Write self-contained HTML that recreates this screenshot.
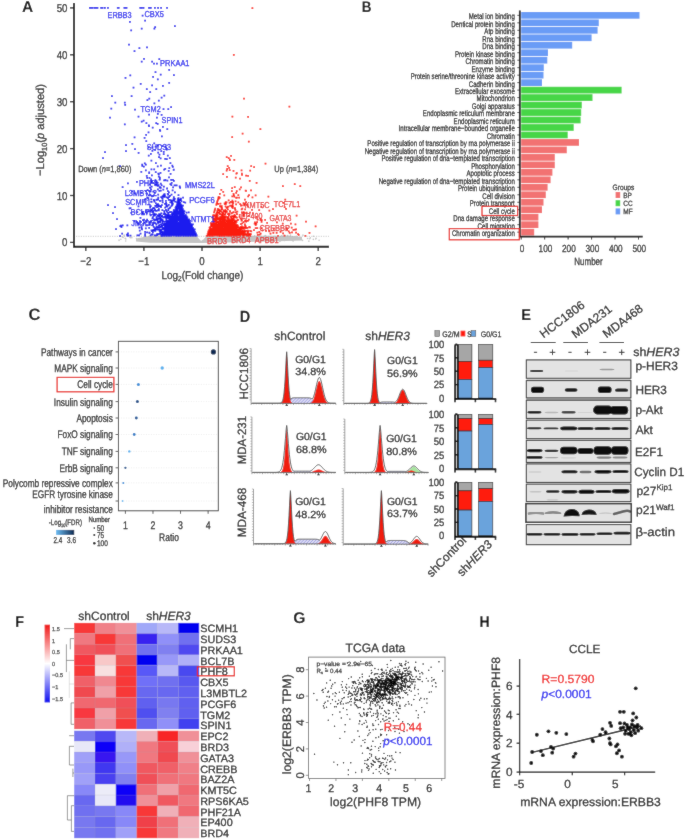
<!DOCTYPE html>
<html><head><meta charset="utf-8"><style>
html,body{margin:0;padding:0;background:#fff;width:685px;height:840px;overflow:hidden}
svg{display:block;will-change:transform}
text{text-rendering:geometricPrecision}
text{font-family:"Liberation Sans",sans-serif}
</style></head><body>
<svg width="685" height="840" viewBox="0 0 685 840">
<defs><filter id="soft" x="0" y="0" width="685" height="840" filterUnits="userSpaceOnUse"><feConvolveMatrix order="3" kernelMatrix="0.02 0.05 0.02 0.05 0.72 0.05 0.02 0.05 0.02" edgeMode="duplicate" preserveAlpha="true"/></filter></defs>
<g filter="url(#soft)">
<rect width="685" height="840" fill="#fff"/>
<path d="M136 238.5L150 235.8L196 235.4L201.5 241.5L207 235.4L290 235.8L302 237L302 240.5L230 242.6L201.5 243L150 242.8L136 241.5Z" fill="#c4c4c4"/>
<path d="M244.27 241.08h0M274.69 236.38h0M178.63 240.91h0M119.06 240.55h0M279.01 238.08h0M179.21 236.75h0M169.48 237.92h0M219.92 238.67h0M319.09 240.35h0M243.68 241.72h0M161.49 235.92h0M241.73 235.11h0M125.21 238.4h0M212.17 241.22h0M245.1 238.4h0M218.37 236.53h0M120.38 236.15h0M257.79 236.2h0M192.65 234.83h0M285.67 235.88h0M172.06 240.96h0M220.98 240.73h0M247.22 239.99h0M136.48 238.59h0M220.57 240.9h0M190.98 238.99h0M129.97 237.51h0M183.25 235.85h0M282.9 237.46h0M315.71 238.93h0M240.22 239.27h0M254.64 235.86h0M206.94 236.48h0M313.5 236.31h0M253.7 236.9h0M294.56 239.44h0M144.59 240.72h0M308.88 241.13h0M233.08 235.82h0M156.88 241.3h0M229.57 236.06h0M296.58 239.29h0M233.08 237.43h0M125.69 240.93h0M212.48 238.63h0M183.08 240.06h0M123.09 237.41h0M124.13 235.66h0M313.36 239.4h0M294.31 237.21h0M237.24 239.59h0M189.79 238.43h0M272.58 241.16h0M148.51 241.33h0M119.05 240.07h0M281.73 235.76h0M202.62 240.51h0M120.88 239.2h0M278.19 238.39h0M264.62 236.38h0M158.1 237.34h0M154.24 237.22h0M309.52 238.81h0M186.69 236.7h0M310.31 237.91h0M316.04 238.41h0M223.28 241.08h0M268.04 238.86h0M204.18 240.95h0M201.15 241.26h0M131.88 237.81h0M222.94 241.46h0M168.7 240.44h0M254.65 239.82h0M245.18 241.6h0M185.2 237.59h0M158.99 235.15h0M161.01 241.21h0M287.71 235.59h0M239.96 238.15h0M238.13 239.41h0M179.95 241.53h0M212.1 239.2h0M246.32 236.09h0M130.5 237.68h0M272.33 240.51h0M265.46 235.59h0M302.5 240.41h0M295.29 238.46h0M302.96 235.13h0M124.12 234.94h0M169.06 236.54h0M155.88 238.77h0M125.88 238.93h0M151.53 239.55h0M122.26 236.97h0M307.54 238.57h0M281.94 239.41h0M241.37 236.14h0M234.03 235.08h0M279.94 241.52h0M290.51 235.15h0M186.41 237.03h0M140.77 239.19h0M279.09 237h0M292.29 240.38h0M144.09 240.17h0M296.29 236.18h0M233.88 239.27h0M241.09 235.47h0M251.56 239.22h0M284.42 240.42h0M184.09 239.85h0M293.19 241.05h0M150.63 234.99h0M249.46 236.3h0M231.87 241.41h0" stroke="#c4c4c4" stroke-width="1.6" stroke-linecap="round" fill="none"/>
<path d="M180.42 208.97h0M174.31 225.67h0M180.46 232.38h0M168.09 225.91h0M174.34 233.48h0M178.49 227.12h0M190.21 228.19h0M174.19 232.45h0M191.28 234.81h0M182.82 214.48h0M178.61 198.47h0M182.89 226.2h0M177.21 228.33h0M172.52 229.12h0M166.82 232.06h0M191.86 229.14h0M182.27 230.43h0M183.55 231.37h0M186.05 230.79h0M191.83 232.18h0M170.52 232.28h0M164.89 230.65h0M173.4 223h0M182.63 225.88h0M179.91 230.31h0M178.38 234.09h0M176.67 210.09h0M174.66 234.04h0M176.4 213.5h0M178.45 233.65h0M167 229.39h0M190.67 229.35h0M176.11 234.8h0M190.97 224.05h0M186.53 221.95h0M185.75 231.33h0M189.18 228.98h0M176.44 225.59h0M182.97 222.03h0M181.77 212.86h0M176.67 226.21h0M175.06 228.52h0M180.72 222.12h0M193.22 234.79h0M173.38 211.7h0M183.47 230.22h0M179.77 209.78h0M169.6 223.57h0M170.8 229.68h0M167.31 233.88h0M171.89 214.37h0M181.11 217.84h0M167.09 234.34h0M178.52 198.9h0M171.44 231.87h0M179.43 214.13h0M177.35 212.49h0M188.83 232.64h0M192.85 231.85h0M174.71 231.58h0M180.76 233.37h0M169.7 231.12h0M179.88 216.04h0M183.37 220.88h0M178.32 235.87h0M176.33 224.13h0M180.06 203.02h0M168.08 231.65h0M183.97 223.55h0M169.65 231.93h0M181.16 233.75h0M181.25 221.35h0M195.83 233.44h0M182.59 224.08h0M174.6 233.87h0M177.25 233.09h0M180.7 207.34h0M179.16 227.33h0M175.34 214.95h0M180.84 204.46h0M177.16 226.16h0M171.61 232.04h0M178.92 203.59h0M187.95 231.73h0M189.42 228.59h0M179.17 231.41h0M185.74 228.84h0M187.86 234.44h0M189.92 227.35h0M190.65 228.09h0M180.85 221.93h0M174.96 226.15h0M181.83 211.87h0M176.74 231.69h0M175.57 229.57h0M173.78 233.48h0M186.1 222.6h0M176.38 235.98h0M183.11 227.55h0M171.83 221.99h0M175.86 232.07h0M182.69 232.84h0M192.74 233.85h0M171.82 217.59h0M189.75 235.24h0M165.32 235.5h0M181.37 216.59h0M194.91 231.52h0M176.52 210.38h0M186.62 227.92h0M166.13 228.71h0M176.41 233.35h0M184.29 227.14h0M172.4 218.84h0M186.56 235h0M185.83 235.4h0M180.48 227.46h0M190.34 234.6h0M193.4 229.96h0M190.13 229.4h0M163.64 235.45h0M178.49 200h0M186.22 230.43h0M179.72 231.7h0M183.39 233.11h0M187.19 225.21h0M174.6 213.88h0M182.15 230.33h0M190.55 234.83h0M183.42 234.84h0M186.9 232.64h0M183.37 235.72h0M178.81 206.84h0M179.07 230.26h0M191.95 233.25h0M193.43 235.41h0M176.09 211.14h0M189.38 231.42h0M176.32 227h0M180.95 209.38h0M174.33 229.28h0M177.23 224.06h0M179.56 223.17h0M191.17 235.75h0M181.39 220.74h0M180.05 212.94h0M182.72 214.14h0M179.1 214.88h0M183.02 225.97h0M171.68 234.15h0M177.53 231.09h0M187.71 220.03h0M174.88 220h0M182.06 234.45h0M181.66 221.87h0M183.19 230.47h0M178.79 231.07h0M190.63 229.81h0M175.89 216.49h0M185.03 227.65h0M189.37 223.91h0M163.5 234.87h0M181.64 227.99h0M175.17 230.95h0M186.98 234.82h0M172.88 217.25h0M180.13 234.48h0M181.24 224.59h0M177.96 233.25h0M184.46 235.66h0M176.72 230.8h0M177.44 210.83h0M181.49 228.69h0M189.87 223.37h0M184.98 222.74h0M184.21 224.03h0M181.93 234.99h0M191.85 225.91h0M173.29 226.53h0M190.52 228.85h0M181.29 210.96h0M188.36 225.01h0M176.95 210.39h0M171.12 235.46h0M178.42 201.36h0M192.67 233.79h0M166.18 231.53h0M188.61 233.53h0M168.43 231.2h0M182.79 216.46h0M170.08 218.24h0M173.08 234.45h0M181.84 221.21h0M176.23 235.75h0M184.49 221.09h0M185.24 220.48h0M186.25 230.08h0M178 203.42h0M187.56 221.39h0M177.4 217.31h0M189 230.99h0M190.41 229.31h0M181.84 232.49h0M190.24 228.32h0M171.24 226.63h0M178.43 200.58h0M193.48 230.99h0M178.66 201.17h0M183.5 232.72h0M177.94 200.46h0M170.38 217.12h0M164.56 228.16h0M175.12 234.13h0M179.46 224.54h0M178.48 198.01h0M174.32 212.15h0M163.93 233.98h0M195.81 235.62h0M191.69 233.89h0M182.47 235.48h0M172.26 220.69h0M170.72 219.03h0M177.54 230.17h0M192.36 233.63h0M179.28 201.1h0M174.51 226.18h0M185.11 217.47h0M188.87 227.84h0M188.09 231.66h0M162.64 234.15h0M188.81 226.15h0M188.99 235.59h0M178.88 234.23h0M191.33 234.67h0M189.45 227.26h0M179.56 233.91h0M191.12 228.7h0M182.41 234.65h0M179.04 200.78h0M191.42 230.7h0M171.8 234.16h0M175.35 233.36h0M187.83 229.48h0M176.11 231.63h0M169.19 232.28h0M182.73 214.21h0M165.04 230.54h0M186.24 234.85h0M175.6 222.98h0M186.22 229.99h0M190.03 222.8h0M174.09 230.47h0M183.13 211.35h0M184.17 232.85h0M180.12 227.49h0M193.4 231.15h0M194.97 235.78h0M182.22 214.52h0M180.25 231.53h0M181.92 212.84h0M165.73 228.09h0M188.21 232.71h0M177.28 209.25h0M180.96 226.62h0M177.71 201.07h0M182.24 213.75h0M180.53 231.29h0M181.09 233.19h0M171.65 226.52h0M192.93 232.98h0M170.33 224.27h0M185.5 228.21h0M180.8 232.9h0M179.38 212.93h0M183.47 220.83h0M164.57 231.76h0M190.62 230.84h0M188.17 235.62h0M178.05 233.88h0M193.2 228.95h0M177.81 225.23h0M174.1 219.09h0M169.31 229.77h0M171.64 229.34h0M175.41 223.47h0M179.06 230.28h0M187.65 229.82h0M181.05 228.93h0M185.38 235.6h0M177.65 233.6h0M184.01 229.48h0M166.02 229.7h0M182.63 233.82h0M191.81 230.91h0M190.03 224.88h0M181.72 233.86h0M176.46 211.71h0M174.18 228.81h0M168.66 222.18h0M172.02 224.74h0M188.06 228.62h0M193.17 228h0M173.82 223.52h0M171.58 234.72h0M179.58 233.73h0M186.75 223.59h0M192.65 229.77h0M191.87 234.26h0M177.3 220.02h0M178.08 202.41h0M179.84 202.77h0M170.26 222.71h0M170.94 234.61h0M174.75 231.77h0M181.83 229.66h0M196.22 234.73h0M176.01 207.08h0M168.48 224.31h0M169.27 228.88h0M183.32 211.11h0M191.99 229.02h0M189.8 230.33h0M180.29 226.12h0M177.04 233.3h0M180.7 221.23h0M187.41 227.8h0M177.86 235.23h0M184.92 223.36h0M171.23 234.71h0M177.26 229.47h0M180.08 211.45h0M177.51 201.58h0M176.58 214.6h0M189.43 222.53h0M176.09 210.03h0M194.11 235.45h0M176.76 231.59h0M187.88 234.48h0M187.3 235h0M166.99 233.41h0M189.26 232.53h0M180.89 226.02h0M188.07 228.06h0M174.49 227.1h0M169.95 221.55h0M184.62 235.91h0M184.48 211.33h0M180.99 219.94h0M189.52 223.74h0M168.88 231.6h0M189.69 232.69h0M185.66 231.51h0M165.98 235.88h0M177.24 209.04h0M188.73 233.64h0M190.04 235.83h0M185.59 218.25h0M187.97 225.99h0M187.05 221.67h0M191.1 231.89h0M188.83 235.89h0M187.25 222.32h0M181.8 222.39h0M181.61 221.42h0M188.15 227.72h0M187.7 229.71h0M178.54 213.06h0M165.34 235.35h0M181.89 215.85h0M189.96 228.88h0M189.14 225.24h0M194.3 235.54h0M182.61 209.55h0M174.34 232.46h0M195.81 233.75h0M178.85 200.21h0M174.33 233.24h0M179.37 224.81h0M176.44 232.84h0M195.69 234.68h0M184.77 229.37h0M191.99 235.9h0M186.93 229.02h0M180.56 207.07h0M180.76 209.99h0M189.33 234.97h0M176.68 234.61h0M185.39 228.57h0M165.59 235.45h0M195.11 235.09h0M164.53 235.97h0M172.83 213.04h0M180.86 208.86h0M176.9 218.05h0M193.01 234.25h0M182.78 235.69h0M188.28 229.44h0M171.71 228.21h0M176.45 228.53h0M186.15 226.02h0M187.36 217.41h0M186.7 231.5h0M164.66 235.94h0M177.4 219.47h0M182.69 235.58h0M177.08 219.95h0M189.32 230.04h0M184.38 224.82h0M184.87 225.71h0M191.84 235h0M169.17 233.25h0M176.22 218.36h0M167.42 229.76h0M184.14 229.38h0M192.97 230.49h0M179.48 227.03h0M180.04 231.81h0M170.9 222.73h0M172.71 229.21h0M178.28 222.62h0M180.19 233.91h0M177.92 223.54h0M168.95 234.05h0M183.07 232.44h0M170.76 231.29h0M176.76 205.07h0M180.83 231.12h0M188.96 231.38h0M173.47 229.65h0M166.96 228.91h0M176.75 217.49h0M178.58 219.57h0M179.41 211.37h0M175.49 235.09h0M196.03 235.88h0M184.9 218.28h0M189.79 230.69h0M193.99 230.87h0M174.68 229.1h0M182.74 219.27h0M185.65 228.16h0M184.95 233.84h0M187.02 230.39h0M169.32 234.82h0M188.93 233.78h0M171.25 228.44h0M176.34 227.54h0M171.04 219.49h0M192.79 231.35h0M185.41 229.83h0M181.48 234.24h0M179.49 218.16h0M172.78 235.21h0M190.54 234.55h0M179.76 228h0M179.53 233.03h0M181.57 235.74h0M170.42 233.59h0M179.9 204.79h0M175.17 230.98h0M175.91 235.34h0M181.63 209.52h0M183.09 215.77h0M168.48 234.67h0M174.74 235.28h0M187.85 223.53h0M189.87 227.92h0M169.8 229.03h0M179.27 234.48h0M189.31 233.82h0M182.15 208.9h0M186.57 228.27h0M185.49 229.05h0M192.22 231.27h0M174.95 213.71h0M191.51 234.47h0M188.19 225.8h0M185.1 233.52h0M185.7 230.42h0M176.48 235.13h0M176.51 208.06h0M193.97 235.85h0M175.14 226.75h0M174.3 225.84h0M185.73 225.27h0M165.79 232.94h0M173.24 223.51h0M183.56 212.21h0M177.77 202.1h0M189.03 224.8h0M184.37 225.74h0M183.39 233.84h0M183.67 234.15h0M171.65 227.06h0M178.83 220.3h0M175.85 226.45h0M178.89 232.2h0M172.69 220.67h0M178.05 200.35h0M189.83 223.45h0M170.43 235.01h0M172.17 219.2h0M193.63 233.28h0M170.28 226.04h0M183.08 234.89h0M193.12 233.77h0M172.13 221.52h0M174.61 213.23h0M173.69 232.31h0M183.66 230.28h0M176.99 207.41h0M188.49 225.88h0M175.87 216.52h0M188.67 222.45h0M170.09 234.28h0M183.92 217.22h0M177.22 235.89h0M188.11 226.36h0M168.2 228.37h0M177.64 225.04h0M179.75 203.3h0M192.6 228.13h0M183.09 234.39h0M180.11 219.93h0M170.35 221.18h0M179.88 234.17h0M186.01 218.86h0M183.01 232.18h0M177.03 206.7h0M180.98 210.89h0M170.49 220.74h0M183.96 234.39h0M180.38 230.32h0M191.41 229.53h0M171.97 227.34h0M168.76 227.36h0M186.77 229.76h0M179 228.66h0M178.81 213.15h0M180.5 233.82h0M178.38 201.38h0M165.51 232h0M182.03 218.43h0M184.85 225.66h0M181.92 209.62h0M186.69 235.07h0M176.69 233.35h0M174.43 220.07h0M179.69 235.14h0M190.52 232.86h0M171.44 232.28h0M176.94 226.52h0M177.19 206.1h0M180.78 220.92h0M171.21 235.31h0M172.83 233.88h0M187.11 218.95h0M182.9 222.48h0M174.93 229.6h0M195.38 234.72h0M187.69 228.48h0M172.35 216.49h0M170.89 234.55h0M182.38 217.45h0M188.66 230.57h0M167.64 233.67h0M181.51 214.96h0M171.86 234.7h0M188.95 234.02h0M184.7 234.66h0M175.28 228.5h0M174.94 230.38h0M176.28 226.07h0M185.01 224.96h0M176.24 215.17h0M182.73 221.31h0M165.39 230.36h0M168.1 231.29h0M186.89 232.35h0M173.53 232h0M183.3 222.98h0M190.54 231.28h0M194.05 230.12h0M190.77 229.57h0M172.95 221.14h0M179.06 201.51h0M167.49 224.21h0M179.17 234.46h0M180.38 230.42h0M184.89 230.47h0M181.17 216.52h0M174.35 214.21h0M169.1 220.81h0M173.65 234.33h0M192.92 229.45h0M169.39 222.87h0M174.23 216.54h0M185.99 233.94h0M183.65 224.17h0M179.93 229.46h0M180.57 220.33h0M188.64 234.31h0M179.84 230.41h0M182.14 222.92h0M171.92 220.79h0M178.29 199.87h0M192.27 234.53h0M167.47 231.62h0M194.69 235.83h0M176.88 228.07h0M180.86 222.09h0M184.29 217.59h0M178.68 200.52h0M181.33 229.98h0M182.16 210.62h0M179.76 228.78h0M180.76 234.62h0M175.42 221.19h0M178.53 223.51h0M167.49 231.86h0M169.11 227.41h0M170.22 226.8h0M189.89 231.21h0M171.46 220.27h0M169.33 219.44h0M168.74 232.6h0M177.1 218.52h0M183.71 226.57h0M186.76 235.75h0M178.41 199.92h0M175.34 229.06h0M175.56 218.87h0M177.4 232.55h0M175.43 218.61h0M168.23 222.14h0M179.19 222.82h0M172.64 228.64h0M184.96 215.86h0M175.71 228.69h0M188.58 228.65h0M181.82 224.39h0M180.32 221.4h0M186.07 234.27h0M193.84 234.11h0M191.45 230.22h0M185.1 227.88h0M189.23 231.27h0M175.97 223.2h0M182.23 227.47h0M177.92 235.53h0M175.97 218.41h0M184.83 233.38h0M162.39 231.82h0M181.43 223.67h0M177.51 231.48h0M177.96 225.72h0M186.56 230.57h0M187.64 224.41h0M179.87 234.61h0M182.76 233.89h0M170.49 230.01h0M177.15 202.27h0M177.68 226.25h0M182.99 235h0M182.2 231.78h0M180.51 220.72h0M193.75 233.63h0M194.33 233.33h0M173.49 218.6h0M167.09 225.68h0M189.45 232.38h0M163.94 228.95h0M187 224.48h0M194.71 233.74h0M183.2 211.97h0M190.17 225.52h0M175.84 211.13h0M167.94 235.77h0M191.31 234.84h0M175.25 219.38h0M178.29 226.2h0M186.09 234.12h0M164.92 227.32h0M174.77 227.44h0M170.65 217.33h0M181.71 229.91h0M170.81 229.91h0M173.74 221.01h0M176.85 215.51h0M180.81 227.04h0M188.43 233.61h0M185.82 235.07h0M176.01 211.2h0M181.16 221.24h0M183.46 215.88h0M187.21 233.9h0M181.34 231.46h0M169.42 235.85h0M195.62 233.25h0M188.72 235.19h0M180.05 203.57h0M164.88 235.82h0M189.72 224.05h0M184.93 223.32h0M187.43 232.49h0M181.39 217.44h0M170.65 235.62h0M186.16 224.66h0M169.97 232.79h0M181.43 229.91h0M181.67 233.44h0M175.54 232.58h0M186.07 219.42h0M180.73 230.21h0M178.26 198.54h0M173.72 232.81h0M170.9 234.58h0M187.17 232.95h0M171.41 218.5h0M167.71 232.05h0M166.54 234.86h0M191.12 233.32h0M164.46 234.59h0M183.8 224.78h0M181.4 234.2h0M179.74 223.13h0M180.7 218.71h0M189.81 235.72h0M175.83 231.43h0M181.26 228.1h0M179.3 234.14h0M192.93 232.18h0M170.61 231.04h0M188.99 228.18h0M174.94 228.03h0M178.83 233.78h0M182.44 228.04h0M180.67 229.8h0M188.38 220.7h0M177.7 230.71h0M187.51 226.33h0M183.69 229.87h0M187.26 230.23h0M184.4 221.23h0M189.28 229.44h0M182.83 233.43h0M179.03 230.5h0M177.11 229.95h0M176.02 235.61h0M169.26 229.4h0M179.89 215.91h0M164.63 229.05h0M177.65 213.63h0M183.32 213.27h0M177.41 222.13h0M186.24 235.65h0M181.77 220.13h0M194.34 235.09h0M178.17 230.58h0M171.21 224.55h0M173.79 223.07h0M176.32 206.69h0M193.03 228.58h0M183.47 225.2h0M187.81 235.79h0M178.56 224.33h0M172.57 218.72h0M192.07 229.23h0M186.48 217.61h0M182.63 229.35h0M177.85 204.54h0M189.4 227.67h0M171.95 228.86h0M168.92 235.24h0M179.45 222.97h0M171.68 230.19h0M165.64 226.23h0M182.95 222.66h0M189.2 231.55h0M183.6 210.92h0M162.65 233.27h0M191.32 231.85h0M180.99 221.54h0M168.92 234.53h0M179.82 229.02h0M184.79 221.1h0M187.69 233.64h0M177.33 204.02h0M175.58 230.23h0M177.57 234.12h0M181.24 222.04h0M181.85 210.17h0M172.17 234.92h0M180.54 216.21h0M182.86 231.92h0M183.65 210.52h0M189.46 233.47h0M170.76 229.22h0M171.36 235.68h0M178.44 235.44h0M165.61 230.61h0M186.51 217.01h0M180.73 227.55h0M179.99 218.72h0M184.01 227.87h0M180.5 233.87h0M185.83 215.05h0M184.97 233.31h0M179.65 230.51h0M191.02 231.26h0M177.06 217.37h0M176.81 230.63h0M188.29 234.71h0M185.77 230.99h0M184.82 234.2h0M188.15 230.3h0M168.13 233.82h0M174.16 227.52h0M180.21 220.48h0M190.81 227.7h0M174.18 231.29h0M178.81 234.96h0M175.49 207.52h0M188.29 230.98h0M177.73 202.19h0M180.96 210.02h0M179.4 217.25h0M189.08 223.39h0M180.05 219.7h0M183.06 226.96h0M176.9 224.62h0M175.29 221.97h0M164.76 233.55h0M169.51 229.79h0M189.99 224.63h0M177.45 209.16h0M190 231.94h0M183.76 220.82h0M184.19 231.99h0M192.77 233.65h0M173.86 229.05h0M185.58 229.23h0M183.04 227.72h0M187.17 229.59h0M184.3 234.9h0M187.94 228.3h0M174.94 216.87h0M178.32 232.15h0M189.48 233.77h0M180.17 230.14h0M166.9 227.99h0M184.44 228.42h0M174.93 231.82h0M184.26 220h0M186.05 233.1h0M182.1 223.51h0M179.01 234.4h0M188.59 227.47h0M177.16 214.28h0M168.06 223.13h0M179.83 231.51h0M182.85 232.28h0M181.69 209.69h0M173.63 233.81h0M173.05 231.57h0M189.79 229.14h0M179.26 208.62h0M181.04 215.61h0M169.79 228.18h0M173.8 216.23h0M175.65 227.02h0M191.52 228.16h0M186.41 223.52h0M183.62 219.93h0M165.56 226.63h0M184.5 232.49h0M188.74 235.3h0M176.26 224.8h0M188.59 224.95h0M165.95 233.99h0M177.09 221.79h0M181.06 205.57h0M178.92 233.17h0M179.74 223.27h0M179.83 226.62h0M185.15 227.4h0M179.54 230.83h0M178.79 223.12h0M182.27 219.86h0M193.15 228.09h0M168.8 220.67h0M181.39 216.64h0M187.31 223.2h0M183.76 225.13h0M167.89 220.91h0M179.89 220.65h0M178.37 231.2h0M187 224.18h0M190.56 233.35h0M181.67 212.04h0M169.39 231.73h0M178.71 235.96h0M193.65 233.11h0M187.8 225.39h0M176.39 214.38h0M175.17 223.57h0M184.24 223.7h0M195.35 235.47h0M177.36 233.88h0M171.95 234.75h0M175.11 234.59h0M183.44 224.16h0M178.79 205.49h0M178.17 208.7h0M186.41 233.25h0M166.96 230.38h0M178.69 205.69h0M172.02 221.34h0M178.59 200.66h0M169.99 231.18h0M177.52 218.93h0M173.17 226.17h0M167.37 223.26h0M178.53 205.91h0M176.01 234.7h0M176.99 233.76h0M183.55 216.13h0M178.84 212.84h0M178.36 199.02h0M179.42 223.47h0M181.32 230.59h0M183.3 230.66h0M176.67 226.52h0M170.68 235.82h0M176.31 219.47h0M171.97 223.35h0M177.03 227.85h0M170.37 233.49h0M181.93 222.46h0M175.5 225.74h0M176.87 228.45h0M185.51 224h0M180.03 214.65h0M175.59 231.25h0M191.49 231.33h0M172.73 214.34h0M187.44 232.52h0M181.1 224.16h0M180.31 233.11h0M178.59 234.98h0M180.35 235.93h0M188.03 220.44h0M183.68 235.97h0M170.65 222.73h0M182.4 226.2h0M181.22 233.25h0M187.81 230.4h0M189.74 225.95h0M176.91 208.51h0M168.9 231.9h0M178.78 211.39h0M181.13 216.64h0M162.38 232.66h0M179.92 227.79h0M193.29 234.07h0M176.77 222.48h0M176.57 206.81h0M181.81 227h0M180.34 225.94h0M172.44 224.82h0M176.49 229.32h0M174.59 227.64h0M181.66 220.88h0M182.98 234.47h0M173.1 231.77h0M173.45 220.97h0M168.98 225.13h0M186.01 225.66h0M168.83 226.99h0M176.07 233.87h0M173.83 234.32h0M189.03 235.81h0M172.09 229.35h0M188.94 233.52h0M168.41 227.47h0M173.95 227.42h0M181.11 234.32h0M181.63 226.48h0M170.99 218.93h0M190.72 233.58h0M195.29 234.52h0M169.97 232.08h0M187.72 227.87h0M194.73 233.01h0M174.84 230.38h0M175.76 211.29h0M189.11 235.47h0M182.6 231.19h0M185.53 234.33h0M182.59 232.55h0M167.91 234.39h0M169.89 234.16h0M177.95 233.92h0M194.64 233.89h0M178.62 216.8h0M183.63 214.93h0M185.86 228.03h0M190.05 230.19h0M163.3 235.38h0M191.64 235.29h0M168.88 225.44h0M167.49 223.09h0M175.73 215.35h0M174.76 231.73h0M168.54 234.53h0M193.94 235.14h0M180.93 231.76h0M195.79 234.51h0M186.57 216.26h0M179.63 227.95h0M184.97 234.49h0M178.87 232.56h0M171.57 233.13h0M194.31 233.46h0M182.29 208.43h0M185.58 228.83h0M172.79 229.44h0M185.52 216.14h0M184.62 226.14h0M194.93 232.84h0M173.25 229.41h0M181.71 217.07h0M171.07 216.82h0M195.48 234.79h0M181.98 231.16h0M180.61 233.56h0M186.43 228.63h0M194.6 234.04h0M179.62 225.2h0M174.12 223.61h0M184.02 215.84h0M187.21 231.99h0M175.62 226.94h0M173.95 220.32h0M181.57 209.18h0M181.35 205.03h0M185.84 226.34h0M188.06 221.92h0M196.65 235.84h0M167.66 232.71h0M178.76 204.07h0M181.91 225.18h0M181.17 234.56h0M186.08 231.91h0M183.82 228.15h0M168.55 234.32h0M170.29 235.7h0M173.84 217.82h0M184.37 233.58h0M176.3 231.28h0M175.19 221.43h0M175.14 225.05h0M186.63 229.76h0M182.23 207.74h0M190.96 225.66h0M174.74 214.92h0M175.43 233.71h0M176.98 225.64h0M176.09 225.36h0M178.04 230.22h0M177.82 212.75h0M184.37 229.42h0M185.83 225.54h0M178.48 233.02h0M178.06 218.69h0M188.01 229.3h0M173.01 224.21h0M190.52 233.51h0M184.74 231.32h0M182.43 223.57h0M189.87 226.32h0M165.69 226.29h0M177.56 220.08h0M183.84 211.32h0M182.52 227.03h0M182.05 208.47h0M181.11 233.6h0M164.91 230.38h0M181.91 226.36h0M187.32 220.98h0M168.39 230.93h0M173.27 233.01h0M187.18 229.08h0M171.52 226.19h0M177.48 224.63h0M195.89 233.63h0M192.3 227.66h0M186.79 217.53h0M174.02 225.42h0M194.56 232.25h0M186.19 226.6h0M179.8 222.05h0M182.99 218.03h0M181.94 229.59h0M170.88 231.87h0M172.46 215.41h0M190.42 223.75h0M178.12 202.2h0M182.83 209.12h0M175.38 219.26h0M180.17 207.4h0M181.46 222.69h0M175.5 218.71h0M177.51 209.01h0M172.88 216.2h0M187.65 230.93h0M188.12 230.35h0M193.85 232.95h0M164.91 232.76h0M185.29 222.36h0M177.75 201.97h0M193.64 233.7h0M178.93 223.18h0M183.74 233.02h0M177.3 229.46h0M183.23 229.29h0M186.65 228.95h0M171.64 228.62h0M183.57 224.14h0M183.8 232.48h0M179.78 206.57h0M189.15 227.11h0M172.7 219.26h0M184.64 223.6h0M185.5 233.84h0M184.46 219.72h0M179.03 223.86h0M184.69 225.67h0M173.86 230.52h0M181.34 227.15h0M172.53 228.56h0M196.54 235.14h0M174.02 229.46h0M173.92 231.92h0M185.01 234.95h0M192.05 226.14h0M187.75 231.5h0M175.26 225.97h0M175.52 218.45h0M189.53 232.54h0M175.63 211.95h0M173.29 232.28h0M182.93 230.63h0M191.22 225.02h0M192.48 233.23h0M169.79 234.82h0M185.08 234.32h0M179.16 228.2h0M175.98 232.5h0M184.82 219.79h0M182.34 214.74h0M189.05 235.97h0M177.82 219.9h0M192.61 232.81h0M174.15 220.48h0M182.28 224.64h0M164.49 231.2h0M189.18 230.68h0M187.93 233.61h0M181.86 229.22h0M170.24 227.6h0M188.73 219.36h0M168.73 223.55h0M189.9 226.27h0M191.01 225.15h0M182.82 209.62h0M173.5 232.32h0M182.31 211.94h0M188.87 231.08h0M178.28 198.97h0M183.66 216.04h0M185.65 224.54h0M178.22 225.44h0M194.93 233.53h0M170.13 225.51h0M181.33 225.06h0M174.94 214.53h0M177.6 228.03h0M183.74 220.23h0M184.17 213.71h0M174.4 225.86h0M171.37 219.85h0M192.95 233.43h0M181.83 228.44h0M193.74 230.78h0M164.88 233.14h0M185.19 217.18h0M171.13 217.44h0M187.88 228h0M176.44 234.44h0M188.4 235.71h0M169.46 227.26h0M183.24 225.25h0M176.73 223.12h0M169.25 229.86h0M177.98 212.86h0M181.6 211.13h0M186.86 228.16h0M176.6 234.89h0M178.76 225.6h0M177.02 223.45h0M188.43 227.43h0M169.57 232.75h0M175.72 208.98h0M181.87 226.56h0M171.94 217.82h0M184.75 230.76h0M171.51 225.96h0M172.86 218.45h0M190.3 226.52h0M178.37 199.34h0M176.7 224.23h0M183.43 233.18h0M188.73 226.26h0M184.43 227.22h0M173.75 227.75h0M181.97 220.88h0M189.71 235.74h0M183.71 218.4h0M187.53 222.13h0M180.58 233.17h0M181.14 214.68h0M180.35 213.66h0M179.79 221.63h0M185.96 225.45h0M182.91 227.3h0M179.83 229.34h0M176.91 222.64h0M183.38 233.63h0M184.62 233.16h0M188.33 232.73h0M177.53 225.81h0M179.02 229.8h0M173.51 232.8h0M177.51 229.69h0M166.96 225.47h0M190.11 233.13h0M184.82 222.89h0M189.2 227.82h0M164.8 234.31h0M143.21 223.86h0M152.43 218.45h0M162.15 198.19h0M174.67 230.22h0M176.97 232.67h0M172.15 230.35h0M160.28 222.15h0M168.73 216.42h0M164.75 213.93h0M160.43 217.98h0M170.59 173.86h0M168.81 226.94h0M166.8 214.77h0M174.55 217.7h0M162.36 229.04h0M162.55 200.28h0M149.33 191.2h0M158.1 227.73h0M148.32 198h0M151.58 201.9h0M151.06 189.3h0M159.92 187.09h0M171.9 220.63h0M162.11 231.82h0M168.29 226.22h0M189.21 219.5h0M158.8 215.99h0M161.11 205.95h0M192.92 224.34h0M183 205.64h0M184.45 224.05h0M170.88 234.85h0M150.99 221.05h0M171.78 232.02h0M156.54 217.45h0M166.91 231.46h0M173.89 221.36h0M164.51 195.46h0M151.95 196.33h0M152.03 234.4h0M159.08 216.71h0M169.59 221.91h0M160.46 227.06h0M156.38 199.83h0M188.73 212.37h0M159.87 177.66h0M178.02 231.24h0M140.95 221.91h0M156.43 229.27h0M152.88 225.02h0M163.05 232.29h0M176.72 230.4h0M161.28 151.23h0M169.8 235.2h0M175.02 234.67h0M164.56 217.34h0M168.65 229.14h0M181.48 201.31h0M176.19 233.14h0M174.91 192.33h0M186.59 212.57h0M147.16 177.99h0M189.97 220.79h0M155.03 230.53h0M179.64 216.06h0M166.38 233.15h0M190.87 233.14h0M177.86 205.79h0M157.78 219.15h0M169.76 199.88h0M170.29 202.26h0M158.34 209.78h0M170.41 228.83h0M162.34 234.46h0M165.54 233.99h0M162.57 198.33h0M167.91 225.77h0M150.13 184.49h0M183.78 202.23h0M150.17 207.71h0M164.64 194.04h0M159.15 214.08h0M181.81 227.26h0M162.49 223.74h0M156.29 182.52h0M187.42 231.46h0M155.45 180.11h0M160.78 183.7h0M155.9 203.36h0M168.17 194.58h0M166.48 204.22h0M154.48 213.5h0M167.46 206.13h0M155.7 184.5h0M168.75 204.86h0M155.14 223.01h0M176.74 227.21h0M177.77 223.56h0M151.18 179.49h0M166.05 221.65h0M175.26 233.94h0M150.15 206.21h0M168.92 230.04h0M184.13 233.1h0M174.35 198.54h0M175.23 229.5h0M143.85 166.52h0M165.11 231.64h0M166.53 218.93h0M154.5 208.48h0M148.73 155.69h0M172.43 202.74h0M147.16 193.55h0M165.64 146.41h0M154.87 215.44h0M165.9 200.97h0M179.81 199.61h0M166.91 197.27h0M153.81 199.84h0M169.39 221.92h0M157.66 182.75h0M169.9 228.83h0M165.02 225.43h0M165.78 217.71h0M158.86 209.01h0M162.59 220.3h0M170.36 229.71h0M164.79 226.04h0M178.5 226.25h0M176.29 227.5h0M163.31 225.45h0M145.84 164.63h0M182.14 231.32h0M161.32 213.25h0M155.02 228.06h0M159.44 225.17h0M163.2 217.38h0M177.79 199.08h0M171.53 194.66h0M163.97 194.67h0M150.69 206.04h0M165.05 234.22h0M162.46 234.86h0M184.46 234.15h0M165.65 225.48h0M185.28 202.51h0M173.02 226.78h0M161.14 234.62h0M166.33 205.99h0M157.84 222.66h0M172.44 225.72h0M145.79 228.27h0M180.95 230.55h0M170.6 232.36h0M176.36 230.08h0M146.75 175.81h0M192.57 232.57h0M144.77 163.28h0M154.58 229.07h0M161.08 207h0M171.69 231.56h0M152.58 231.18h0M166.3 229.13h0M171.28 220.63h0M156.42 224.34h0M168.7 170.97h0M165.47 226.79h0M152.58 211.62h0M158.67 215.68h0M154.5 201.56h0M154.25 143.46h0M172.77 217.93h0M166.32 220.29h0M170.56 226.86h0M165.6 216.69h0M167.87 191.18h0M175.3 201.55h0M151.47 230.42h0M163.32 189.65h0M155.89 163.14h0M181.55 217.44h0M171.68 182.83h0M154.1 229.92h0M158.52 206.41h0M144.26 199.97h0M172.63 233.8h0M170.53 229.52h0M148.82 125.48h0M142.29 165.94h0M172.87 233.66h0M155.2 209.99h0M168.98 192.47h0M156.73 217.08h0M190.05 233.08h0M183.78 235.93h0M182.5 228.66h0M145.82 212.24h0M176.19 213.96h0M178.46 218.84h0M151.89 175.32h0M159.82 179.25h0M163.51 234.44h0M172.41 200.58h0M192.17 235.04h0M153.67 214.67h0M154.33 230.11h0M173.64 231.46h0M156.5 226.61h0M172.31 205.1h0M164.53 232.78h0M171.01 219.05h0M175.12 213.69h0M168.94 222.81h0M173.87 199.94h0M156.56 226.94h0M155.7 229.74h0M169.12 224.76h0M153.01 208.41h0M167.3 228.4h0M171.34 214.89h0M162.62 196.05h0M170.93 221.36h0M170.66 227.83h0M138.46 206.46h0M166.11 234.55h0M160.42 214.42h0M175.96 185.39h0M179.76 218.64h0M162.82 235.27h0M178.25 233.03h0M158.51 185.06h0M167.39 180.71h0M151.34 210.18h0M174.66 225.99h0M171.72 202.14h0M152.85 232.37h0M171.36 220.37h0M178.24 202.34h0M164.42 212.16h0M170.43 163.11h0M158.02 229.51h0M157.46 234.02h0M154.87 235.37h0M166.84 159.01h0M144.18 222.7h0M171.11 200.39h0M164.74 216.92h0M169.27 220.38h0M162.9 227.93h0M149.09 114.69h0M166.73 235.45h0M138.59 152.88h0M163.62 214.07h0M166.34 214.64h0M179.78 206.76h0M166.72 217.49h0M158.98 157.04h0M164.74 221.68h0M146.29 141.2h0M151.92 231.07h0M172.6 231.36h0M159.26 233.79h0M168.08 212.63h0M164.95 195.69h0M159.93 200.96h0M168.23 230.07h0M174.68 232.5h0M178.3 232.63h0M167.37 221.54h0M151.91 181.73h0M158.42 206.47h0M158 204.02h0M173.66 169.9h0M153.77 222.53h0M148.35 211.25h0M175.92 206.55h0M158.16 199.6h0M151.68 186.67h0M169.3 231.43h0M177.31 227.52h0M157.86 215.3h0M162.98 229.32h0M153.27 211.16h0M170.89 227.84h0M153.04 196.24h0M167.84 226.21h0M177.9 223.88h0M164.62 228.59h0M151.44 169.42h0M179.12 228.21h0M165.42 223.9h0M156.64 207.04h0M165.27 214.02h0M175.01 228.13h0M169.95 218.82h0M168.73 199.85h0M160.73 187.79h0M155.35 230.89h0M165.97 217.92h0M149.52 233.02h0M171.53 223.31h0M153.61 207.97h0M184.35 233.81h0M167.72 215.59h0M168.33 221.88h0M161.94 216.4h0M165.2 207.69h0M153.28 183.16h0M150.85 153.77h0M167.95 231.14h0M167.32 226.47h0M137.96 223.19h0M182.62 235.61h0M160.26 230.07h0M174.09 211.04h0M181.1 235.56h0M160.61 158.33h0M160.96 218.76h0M173.52 230.1h0M161.67 220.68h0M154.8 220.43h0M134.69 193.43h0M172.89 218.28h0M164.94 203.9h0M166.28 148.24h0M158.79 176.68h0M168.48 217.03h0M169.22 229.7h0M155.73 172.05h0M172.92 230.09h0M172.99 227.76h0M170.61 212h0M149.19 172.41h0M165.43 234.43h0M187.99 235.45h0M166.78 211.62h0M156.9 205.06h0M147.27 197.54h0M181.37 232.01h0M174.17 200.52h0M168.52 208.98h0M161.07 216.65h0M174.24 228.79h0M174.78 198.88h0M169.81 234.46h0M166.36 219.83h0M165.72 217.54h0M157.91 227.49h0M168.32 215.42h0M144.58 137.85h0M160.74 229.93h0M153.57 215.77h0M156.12 181.87h0M164.31 224.51h0M158.9 205.37h0M168.49 231.53h0M163.49 195.49h0M171.16 179.92h0M160.72 190.61h0M171.67 228.34h0M180.73 228.86h0M154.52 230.62h0M149.18 173.03h0M156.76 235.1h0M160.39 200.9h0M168.3 210.08h0M151.39 160.5h0M165.5 223.59h0M167.54 222.76h0M136.92 181.86h0M174.54 185.26h0M164.14 169.7h0M160.02 214.87h0M174.11 221.93h0M169.58 208.23h0M168.8 214.72h0M168.47 220.69h0M163.9 186.7h0M158.51 215.57h0M156.94 185.38h0M161.66 185.46h0M183.61 210.97h0M168.95 197.02h0M150.39 194.77h0M166.56 225.07h0M166.45 214.96h0M167.75 193.87h0M132.34 143.84h0M161.3 235.53h0M178.47 195.16h0M170.75 234.82h0M182 218.55h0M170.66 235.06h0M162.68 202.48h0M156.75 210.76h0M157.5 207.05h0M164.59 234.92h0M177.64 218.38h0M176.96 222.48h0M180.72 228.14h0M164.89 217.27h0M161.23 226.97h0M170.12 223.19h0M169.44 218.4h0M172.79 229.26h0M157.65 123.89h0M165.25 168.77h0M194.7 229.42h0M167.58 221.21h0M159.87 129.91h0M160.22 130.9h0M170.44 229.3h0M172.84 203.86h0M151.49 180.88h0M153.99 219.36h0M172.77 214h0M169.98 195.93h0M151.31 182.6h0M174.55 234.64h0M163.89 217.16h0M163.7 154.08h0M159.58 227.54h0M160 218.66h0M171.45 217.14h0M181.85 232.38h0M157.83 189.47h0M186.86 231.25h0M157.95 145.66h0M169.02 234.5h0M177.28 216.12h0M157.45 220.57h0M162.75 221.01h0M167.98 217.93h0M173.83 228.31h0M171.37 185.19h0M145.88 210.99h0M172.61 190.49h0M158.3 197.53h0M159.84 229.58h0M155.74 219.97h0M167.03 222.9h0M168.47 233.41h0M155.8 235.6h0M161.81 225.93h0M164.26 235.2h0M149.99 222.23h0M146.14 134.95h0M178.31 231.78h0M161.86 136.35h0M162.13 215.75h0M171.86 203.63h0M162.36 210.23h0M156 214.39h0M166.42 224.49h0M157.6 215.61h0M176.86 231.28h0M158.57 222.89h0M169.65 229.45h0M179.21 228.01h0M165.82 224.23h0M159.65 231.18h0M170.4 184.06h0M156.22 123.08h0M179.86 233.38h0M167.07 234.72h0M169.69 215.64h0M166.49 233.79h0M173.33 231.51h0M155.56 146.64h0M154.21 169.29h0M152.28 209.02h0M160.01 231.9h0M158.21 194.72h0M169.83 212h0M161.85 205.02h0M176.89 235.75h0M169.93 230.68h0M163.88 234.78h0M180.95 210.92h0M163.01 233.76h0M160.94 165.55h0M160.32 226.69h0M158.23 199.28h0M169.63 226.33h0M168.79 234.28h0M186.28 221.11h0M149.93 187.5h0M160.75 232.14h0M167.83 226.78h0M162.05 146.16h0M173.87 180.81h0M156.37 219.05h0M172.81 166.88h0M153.14 212.41h0M167.84 217.31h0M167.87 234.17h0M179.73 214h0M141.32 171.91h0M175.32 220.46h0M149.01 126.04h0M168.87 232.12h0M171.23 235.27h0M158.54 218.57h0M164.28 211.11h0M154.59 192.7h0M163.58 196.69h0M179.19 214.88h0M159.29 229.68h0M178.74 234.45h0M180.52 222.64h0M164.4 223.51h0M181.92 207.72h0M158.17 152.67h0M176.08 185.37h0M159.71 187.6h0M162.5 219.58h0M177.5 233.59h0M160.5 172.87h0M162.08 226.92h0M159.49 154.66h0M164.67 214.43h0M159.53 222.16h0M156.63 199.69h0M163.74 151.99h0M185 221.35h0M171.56 205.81h0M152.94 224.11h0M157.98 185.95h0M165.93 234.66h0M183.36 233.52h0M162.14 234.53h0M142.19 164.59h0M177.98 233.97h0M156.92 226.61h0M150.58 235.33h0M168.88 231.61h0M153.33 191.5h0M181.17 217.82h0M161.87 226.5h0M164.68 196.82h0M166.16 225.18h0M161.17 230.76h0M152.61 234.56h0M167.04 206.58h0M157.93 221.97h0M172.34 165.54h0M167.13 188.43h0M161.86 229.53h0M151.36 199.36h0M166.84 226.99h0M148.38 147.64h0M152.79 217.26h0M172.21 214.81h0M158.94 225.51h0M170.32 207.4h0M158.92 210.49h0M171.09 225.64h0M168.72 218.12h0M178.88 227.72h0M177.33 232.72h0M155.06 210.27h0M175.55 219.08h0M183.07 197.61h0M155.29 205.92h0M165.15 158.93h0M158.81 174.38h0M172.45 231.91h0M179.65 186.42h0M142.15 229.4h0M151.18 189.33h0M167.14 217.05h0M155.51 223.48h0M161.19 197.13h0M175.27 212.37h0M166.87 222.49h0M158.38 234.22h0M169.34 168.23h0M173.56 235.21h0M160.36 233.91h0M173.82 232.61h0M143.32 211.95h0M134.56 137.3h0M168.16 217.59h0M159.42 190.94h0M173.01 179.93h0M158.32 173.7h0M149.37 222.83h0M192.1 224.91h0M168.6 230.33h0M166.12 202.97h0M150.24 211.13h0M180.16 187.88h0M184.65 230.03h0M176.63 185.26h0M167.03 188.61h0M178.87 231.43h0M175.95 220.63h0M153.33 229.93h0M182.74 230.95h0M155.86 235.39h0M174.69 226.97h0M140.47 217.9h0M176.79 226.53h0M145.44 198.93h0M178.39 228.41h0M174.05 235.35h0M171.72 226.75h0M152.42 147.17h0M168.3 213.39h0M175.89 215.74h0M159.71 230.6h0M150.58 191.31h0M177.36 216.29h0M142.61 213.87h0M179.8 222.94h0M145.11 231.88h0M159.52 179.69h0M180.29 217.69h0M181.2 231.51h0M150.68 215.44h0M148.53 132.3h0M167.02 235.55h0M145.76 191.19h0M173.75 235.56h0M157.13 227.55h0M186.84 219.6h0M161.35 235.85h0M188.31 227.12h0M172.09 213.76h0M179.73 232.13h0M173.51 199.14h0M172.17 222.88h0M160.64 219.55h0M163.46 235.82h0M161.9 234.35h0M157.21 233.97h0M152.42 150.78h0M169.42 229.47h0M166.32 233.48h0M166.76 149.61h0M166.25 234.77h0M178.43 228.89h0M171.72 218.83h0M181.89 206.72h0M174.27 227.78h0M177.76 204.07h0M169.02 177.4h0M165.91 209.83h0M173.08 187.37h0M149.45 177.88h0M171.53 235.26h0M170.61 227.04h0M167.79 155.68h0M148.58 195.32h0M168.22 226.51h0M174.56 222.85h0M177.8 231.3h0M156.25 184.96h0M151.24 201.79h0M173.45 233.06h0M153.72 226.94h0M170.27 233.78h0M168.86 233h0M171.06 229.16h0M179.63 210.16h0M173.79 197.22h0M171.07 211.76h0M174.72 218.48h0M167.63 230.56h0M173.57 234.75h0M172.44 232.41h0M163.88 233.34h0M166.97 206.17h0M188.11 230.12h0M168.12 228.18h0M170.35 225.45h0M157.56 219.55h0M158.81 221.55h0M157.19 235.17h0M160.06 221.39h0M180.9 198.52h0M173.78 169.65h0M168.79 225.93h0M144.15 214.06h0M180.68 221.27h0M163.57 234.86h0M154.1 200.43h0M184.37 233.43h0M164.93 196.82h0M179.88 187.07h0M164.13 180.46h0M161 224.4h0M160.37 219.36h0M167.64 215.41h0M159.45 206.25h0M174.12 222.34h0M157.73 166.27h0M186.71 223.16h0M162.38 223.01h0M165.42 179.94h0M187.38 225.16h0M173.79 209.77h0M180.93 200.1h0M184.01 226.31h0M165.34 216.28h0M163.13 221.45h0M141.82 212.15h0M167.99 222.51h0M167.22 226.03h0M164.94 180.43h0M169.78 158.23h0M167.58 234.59h0M166.45 232.77h0M174.36 229.6h0M155.13 149.94h0M164.54 231.79h0M161.96 236h0M168.9 229.99h0M167.96 198.18h0M156.15 210.92h0M139.14 235.49h0M146.4 193.41h0M128.29 235.25h0M120.35 226.07h0M145.12 234.08h0M122.61 187.1h0M149.52 224.79h0M140.56 233.53h0M147.07 232.34h0M146.68 213.38h0M137.38 235.49h0M121.45 227.2h0M141.73 228.61h0M137 221.96h0M134.29 220.92h0M147.12 219.52h0M132 191.38h0M127.37 225.26h0M122.17 233.61h0M131.26 212.9h0M127.5 235.63h0M127.93 183.42h0M149.19 227.82h0M129.54 208.26h0M130.5 235.69h0M146.63 221.82h0M147.59 190.03h0M145.83 170.48h0M130.5 208.01h0M139.74 230.61h0M144.16 219.53h0M141.55 227.14h0M142.85 220.03h0M145.16 235.9h0M122.69 225.41h0M127.96 233.32h0M146.98 225.24h0M137.29 212h0M149.31 232.51h0M120.82 225.5h0M139.33 227.62h0M141.2 192.59h0M127.88 235.83h0M138.78 224.07h0M126.84 234.63h0M102.45 7.9h0M92.42 7.9h0M125.83 7.9h0M104.72 7.9h0M126.53 7.9h0M104.88 7.9h0M150.82 7.9h0M97.46 7.9h0M149.19 7.9h0M140.28 7.9h0M101.12 7.9h0M118.39 7.9h0M118.68 7.9h0M124.38 7.9h0M141.63 7.9h0M89.87 7.9h0M101.7 7.9h0M143.5 7.9h0M95.99 7.9h0M154.92 7.9h0M117.76 7.9h0M91.55 7.9h0M148.97 7.9h0M107.93 7.9h0M167.02 7.9h0M161.07 7.9h0M158.15 7.9h0M158.03 7.9h0M94.48 7.9h0M90.8 7.9h0M129.9 21.8h0M131.2 30.4h0M141.7 28.5h0M154.4 28.5h0M155.2 27.1h0M174.9 26.2h0M145.1 20.5h0M142.6 15.6h0M129 44.6h0M134.5 51.2h0M139.4 48h0M147 47.4h0M141.7 61.7h0M144 58.8h0M152.1 61.7h0M154 63.6h0M156.9 63.6h0M159.3 59.2h0M169.2 69.8h0M125.5 77.8h0M130.3 75.3h0M153.1 76.9h0M155.5 72.1h0M157.8 79.3h0M160.7 74.6h0M173.9 75h0M140.7 83.9h0M133.5 87.7h0M146.8 89.2h0M150.2 92h0M152.1 85.4h0M156.3 89.2h0M162.9 85.8h0M169.2 82.9h0M111.9 96h0M115.3 102.5h0M124.8 102.5h0M125.2 104.8h0M131.6 96h0M111.3 108.7h0M110 117.7h0M124.8 124.3h0M135 109.7h0M138.5 116.7h0M141.7 121.5h0M143.6 120.5h0M146.4 123h0M147.4 100.2h0M149.3 98.7h0M154.4 103.4h0M156.9 117.7h0M158.8 100.6h0M161.6 97.7h0M164.3 95.5h0M163.5 109.1h0M168.3 109.1h0M171.1 107.2h0M157.8 113.9h0M161.6 114.8h0M162.9 126.8h0M167.3 129h0M152.7 127.5h0M105 152h0M103 158h0M126 151h0M126 145h0M135 149h0M120 166h0M108 205h0M115 207h0M113 213h0M117 219h0M116 229h0M120 236h0" stroke="#1c1cee" stroke-width="1.75" stroke-linecap="square" fill="none"/>
<path d="M221.64 224.2h0M218.95 232.98h0M236.32 235.4h0M228.29 235.33h0M222.8 217.53h0M228.25 228.28h0M218.94 232.8h0M217.79 232.8h0M207.82 235.62h0M224.78 229.92h0M217.77 226.94h0M221.07 222.98h0M241.64 231.91h0M231.66 216.64h0M219.91 227h0M219.17 235.28h0M220.78 229.29h0M229.5 214.03h0M213.57 228.72h0M234.24 235.45h0M250.09 235.89h0M220.11 225.55h0M232.72 230.92h0M239.46 235.51h0M223.67 217.2h0M222.91 220.62h0M225.78 226.56h0M229.07 231.57h0M234.44 231.62h0M237.77 233.41h0M220.85 230.28h0M230.61 234.16h0M220.93 233.29h0M231.61 230h0M231.74 223.14h0M214.07 233.33h0M219.25 209.55h0M220.8 235.67h0M234.49 235.54h0M223.54 228.64h0M231.12 232.27h0M224.38 229.38h0M229.48 232.8h0M226.6 226.58h0M211.99 234.76h0M247.03 234.75h0M231.04 230.88h0M227.96 224.91h0M218.45 218.14h0M216.66 232.26h0M214.68 219.85h0M232.19 230.79h0M213.59 227.12h0M230.87 234.35h0M222.82 224.26h0M228.08 235.87h0M219.26 221.03h0M215.03 234.75h0M228.05 228.71h0M211.71 230.37h0M225.99 228.91h0M221.7 234.53h0M227.74 229.23h0M216.24 230.19h0M217.36 230.95h0M242.42 228.64h0M245.68 234.76h0M220.1 233.68h0M218.81 226.01h0M244.16 230.42h0M218.32 222.05h0M209.35 233.65h0M226.17 224.48h0M239.82 233.27h0M222 222.86h0M248.76 235.52h0M220 229.37h0M222.47 215.26h0M212.86 235.19h0M221.72 235.29h0M219.49 235.41h0M214.98 223.91h0M231.15 226.09h0M237.42 232.28h0M236.17 231.93h0M225.02 217.05h0M213.6 232.89h0M234.33 220.68h0M222.38 231.14h0M211.28 234.74h0M213.16 231.3h0M221.41 222.05h0M217.58 219.15h0M227.31 222.17h0M223.99 223.7h0M209.09 234.4h0M222.78 220.53h0M223.24 234.53h0M233.15 229.44h0M223.16 231.59h0M225.52 228.61h0M227.97 233.07h0M234.36 231.59h0M217.64 235.59h0M236.1 235.04h0M236.39 232.86h0M223.51 226.07h0M213.85 231.92h0M213.9 232.49h0M229.12 235.12h0M224.5 216.77h0M212.31 223.41h0M212.48 232.47h0M228.19 219.53h0M244.02 235.58h0M232.57 227.18h0M219.14 235.66h0M240.52 232.76h0M231.02 231.73h0M229.18 234.29h0M236.9 224.96h0M226.23 231.55h0M225.68 233.11h0M216.27 223.04h0M214.6 221.22h0M221.93 227.72h0M215.31 220.38h0M228.48 234.75h0M227.03 233.16h0M242.45 231.81h0M219.98 223.61h0M219.05 228.68h0M208.84 235.37h0M218.3 234.29h0M222.17 208.99h0M213.42 232.73h0M223.29 233.67h0M233.23 226.18h0M240.87 234.2h0M224.26 232.59h0M234.73 231.36h0M242.25 234.38h0M224.32 229.57h0M230.51 234.57h0M210.08 228.55h0M238.96 235.08h0M244.39 232.1h0M219.9 234.01h0M243.96 235.22h0M232.22 232.78h0M217.64 228.26h0M220.02 220.65h0M218.61 210.3h0M226.81 230.51h0M225.45 229.47h0M217.02 230.71h0M222.06 233.51h0M231.92 231.9h0M247.98 232.38h0M227.82 235.43h0M216.53 214.69h0M217.8 227.76h0M218.83 223.33h0M232.74 233.62h0M233.02 232.38h0M213.6 231.87h0M243.69 235.92h0M225.56 224.66h0M213.02 232.62h0M214.58 223.23h0M225.28 228.74h0M221.72 235.67h0M217.31 227.86h0M226.33 231.97h0M222.76 222.44h0M232.06 235.61h0M222.16 221.74h0M225.76 227.86h0M218.64 228.25h0M217.92 228.94h0M213.69 222.99h0M210.4 233.76h0M229.98 227.04h0M227.56 231.37h0M233 223.78h0M237.66 230.45h0M232.68 230.62h0M208.16 233.81h0M216.01 231.62h0M219.11 232.9h0M213.66 235.19h0M214.63 226.18h0M231.61 230.43h0M216.92 234.12h0M214.31 218.29h0M239.44 233.36h0M224.53 214.79h0M239.64 235.75h0M220.24 220.11h0M235.08 230.03h0M235.4 235.42h0M228.81 235.57h0M224.37 235.6h0M222.55 233.18h0M212.76 225.74h0M236.59 235.03h0M221.68 231.17h0M231.06 230.9h0M231.61 224.67h0M212.44 234.64h0M229.53 221.05h0M239.7 234.59h0M231.71 233.04h0M228.09 234.54h0M209.74 234.19h0M209.67 230.59h0M210.26 227.19h0M228.07 221.82h0M217.41 218.5h0M230.89 231.15h0M218.38 234.42h0M215.47 218.62h0M233.62 228.96h0M213.72 223.2h0M223.9 235.97h0M213.96 228.16h0M237.02 232.72h0M234.11 234.06h0M242.25 234.07h0M216.6 231.39h0M248.22 235.86h0M230.23 231.49h0M220.14 228.53h0M247.31 233.12h0M231.2 218.77h0M236.14 228.71h0M212.66 235.79h0M223.43 235.37h0M226.98 232.07h0M235.87 233.1h0M233.08 234.69h0M217.72 233.18h0M237.06 233.38h0M218.26 235.7h0M231.05 231.12h0M225.71 225.07h0M219.88 228.74h0M209.77 228.86h0M217.37 222.33h0M240.19 235.79h0M234.78 234.03h0M210.54 228.83h0M221.35 207.29h0M225.83 235.18h0M244.15 234.61h0M226.99 229.71h0M221.3 217.6h0M223.41 235.08h0M239.72 228.66h0M236.67 225.92h0M239.73 228.37h0M219.78 235.28h0M225.79 224.79h0M242.05 233.11h0M222.76 229.28h0M232 232.16h0M212.15 233.4h0M220.78 231.43h0M217.24 225.94h0M233.98 235.99h0M219.43 218.39h0M235.59 233.89h0M220.68 235.55h0M215 220h0M220.95 230.19h0M227.04 225.77h0M213.38 222.87h0M223.79 232.3h0M222.4 212.42h0M225.4 230.8h0M214.61 233.29h0M219.33 219.63h0M229.82 226.15h0M214.73 234.31h0M232.24 221.86h0M221.59 231.15h0M214.72 230.45h0M230.97 235.8h0M212.16 232h0M219.4 232.56h0M228.2 233.75h0M218.61 218.73h0M213.47 221.4h0M218.95 219.11h0M227.82 234.82h0M220.17 234.35h0M222.75 231.64h0M249.34 234.53h0M213.59 219.9h0M240.85 226.9h0M227.56 231.18h0M235.47 233.33h0M212.88 234.4h0M238.8 231.98h0M224.97 232.13h0M210.64 234.39h0M227.93 234.38h0M232.71 229.56h0M230.8 229.93h0M244.14 235.6h0M230.22 232.46h0M227.97 227.7h0M211.91 225.34h0M213.99 224.64h0M212.62 228.26h0M212.3 235.22h0M232.6 235.26h0M218.43 218.67h0M225.83 224.25h0M220.81 226.66h0M211.49 230.37h0M229.75 235.33h0M209.89 229.44h0M234.22 227.29h0M212.85 223.99h0M216.57 232.11h0M220.13 233.57h0M212.53 230.92h0M225.13 233.53h0M235.87 226.54h0M219.04 229.06h0M206.68 235.9h0M216.26 214.16h0M210 234.11h0M225.75 226.3h0M229.16 220.76h0M216.1 234.94h0M225.16 235.21h0M235.63 229.8h0M221.97 207.81h0M233.29 233.54h0M225.03 220.35h0M227.89 235.03h0M224.75 229.96h0M239.78 233.93h0M219.23 234.37h0M210.83 230.1h0M222.35 212.7h0M223.05 225.74h0M236.75 231.7h0M246.62 234.43h0M217.51 217.1h0M238.82 229.78h0M239.37 233.08h0M231.4 225.91h0M227.62 231.59h0M216.94 227.07h0M225.08 234.55h0M228.11 235.7h0M216.46 217.32h0M236.6 233.43h0M230.03 233.72h0M235.29 235.69h0M217.56 216.12h0M214.7 235.08h0M237.84 233.64h0M233.45 228.51h0M217.32 226.86h0M208.47 233.83h0M218.08 230.31h0M217.61 226.79h0M220.74 233.71h0M221.78 234.98h0M215.44 232.75h0M231.28 217.96h0M223.59 229.21h0M218.49 221.77h0M217.94 235.03h0M233.75 235.28h0M230.48 232.6h0M241.97 231.88h0M217.89 233.94h0M238.37 234.72h0M216.55 221.62h0M223.23 213.36h0M242.78 233.93h0M228.64 218.87h0M239.73 229.55h0M222.14 226.95h0M216.45 232.42h0M215.97 232.81h0M235.74 232.7h0M228.9 232.57h0M208.99 230.55h0M217.98 228.5h0M228.67 226.26h0M218.18 225.97h0M228.19 221.79h0M216.77 234.94h0M214.22 230.09h0M216.25 232.78h0M223.82 219.02h0M222.43 229.36h0M238.92 234.58h0M209.94 235.63h0M233.5 228.87h0M220.18 233.75h0M230.28 235.97h0M219.55 213.84h0M211.57 235.98h0M240.25 227.25h0M217.54 231.98h0M220.01 229.85h0M219.15 213.25h0M232.58 230.36h0M220.9 228.12h0M213.85 233.4h0M210.15 230.69h0M213.59 224.1h0M217.56 227.78h0M216.37 234.68h0M222.23 216.14h0M219.53 233.25h0M233.27 226.9h0M211.81 226.26h0M235.34 232.99h0M218.32 228.53h0M234.94 221.61h0M245.5 234.33h0M219.55 227.27h0M225.26 229.63h0M234.72 232.46h0M244.01 234.69h0M218.43 228.56h0M223.15 226.69h0M229.6 228.95h0M214.73 234.89h0M229.69 229.29h0M230.62 224.68h0M236.69 234.03h0M215.6 217.13h0M239.52 235.4h0M226.46 230.82h0M221.28 225.5h0M211.61 235.45h0M240.59 233.42h0M221 235.1h0M240.26 232.94h0M209.83 235.88h0M225.47 232.59h0M230.4 230.86h0M216.03 223.8h0M213.42 235.3h0M226.46 221.61h0M233.18 234.62h0M220.2 206.08h0M218.59 232.02h0M233.47 218.06h0M214.35 234.58h0M232.71 234.54h0M242.93 234.21h0M226.96 233.4h0M228.46 228.23h0M236.44 222.24h0M214.74 232.17h0M228.19 232.04h0M209.67 232.41h0M232.75 233.96h0M216.76 232.53h0M218.95 224.49h0M221.61 229h0M235.1 225.94h0M236.65 227.77h0M243.81 235.15h0M213.23 232.76h0M248.84 233.64h0M237.35 233.63h0M221.23 232.06h0M228.63 229.69h0M214.54 228.77h0M210.06 228.73h0M234.05 233.59h0M232.75 225.34h0M216.56 233.5h0M222.26 228.15h0M216.04 229.44h0M210.08 228.67h0M233.87 229.96h0M234.72 222.38h0M217.39 235.32h0M214.3 232.28h0M236.68 234.54h0M212.07 232.17h0M215.48 225.42h0M210.81 234.33h0M228.17 229.16h0M212.99 234.89h0M237.27 231.01h0M232.45 226.07h0M247.34 235.94h0M233.38 235.12h0M226.45 227.87h0M236.99 233.21h0M221.45 225.75h0M216.74 224.96h0M234.81 235.76h0M228.6 218.37h0M230.52 233.79h0M244.87 232.51h0M230.98 229.45h0M219.3 218.18h0M222.01 228.84h0M240.66 231.84h0M222 230.32h0M231.16 234.1h0M210.12 234.89h0M213.06 231.2h0M224.66 234.43h0M222.16 234.89h0M240.15 232.2h0M217.5 226.85h0M221.93 234.09h0M211.69 225.16h0M236.74 233.96h0M224.39 232.4h0M224.06 232.96h0M228.85 218.82h0M231.15 227.63h0M213.15 228.81h0M234.41 229.66h0M218.52 229.79h0M220.38 235.15h0M221.21 219.79h0M221.74 206.17h0M221.68 231.44h0M215.96 232.74h0M236.89 230.51h0M236.15 234.32h0M217.71 227.47h0M215.5 229.57h0M223.65 235.95h0M212.09 224.88h0M226.42 233.99h0M245.62 234.41h0M224.51 229.64h0M240.92 229.42h0M229.03 229.2h0M216.51 223.64h0M219.94 230.21h0M210.21 232.92h0M213.06 229.31h0M216.79 233.85h0M214.13 225.7h0M227.58 229.54h0M237.39 230.8h0M209.2 230.02h0M237.23 234.01h0M225.3 233.7h0M221.71 232.98h0M236.52 229.37h0M215.09 216.15h0M222.29 215.37h0M228.88 215.36h0M229.15 223.99h0M226.78 224.17h0M242.65 231.32h0M238.3 234.36h0M216.24 221.4h0M243.02 233.32h0M234.53 230.89h0M210.85 234.49h0M222.66 233.76h0M216.56 224.67h0M218.9 230.99h0M220.05 234.92h0M234.58 232.71h0M217.1 232.96h0M210.22 232.95h0M207.61 234.14h0M226.18 224.56h0M228.27 232.88h0M215.54 230.9h0M218.61 226.81h0M229.65 230.94h0M214.83 225.78h0M226.71 233.65h0M214.15 235.22h0M223.19 216.84h0M228.2 235.47h0M209.29 234.77h0M230.08 229.86h0M217.22 230.36h0M228.8 232.87h0M210.07 234.41h0M232.89 229.12h0M213.99 233.06h0M237.38 235.47h0M229.79 230.74h0M217.84 208.92h0M217.47 212.31h0M221.12 227.57h0M216.68 229.35h0M218.42 228.62h0M236.04 225.82h0M215 231.97h0M231.84 233.34h0M210.88 231.86h0M218.1 235.37h0M240.64 227.58h0M217.42 231.91h0M213.41 219.45h0M218.48 233.78h0M226.4 221.19h0M220.6 231.9h0M212.86 232.06h0M222.5 230.88h0M212.49 225.33h0M225.53 232.78h0M227.96 214.01h0M221.12 230.06h0M235.4 233.5h0M224.45 230.03h0M222.98 225.51h0M236.17 233.2h0M237.62 231.4h0M240.03 230.96h0M229.57 220.03h0M238.71 234.57h0M236.21 226.86h0M230.38 224.07h0M219.38 219.63h0M216.81 225.98h0M209.03 235.11h0M216.09 233.85h0M226.27 230.51h0M211.25 234.07h0M229.85 235.59h0M238.98 233.57h0M219.71 228.11h0M236.71 234.21h0M220.4 218.59h0M218 235.37h0M230.43 231.05h0M224.21 235.76h0M209.95 228.02h0M224.36 225.05h0M226.08 233.31h0M216.37 222.55h0M209.79 231.69h0M217.41 229.5h0M227.24 234.68h0M223.19 222.61h0M226.4 235.25h0M213.1 231.03h0M216.15 225.32h0M216.37 230.31h0M220.85 222.18h0M222.65 212.9h0M235.72 235.54h0M214.1 230.28h0M211.44 224.64h0M238.93 230.57h0M215.73 232.45h0M231.16 221.52h0M209.12 233.78h0M219.27 210.1h0M243.43 228.41h0M217.49 226.7h0M217.38 232.03h0M230.23 229.08h0M221.41 235.98h0M233.91 235.59h0M217.41 210.58h0M215.46 215.36h0M214.7 232.07h0M224.18 227.85h0M219.71 232.62h0M237.32 233.06h0M222 234.09h0M216.62 212.63h0M224.85 233.26h0M240.37 234.81h0M225.97 233.05h0M212.44 233.61h0M227.63 234.72h0M210.9 232.68h0M229.29 233.72h0M244.53 232.91h0M219.78 223.93h0M239.39 227.59h0M223.49 230.34h0M234.91 228.26h0M215.03 234.87h0M216.98 215.3h0M213.67 235.08h0M238.32 229.1h0M224.34 221.47h0M223.11 221.99h0M224.68 231.78h0M217.33 232.55h0M223.67 234.46h0M240.5 229.79h0M221.91 223.07h0M235.48 220.62h0M226.36 235.67h0M226.66 226.18h0M219.4 234.7h0M207.99 234.95h0M226.04 231.12h0M213.63 228.35h0M231.15 230.04h0M231.15 231.63h0M234.07 232.74h0M231 229.14h0M223.54 226.11h0M218.97 225.99h0M222.58 219.1h0M220.95 230.78h0M223.63 233.27h0M228.83 225.73h0M218.67 234.29h0M224.98 218.66h0M243.21 234.64h0M229.26 229.87h0M223.26 235.99h0M216.22 227.01h0M235.3 224.56h0M224.35 222.63h0M209.87 235.83h0M222.31 227.45h0M237.84 227.05h0M220.22 216.65h0M212.42 231.67h0M225.24 233.83h0M213.5 235.76h0M207.53 235.76h0M225.07 231.37h0M241.8 227.66h0M223.27 235.93h0M235.63 233.39h0M216.29 227.22h0M223.92 231.23h0M250.27 235.57h0M223.11 229.42h0M224.52 227.58h0M227.25 218.08h0M223.07 213.81h0M227.64 221.39h0M236.43 228.23h0M221.08 222.23h0M245.05 234.19h0M241.41 233.46h0M215.34 227.93h0M210.64 235.62h0M231.73 226.6h0M231.22 222.98h0M220.45 221.86h0M235.44 233.53h0M240.93 234.27h0M219.87 233.85h0M223.59 210.48h0M209.48 234.03h0M208.55 235.74h0M241.86 226.27h0M211.06 231.77h0M219.06 231.43h0M227.23 233.22h0M228.73 232.7h0M221.98 234.37h0M219.3 231.11h0M221.65 224.07h0M220.02 231.36h0M227.53 228.38h0M216.71 221.83h0M240.05 232.03h0M223.23 225.12h0M224.19 233.23h0M239.82 230.23h0M221.38 228.85h0M216.77 219.93h0M222.68 235.88h0M209.85 230.79h0M241.9 232.4h0M220.85 224.89h0M217.82 233.19h0M232.53 224.14h0M219.88 232.56h0M242.3 233.23h0M233.38 232.83h0M221.79 214.67h0M222.66 222.99h0M222.37 218.24h0M230.61 226.51h0M242.11 233.26h0M224.02 235.68h0M233.57 222.75h0M225.93 220.6h0M228.58 224.24h0M208.17 232.24h0M220.02 225.8h0M221.81 227.17h0M219.26 232.65h0M238.35 235.04h0M227.77 220.86h0M217.2 228.95h0M229.78 233.24h0M218.47 221.65h0M225.04 228.88h0M234.68 230.37h0M232.68 234.72h0M231.96 233.8h0M231.22 219.86h0M237.01 235.79h0M213.02 235.18h0M224.06 228.64h0M208.94 231.31h0M230.04 233.49h0M221.33 225.94h0M221.75 230.32h0M216.24 216.13h0M214.65 218.53h0M233.83 235.71h0M221.51 216.36h0M218.45 229.28h0M209.26 233.85h0M210.2 227.35h0M210.74 234.83h0M211.22 233.23h0M215.23 224.42h0M221.68 230.37h0M229.11 226.48h0M232.88 234.46h0M219.81 235.13h0M225.3 233.48h0M220.32 214.19h0M234.52 231.97h0M224.15 231.51h0M220.46 231.83h0M212.57 224.14h0M233.91 232.14h0M231.6 220.49h0M243.29 234.27h0M225.55 233.46h0M216.77 230.92h0M218.4 232.58h0M219.42 230.73h0M225.42 233.08h0M239.01 230h0M226.65 228.96h0M214.56 230.62h0M215.31 232.9h0M220.62 230.15h0M214.36 233.91h0M222.32 219.8h0M228.73 228.54h0M225.14 226.76h0M230.08 224.87h0M220.67 227.64h0M228.22 231.44h0M216.06 234.36h0M239.05 234.38h0M214.86 233.73h0M238.36 233.85h0M236.1 229.83h0M223.57 224.88h0M223.73 235.62h0M239.7 234.45h0M224.86 222.86h0M214.19 233.2h0M229.78 233.63h0M225.97 231.85h0M226.9 228.91h0M213.63 232.63h0M213.82 228.81h0M217.17 233.58h0M216.99 228.33h0M233.77 225.1h0M233.72 226.31h0M219.29 230.96h0M212.7 235.05h0M216.05 230.32h0M235.85 231.85h0M218.76 232.65h0M213.34 232.11h0M216.37 231.87h0M215.09 228.22h0M219.86 206.35h0M226.45 229.97h0M240.88 229.48h0M237.68 229.65h0M218.67 230.55h0M225.06 234.96h0M236.51 230.33h0M234.11 227.23h0M234.2 231.2h0M212.68 228.33h0M228.4 235.58h0M217.02 218.57h0M219.67 229.07h0M213.32 227.26h0M242.66 231.57h0M236.07 229.08h0M220.86 234.67h0M228.21 216.85h0M217.1 234.33h0M219.95 230.42h0M228.2 231.34h0M235.14 234.41h0M242.85 235.81h0M227.4 217.09h0M223.15 234.93h0M217.16 231.34h0M249.75 233.84h0M225.35 229.85h0M225.57 228.26h0M212.27 230.22h0M240.26 231.76h0M228.1 225.96h0M209.25 235.33h0M233.09 223.51h0M226.86 221.46h0M225.64 211.58h0M214 231.16h0M236.15 225.19h0M229.39 230.28h0M217.15 214.42h0M214.86 228.55h0M238.99 234.51h0M233.35 229.57h0M222.34 218.29h0M218.69 233.58h0M216.68 226.55h0M220.62 235.52h0M236.72 234h0M210.92 225.74h0M229.92 227.88h0M230.42 233.38h0M219.25 231h0M214.13 234.99h0M234.27 230.82h0M225.78 232.66h0M233.25 228.61h0M213.32 224.45h0M226.57 233.39h0M218.59 230.9h0M213.01 229.05h0M240.03 231.07h0M233.22 232.3h0M228.5 232.07h0M223.97 226.45h0M208.3 234.42h0M230.2 205.61h0M232.02 219.71h0M216.7 203.66h0M239.51 232.98h0M236.92 197.57h0M208.64 230.53h0M250.04 212.56h0M212.03 235.9h0M218.4 203.91h0M237.34 211.6h0M212.98 216.06h0M230.23 232.1h0M221.14 218.3h0M229.43 235.39h0M223.92 211.39h0M232.69 218.75h0M212.51 229.62h0M224.29 195.49h0M246.22 228.11h0M239.16 233.52h0M227.74 206.85h0M224.77 226.19h0M219.55 234.22h0M229.88 228.79h0M237.93 233.76h0M241.51 220.51h0M245.44 203.58h0M268.85 230.54h0M230.33 220.85h0M234.93 225.97h0M219.65 197.94h0M236.75 191.05h0M216.03 232.09h0M246.64 213.49h0M244.83 234.37h0M229.58 202.79h0M238.34 195.2h0M230.47 224.21h0M226.55 202.35h0M224.95 235.48h0M232.56 229.77h0M225.09 230.68h0M234.76 230.09h0M249.03 195.08h0M234.33 159.87h0M223.85 220.64h0M232.36 221.31h0M226.9 207.79h0M235.41 209.97h0M261.57 221.8h0M228.75 234.63h0M231.64 213.33h0M227.36 222.8h0M216.62 229.05h0M237.17 233.02h0M239.68 214.98h0M222.31 235.4h0M240.55 218.58h0M224.58 231.68h0M235.18 209.3h0M214.6 210.66h0M221.82 226.15h0M225.88 235.48h0M241.86 173.73h0M231.61 232.94h0M228.69 231.85h0M229.64 232.44h0M231.85 235.36h0M217.09 202.38h0M224.33 225.17h0M226.65 234.6h0M249.06 215.96h0M231.8 206.99h0M231.7 229.86h0M239.12 230.34h0M216.53 204.23h0M242.19 230.68h0M259.23 210.16h0M217.58 232.72h0M233.2 203.48h0M215.86 235.45h0M239.07 231.11h0M241.55 170.36h0M230.96 225.43h0M234.57 214.86h0M239.14 197.73h0M225.86 224.21h0M254.12 167.1h0M225.37 213.28h0M232.46 205.17h0M259.33 231.75h0M231.52 231.92h0M244.21 227.43h0M251.27 231.28h0M245.1 220.92h0M246.07 227.25h0M213.18 215.39h0M210.75 231.51h0M239.71 189.27h0M236.87 224.89h0M224.04 218.61h0M234.96 208.04h0M211.82 233.49h0M232.32 202.6h0M225.54 212.97h0M216.6 225.87h0M210.88 231.6h0M223.24 191.78h0M237.55 220.19h0M216.07 229.49h0M241.16 227.94h0M211.96 228.73h0M233.91 195.46h0M232.38 200.71h0M218.26 198.47h0M215.97 233.25h0M238.04 219.78h0M242.59 227.12h0M249.72 180.76h0M240.79 224.12h0M213.67 215h0M251.03 190.37h0M226.32 230.08h0M236.76 235.3h0M217.51 200.96h0M227.48 232.41h0M227.92 209.46h0M209.54 227.54h0M241.75 226.53h0M223.23 216.03h0M257.34 232.62h0M232.54 219.12h0M235.75 177.56h0M242.35 223.45h0M234.92 222.2h0M246.06 202.13h0M215.01 232.37h0M241.55 234.42h0M224.01 218.26h0M234.27 223.92h0M233.56 212.06h0M240.22 204.23h0M220.73 230.42h0M225.84 227.47h0M235.9 230.38h0M228.9 224.42h0M245.45 226.13h0M231.16 234.67h0M227.34 220h0M233.32 212.38h0M235.45 225.88h0M226.61 233.13h0M228.65 200.44h0M244.92 199.74h0M239.58 216.97h0M247.84 220.85h0M240.93 205.59h0M230.01 228.1h0M218.65 197.17h0M234.08 220.4h0M233.54 193.84h0M236.39 173.54h0M224 225.44h0M225.49 209.91h0M234.72 187.24h0M225.24 214.44h0M248.73 235.8h0M224.67 231.3h0M246.04 234.53h0M219.15 212.69h0M238.37 232.92h0M229.14 221.65h0M255.67 228.15h0M224.62 203.46h0M245.66 190.5h0M231.57 216.49h0M222.58 235.66h0M226.35 226.94h0M226.65 170.5h0M233.58 217.89h0M225.98 203.92h0M229.89 159.71h0M249.32 226.93h0M219.86 193.93h0M224.15 225.85h0M230.1 233.77h0M260.58 218.58h0M218.01 231.87h0M215.21 227.3h0M245.99 230.88h0M226.94 176.94h0M218.87 198.54h0M235.56 201.36h0M220.9 211.72h0M224.79 204.06h0M225.52 233.62h0M218.55 197.51h0M225.95 220.12h0M215.9 230.37h0M232.2 235.37h0M230.68 201.83h0M233.14 202.13h0M233.73 220.91h0M242.18 228.34h0M237.64 225.32h0M229.78 231.51h0M207.6 234.01h0M236.75 234.05h0M218.93 225h0M237.23 231.15h0M207.92 234.11h0M222.47 228.73h0M260.53 220.1h0M250.43 230.84h0M217.88 199.75h0M218.59 197.36h0M232.31 196.38h0M245.47 225.94h0M246.67 212.61h0M256.57 182.79h0M255.7 225.06h0M216.36 204.79h0M233.38 231.06h0M228.15 235.75h0M216.46 224.36h0M243.82 233.37h0M232.46 228.95h0M245.89 220.47h0M234.43 217.27h0M231.14 228.05h0M208.41 235.15h0M257.29 228.16h0M243.94 216.28h0M228.95 230.82h0M236.87 217.63h0M219.66 227.53h0M245.29 228.29h0M246.08 190.91h0M227.17 168.76h0M268.4 196.55h0M229.12 222.29h0M217.64 215.68h0M212.54 232.6h0M235.25 215.75h0M222.79 231.46h0M229.79 160.03h0M226.55 233.9h0M220.68 217.52h0M225.66 223.79h0M241.82 220.31h0M241.84 212.29h0M231.08 235.64h0M228.29 233.43h0M231.89 233.88h0M233.78 220.39h0M236.59 221.04h0M234.26 224.59h0M226.02 216.64h0M245.15 209.36h0M220.01 221.48h0M233.37 231.92h0M240.01 178.65h0M230.64 232.85h0M255.62 195.25h0M221.85 219.71h0M247.94 206.61h0M248.8 219.63h0M257.66 219.66h0M230.64 216.65h0M248.5 215.77h0M236.22 192.76h0M243.59 222.2h0M230.01 211.12h0M239 229.21h0M217.99 224.3h0M226.54 235.24h0M219.85 210.79h0M214.82 209.95h0M241.03 232.91h0M246.81 235.81h0M244.55 212.88h0M232.48 216.2h0M210.84 223.19h0M229.77 232.26h0M218.74 196.88h0M220.47 203.65h0M219.67 236h0M231.81 213.17h0M233.75 219.95h0M247.75 230.56h0M229.43 234.35h0M231.87 191.03h0M228.41 206.67h0M212.5 217.67h0M216.34 234.4h0M254.95 222.31h0M243.43 214.8h0M236.94 235.86h0M231.98 225.98h0M249.9 227.45h0M236.08 217.3h0M259.67 234.68h0M234.4 196.66h0M241.79 205.25h0M230.28 224.85h0M252.87 213.2h0M235 229.46h0M244.91 224.44h0M233.69 217.68h0M223.52 229.04h0M231.63 228.53h0M230.63 230.76h0M226.42 211.14h0M230.11 222.57h0M246.13 221.62h0M228.86 213.69h0M256.35 223.8h0M221.32 189.8h0M224.42 235.91h0M210.73 223.56h0M214.16 228.72h0M252 209.9h0M221.39 209.62h0M219.78 230.88h0M218.79 232.94h0M219.71 197.61h0M230.62 235.03h0M254 230.23h0M232.16 235.61h0M248.38 230.75h0M236 224.02h0M213.51 221.39h0M252.46 197.48h0M238.05 226.46h0M248.07 175.87h0M228.2 222.11h0M231.46 234.21h0M244.07 214.88h0M243.7 212.03h0M243.55 203.1h0M241.53 234.4h0M256.5 216.75h0M254.62 223.54h0M228.08 228.97h0M248.19 196.29h0M238.33 202.29h0M226.48 207.58h0M231.36 205.97h0M257.08 222.02h0M260.66 233.74h0M237.41 232.54h0M232.14 188.16h0M215.22 208.59h0M216.94 218.27h0M214.06 212.45h0M242.33 208.64h0M235.54 234.24h0M233.52 230.27h0M226.08 228.66h0M241.56 219.28h0M236.26 197.78h0M224.9 234.08h0M226.82 211.79h0M245.43 231.22h0M235.71 212.3h0M241.96 234.42h0M235.58 216.97h0M231.06 155.79h0M236.84 173.21h0M237 214.19h0M215.58 235.39h0M225.13 231.05h0M214.01 230.3h0M233.49 170.86h0M209.92 235.34h0M213.77 229.65h0M241.6 209.46h0M230.68 234.02h0M234.03 215.75h0M220.22 224.14h0M231.51 232.89h0M244.19 205.33h0M241.06 187.47h0M247.54 227.92h0M211.65 232.53h0M247.59 204.88h0M229.16 167.93h0M231.08 220.79h0M210.78 234.73h0M244.93 224.96h0M230.2 223.08h0M249.01 235h0M216.07 228.41h0M240.72 227.16h0M225.42 222.63h0M227.33 225.47h0M236.11 204.43h0M218.32 233.93h0M227.23 228.92h0M242.44 234.74h0M229.07 222.41h0M234.4 233.94h0M233.19 227.43h0M232.97 206.27h0M229.59 229.78h0M236.08 228.3h0M244.12 204.52h0M225.7 202.04h0M236.45 220.92h0M225.56 206.36h0M220.12 232.39h0M224.25 231.41h0M217.24 201.88h0M239.4 227.58h0M230.17 211.51h0M232.69 208h0M250.85 234.22h0M227.85 229.27h0M228.71 228.98h0M262.43 230.43h0M296.08 232.66h0M257.76 234.75h0M269.38 231.28h0M285.27 199.62h0M269.42 210.5h0M291.71 227.6h0M296.59 215.73h0M280.52 231.96h0M287.12 229.96h0M261.43 206.85h0M261.78 220.21h0M284.48 235.6h0M283.31 202.83h0M272.97 209.21h0M298.08 234.23h0M295.45 224.31h0M288.72 231.47h0M292.05 232.41h0M255.52 224.29h0M267.15 222.77h0M270.51 233.61h0M278.01 235.9h0M282.76 223.59h0M298.71 234.94h0M294.73 184.06h0M286.69 228.05h0M290.87 223.74h0M266.06 230.77h0M293.45 229.79h0M276.64 232.77h0M284.66 207.01h0M273.38 232.88h0M283.13 233.25h0M273.79 228.91h0M296.13 229.41h0M261.75 228h0M289.72 232.86h0M265.13 219.78h0M276.91 222.36h0M252.4 8.2h0M233.8 54.8h0M244 98.7h0M289.4 106.5h0M232.4 116.5h0M248.1 116.9h0M260.4 129.2h0M242.6 133.7h0M232.2 137.1h0M248.8 141.5h0M226.7 157.2h0M228.7 158h0M265.5 163.5h0M227.7 166h0M251.2 166h0M229.7 170h0M223.2 174.2h0M242 174.8h0M246.1 175.6h0M250.2 170.7h0M282.9 186h0M300.3 186h0M315.6 226.3h0M306 221.6h0M309.5 232.8h0M305.4 235.9h0M295.1 229.7h0M286 208.9h0" stroke="#fb1d10" stroke-width="1.75" stroke-linecap="square" fill="none"/>
<line x1="76" y1="236.3" x2="329" y2="236.3" stroke="#aaa" stroke-width="0.6" stroke-dasharray="1.2 1.2"/>
<path d="M74 3V246.7H329" stroke="#111" stroke-width="1.9" fill="none"/>
<line x1="70" y1="242.4" x2="74" y2="242.4" stroke="#222" stroke-width="1.3"/>
<text x="67.5" y="246.4" font-size="11.3" text-anchor="end" fill="#222" textLength="5.4" lengthAdjust="spacingAndGlyphs" stroke="#222" stroke-width="0.25">0</text>
<line x1="70" y1="195.5" x2="74" y2="195.5" stroke="#222" stroke-width="1.3"/>
<text x="67.5" y="199.5" font-size="11.3" text-anchor="end" fill="#222" textLength="10.81" lengthAdjust="spacingAndGlyphs" stroke="#222" stroke-width="0.25">10</text>
<line x1="70" y1="148.6" x2="74" y2="148.6" stroke="#222" stroke-width="1.3"/>
<text x="67.5" y="152.6" font-size="11.3" text-anchor="end" fill="#222" textLength="10.81" lengthAdjust="spacingAndGlyphs" stroke="#222" stroke-width="0.25">20</text>
<line x1="70" y1="101.7" x2="74" y2="101.7" stroke="#222" stroke-width="1.3"/>
<text x="67.5" y="105.7" font-size="11.3" text-anchor="end" fill="#222" textLength="10.81" lengthAdjust="spacingAndGlyphs" stroke="#222" stroke-width="0.25">30</text>
<line x1="70" y1="54.8" x2="74" y2="54.8" stroke="#222" stroke-width="1.3"/>
<text x="67.5" y="58.8" font-size="11.3" text-anchor="end" fill="#222" textLength="10.81" lengthAdjust="spacingAndGlyphs" stroke="#222" stroke-width="0.25">40</text>
<line x1="70" y1="7.9" x2="74" y2="7.9" stroke="#222" stroke-width="1.3"/>
<text x="67.5" y="11.9" font-size="11.3" text-anchor="end" fill="#222" textLength="10.81" lengthAdjust="spacingAndGlyphs" stroke="#222" stroke-width="0.25">50</text>
<line x1="85.8" y1="246.7" x2="85.8" y2="251" stroke="#222" stroke-width="1.3"/>
<text x="85.8" y="265" font-size="11.3" text-anchor="middle" fill="#222" textLength="11.08" lengthAdjust="spacingAndGlyphs" stroke="#222" stroke-width="0.25">−2</text>
<line x1="143.9" y1="246.7" x2="143.9" y2="251" stroke="#222" stroke-width="1.3"/>
<text x="143.9" y="265" font-size="11.3" text-anchor="middle" fill="#222" textLength="11.08" lengthAdjust="spacingAndGlyphs" stroke="#222" stroke-width="0.25">−1</text>
<line x1="202" y1="246.7" x2="202" y2="251" stroke="#222" stroke-width="1.3"/>
<text x="202" y="265" font-size="11.3" text-anchor="middle" fill="#222" textLength="5.4" lengthAdjust="spacingAndGlyphs" stroke="#222" stroke-width="0.25">0</text>
<line x1="260.1" y1="246.7" x2="260.1" y2="251" stroke="#222" stroke-width="1.3"/>
<text x="260.1" y="265" font-size="11.3" text-anchor="middle" fill="#222" textLength="5.4" lengthAdjust="spacingAndGlyphs" stroke="#222" stroke-width="0.25">1</text>
<line x1="318.2" y1="246.7" x2="318.2" y2="251" stroke="#222" stroke-width="1.3"/>
<text x="318.2" y="265" font-size="11.3" text-anchor="middle" fill="#222" textLength="5.4" lengthAdjust="spacingAndGlyphs" stroke="#222" stroke-width="0.25">2</text>
<text stroke="#222" stroke-width="0.25" font-size="11.5" fill="#222" transform="translate(44 130) rotate(-90)" text-anchor="middle" textLength="92" lengthAdjust="spacingAndGlyphs">−Log<tspan font-size="7.5" dy="2.5">10</tspan><tspan dy="-2.5">(</tspan><tspan font-style="italic">p</tspan> adjusted)</text>
<text stroke="#222" stroke-width="0.25" x="202.4" y="278.5" font-size="11.2" fill="#222" text-anchor="middle" textLength="82" lengthAdjust="spacingAndGlyphs">Log<tspan font-size="7.3" dy="2.8">2</tspan><tspan dy="-2.8">(Fold change)</tspan></text>
<text x="22" y="12.3" font-size="15.5" font-weight="bold">A</text>
<text x="107.5" y="18.3" font-size="8.6" fill="#2a2aee" textLength="24.1" lengthAdjust="spacingAndGlyphs" stroke="#2a2aee" stroke-width="0.3">ERBB3</text>
<text x="144.5" y="17.3" font-size="8.6" fill="#2a2aee" textLength="19.4" lengthAdjust="spacingAndGlyphs" stroke="#2a2aee" stroke-width="0.3">CBX5</text>
<text x="160.1" y="65.7" font-size="8.6" fill="#2a2aee" textLength="29.4" lengthAdjust="spacingAndGlyphs" stroke="#2a2aee" stroke-width="0.3">PRKAA1</text>
<text x="140.4" y="111.7" font-size="8.6" fill="#2a2aee" textLength="20.3" lengthAdjust="spacingAndGlyphs" stroke="#2a2aee" stroke-width="0.3">TGM2</text>
<text x="161.6" y="122.7" font-size="8.6" fill="#2a2aee" textLength="20.9" lengthAdjust="spacingAndGlyphs" stroke="#2a2aee" stroke-width="0.3">SPIN1</text>
<text x="146.8" y="150.2" font-size="8.6" fill="#2a2aee" textLength="24.3" lengthAdjust="spacingAndGlyphs" stroke="#2a2aee" stroke-width="0.3">SUDS3</text>
<text x="138.9" y="186.3" font-size="8.6" fill="#2a2aee" textLength="19" lengthAdjust="spacingAndGlyphs" stroke="#2a2aee" stroke-width="0.3">PHF8</text>
<text x="124.7" y="195.9" font-size="8.6" fill="#2a2aee" textLength="32.3" lengthAdjust="spacingAndGlyphs" stroke="#2a2aee" stroke-width="0.3">L3MBTL2</text>
<text x="125.2" y="204.5" font-size="8.6" fill="#2a2aee" textLength="25.7" lengthAdjust="spacingAndGlyphs" stroke="#2a2aee" stroke-width="0.3">SCMH1</text>
<text x="130.4" y="215.3" font-size="8.6" fill="#2a2aee" textLength="23.7" lengthAdjust="spacingAndGlyphs" stroke="#2a2aee" stroke-width="0.3">BCL7B</text>
<text x="131.3" y="225.7" font-size="8.6" fill="#2a2aee" textLength="22.8" lengthAdjust="spacingAndGlyphs" stroke="#2a2aee" stroke-width="0.3">JMJD6</text>
<text x="185" y="187.8" font-size="8.6" fill="#2a2aee" textLength="29.8" lengthAdjust="spacingAndGlyphs" stroke="#2a2aee" stroke-width="0.3">MMS22L</text>
<text x="189.2" y="203.3" font-size="8.6" fill="#2a2aee" textLength="25.6" lengthAdjust="spacingAndGlyphs" stroke="#2a2aee" stroke-width="0.3">PCGF6</text>
<text x="191.1" y="221.9" font-size="8.6" fill="#2a2aee" textLength="23.7" lengthAdjust="spacingAndGlyphs" stroke="#2a2aee" stroke-width="0.3">NTMT1</text>
<text x="244.7" y="207.9" font-size="8.6" fill="#e83a3a" textLength="24.9" lengthAdjust="spacingAndGlyphs" stroke="#e83a3a" stroke-width="0.3">KMT5C</text>
<text x="273.7" y="206.9" font-size="8.6" fill="#e83a3a" textLength="26.6" lengthAdjust="spacingAndGlyphs" stroke="#e83a3a" stroke-width="0.3">TCF7L1</text>
<text x="241" y="219.1" font-size="8.6" fill="#e83a3a" textLength="21.4" lengthAdjust="spacingAndGlyphs" stroke="#e83a3a" stroke-width="0.3">EP400</text>
<text x="269.6" y="221.2" font-size="8.6" fill="#e83a3a" textLength="21.9" lengthAdjust="spacingAndGlyphs" stroke="#e83a3a" stroke-width="0.3">GATA3</text>
<text x="259.4" y="230.8" font-size="8.6" fill="#e83a3a" textLength="30.6" lengthAdjust="spacingAndGlyphs" stroke="#e83a3a" stroke-width="0.3">CREBBP</text>
<text x="206.9" y="243.7" font-size="8.6" fill="#e83a3a" textLength="20.2" lengthAdjust="spacingAndGlyphs" stroke="#e83a3a" stroke-width="0.3">BRD3</text>
<text x="231.2" y="242.7" font-size="8.6" fill="#e83a3a" textLength="19.4" lengthAdjust="spacingAndGlyphs" stroke="#e83a3a" stroke-width="0.3">BRD4</text>
<text x="254.7" y="243.3" font-size="8.6" fill="#e83a3a" textLength="24.1" lengthAdjust="spacingAndGlyphs" stroke="#e83a3a" stroke-width="0.3">APBB1</text>
<text stroke="#222" stroke-width="0.25" x="78.2" y="172" font-size="9" fill="#222" textLength="53.3" lengthAdjust="spacingAndGlyphs">Down (<tspan font-style="italic">n</tspan>=1,860)</text>
<text stroke="#222" stroke-width="0.25" x="274.3" y="172" font-size="9" fill="#222" textLength="43.9" lengthAdjust="spacingAndGlyphs">Up (<tspan font-style="italic">n</tspan>=1,384)</text>
<rect x="521.2" y="12" width="118.3" height="6.7" fill="#6b9cf6"/>
<line x1="517.3" y1="15.35" x2="519.8" y2="15.35" stroke="#333" stroke-width="0.8"/>
<text x="514.8" y="19.25" font-size="8.2" text-anchor="end" fill="#1a1a1a" textLength="46" lengthAdjust="spacingAndGlyphs" stroke="#1a1a1a" stroke-width="0.25">Metal ion binding</text>
<rect x="521.2" y="19.48" width="77.6" height="6.7" fill="#6b9cf6"/>
<line x1="517.3" y1="22.83" x2="519.8" y2="22.83" stroke="#333" stroke-width="0.8"/>
<text x="514.8" y="26.73" font-size="8.2" text-anchor="end" fill="#1a1a1a" textLength="63.58" lengthAdjust="spacingAndGlyphs" stroke="#1a1a1a" stroke-width="0.25">Dentical protein binding</text>
<rect x="521.2" y="26.95" width="76.4" height="6.7" fill="#6b9cf6"/>
<line x1="517.3" y1="30.3" x2="519.8" y2="30.3" stroke="#333" stroke-width="0.8"/>
<text x="514.8" y="34.2" font-size="8.2" text-anchor="end" fill="#1a1a1a" textLength="30.44" lengthAdjust="spacingAndGlyphs" stroke="#1a1a1a" stroke-width="0.25">Atp binding</text>
<rect x="521.2" y="34.43" width="70.4" height="6.7" fill="#6b9cf6"/>
<line x1="517.3" y1="37.78" x2="519.8" y2="37.78" stroke="#333" stroke-width="0.8"/>
<text x="514.8" y="41.68" font-size="8.2" text-anchor="end" fill="#1a1a1a" textLength="32.47" lengthAdjust="spacingAndGlyphs" stroke="#1a1a1a" stroke-width="0.25">Rna binding</text>
<rect x="521.2" y="41.9" width="51" height="6.7" fill="#6b9cf6"/>
<line x1="517.3" y1="45.25" x2="519.8" y2="45.25" stroke="#333" stroke-width="0.8"/>
<text x="514.8" y="49.15" font-size="8.2" text-anchor="end" fill="#1a1a1a" textLength="32.47" lengthAdjust="spacingAndGlyphs" stroke="#1a1a1a" stroke-width="0.25">Dna binding</text>
<rect x="521.2" y="49.38" width="26.8" height="6.7" fill="#6b9cf6"/>
<line x1="517.3" y1="52.73" x2="519.8" y2="52.73" stroke="#333" stroke-width="0.8"/>
<text x="514.8" y="56.63" font-size="8.2" text-anchor="end" fill="#1a1a1a" textLength="59.87" lengthAdjust="spacingAndGlyphs" stroke="#1a1a1a" stroke-width="0.25">Protein kinase binding</text>
<rect x="521.2" y="56.86" width="26.1" height="6.7" fill="#6b9cf6"/>
<line x1="517.3" y1="60.21" x2="519.8" y2="60.21" stroke="#333" stroke-width="0.8"/>
<text x="514.8" y="64.11" font-size="8.2" text-anchor="end" fill="#1a1a1a" textLength="49.38" lengthAdjust="spacingAndGlyphs" stroke="#1a1a1a" stroke-width="0.25">Chromatin binding</text>
<rect x="521.2" y="64.33" width="22.6" height="6.7" fill="#6b9cf6"/>
<line x1="517.3" y1="67.68" x2="519.8" y2="67.68" stroke="#333" stroke-width="0.8"/>
<text x="514.8" y="71.58" font-size="8.2" text-anchor="end" fill="#1a1a1a" textLength="43.29" lengthAdjust="spacingAndGlyphs" stroke="#1a1a1a" stroke-width="0.25">Enzyme binding</text>
<rect x="521.2" y="71.81" width="22.3" height="6.7" fill="#6b9cf6"/>
<line x1="517.3" y1="75.16" x2="519.8" y2="75.16" stroke="#333" stroke-width="0.8"/>
<text x="514.8" y="79.06" font-size="8.2" text-anchor="end" fill="#1a1a1a" textLength="104.16" lengthAdjust="spacingAndGlyphs" stroke="#1a1a1a" stroke-width="0.25">Protein serine/threonine kinase activity</text>
<rect x="521.2" y="79.28" width="20.8" height="6.7" fill="#6b9cf6"/>
<line x1="517.3" y1="82.63" x2="519.8" y2="82.63" stroke="#333" stroke-width="0.8"/>
<text x="514.8" y="86.53" font-size="8.2" text-anchor="end" fill="#1a1a1a" textLength="46" lengthAdjust="spacingAndGlyphs" stroke="#1a1a1a" stroke-width="0.25">Cadherin binding</text>
<rect x="521.2" y="86.76" width="100.4" height="6.7" fill="#47d647"/>
<line x1="517.3" y1="90.11" x2="519.8" y2="90.11" stroke="#333" stroke-width="0.8"/>
<text x="514.8" y="94.01" font-size="8.2" text-anchor="end" fill="#1a1a1a" textLength="59.85" lengthAdjust="spacingAndGlyphs" stroke="#1a1a1a" stroke-width="0.25">Extracellular exosome</text>
<rect x="521.2" y="94.24" width="71.3" height="6.7" fill="#47d647"/>
<line x1="517.3" y1="97.59" x2="519.8" y2="97.59" stroke="#333" stroke-width="0.8"/>
<text x="514.8" y="101.49" font-size="8.2" text-anchor="end" fill="#1a1a1a" textLength="38.21" lengthAdjust="spacingAndGlyphs" stroke="#1a1a1a" stroke-width="0.25">Mitochondrion</text>
<rect x="521.2" y="101.71" width="60.6" height="6.7" fill="#47d647"/>
<line x1="517.3" y1="105.06" x2="519.8" y2="105.06" stroke="#333" stroke-width="0.8"/>
<text x="514.8" y="108.96" font-size="8.2" text-anchor="end" fill="#1a1a1a" textLength="42.95" lengthAdjust="spacingAndGlyphs" stroke="#1a1a1a" stroke-width="0.25">Golgi apparatus</text>
<rect x="521.2" y="109.19" width="60" height="6.7" fill="#47d647"/>
<line x1="517.3" y1="112.54" x2="519.8" y2="112.54" stroke="#333" stroke-width="0.8"/>
<text x="514.8" y="116.44" font-size="8.2" text-anchor="end" fill="#1a1a1a" textLength="91.97" lengthAdjust="spacingAndGlyphs" stroke="#1a1a1a" stroke-width="0.25">Endoplasmic reticulum membrane</text>
<rect x="521.2" y="116.66" width="59.4" height="6.7" fill="#47d647"/>
<line x1="517.3" y1="120.01" x2="519.8" y2="120.01" stroke="#333" stroke-width="0.8"/>
<text x="514.8" y="123.91" font-size="8.2" text-anchor="end" fill="#1a1a1a" textLength="61.2" lengthAdjust="spacingAndGlyphs" stroke="#1a1a1a" stroke-width="0.25">Endoplasmic reticulum</text>
<rect x="521.2" y="124.14" width="52.5" height="6.7" fill="#47d647"/>
<line x1="517.3" y1="127.49" x2="519.8" y2="127.49" stroke="#333" stroke-width="0.8"/>
<text x="514.8" y="131.39" font-size="8.2" text-anchor="end" fill="#1a1a1a" textLength="116.18" lengthAdjust="spacingAndGlyphs" stroke="#1a1a1a" stroke-width="0.25">Intracellular membrane−bounded organelle</text>
<rect x="521.2" y="131.62" width="46.5" height="6.7" fill="#47d647"/>
<line x1="517.3" y1="134.97" x2="519.8" y2="134.97" stroke="#333" stroke-width="0.8"/>
<text x="514.8" y="138.87" font-size="8.2" text-anchor="end" fill="#1a1a1a" textLength="28.06" lengthAdjust="spacingAndGlyphs" stroke="#1a1a1a" stroke-width="0.25">Chromatin</text>
<rect x="521.2" y="139.09" width="57.8" height="6.7" fill="#f27272"/>
<line x1="517.3" y1="142.44" x2="519.8" y2="142.44" stroke="#333" stroke-width="0.8"/>
<text x="514.8" y="146.34" font-size="8.2" text-anchor="end" fill="#1a1a1a" textLength="147.44" lengthAdjust="spacingAndGlyphs" stroke="#1a1a1a" stroke-width="0.25">Positive regulation of transcription by rna polymerase ii</text>
<rect x="521.2" y="146.57" width="45.6" height="6.7" fill="#f27272"/>
<line x1="517.3" y1="149.92" x2="519.8" y2="149.92" stroke="#333" stroke-width="0.8"/>
<text x="514.8" y="153.82" font-size="8.2" text-anchor="end" fill="#1a1a1a" textLength="150.15" lengthAdjust="spacingAndGlyphs" stroke="#1a1a1a" stroke-width="0.25">Negative regulation of transcription by rna polymerase ii</text>
<rect x="521.2" y="154.04" width="33.6" height="6.7" fill="#f27272"/>
<line x1="517.3" y1="157.39" x2="519.8" y2="157.39" stroke="#333" stroke-width="0.8"/>
<text x="514.8" y="161.29" font-size="8.2" text-anchor="end" fill="#1a1a1a" textLength="133.42" lengthAdjust="spacingAndGlyphs" stroke="#1a1a1a" stroke-width="0.25">Positive regulation of dna−templated transcription</text>
<rect x="521.2" y="161.52" width="33.6" height="6.7" fill="#f27272"/>
<line x1="517.3" y1="164.87" x2="519.8" y2="164.87" stroke="#333" stroke-width="0.8"/>
<text x="514.8" y="168.77" font-size="8.2" text-anchor="end" fill="#1a1a1a" textLength="43.63" lengthAdjust="spacingAndGlyphs" stroke="#1a1a1a" stroke-width="0.25">Phosphorylation</text>
<rect x="521.2" y="169" width="31.2" height="6.7" fill="#f27272"/>
<line x1="517.3" y1="172.35" x2="519.8" y2="172.35" stroke="#333" stroke-width="0.8"/>
<text x="514.8" y="176.25" font-size="8.2" text-anchor="end" fill="#1a1a1a" textLength="48.36" lengthAdjust="spacingAndGlyphs" stroke="#1a1a1a" stroke-width="0.25">Apoptotic process</text>
<rect x="521.2" y="176.47" width="29.4" height="6.7" fill="#f27272"/>
<line x1="517.3" y1="179.82" x2="519.8" y2="179.82" stroke="#333" stroke-width="0.8"/>
<text x="514.8" y="183.72" font-size="8.2" text-anchor="end" fill="#1a1a1a" textLength="136.13" lengthAdjust="spacingAndGlyphs" stroke="#1a1a1a" stroke-width="0.25">Negative regulation of dna−templated transcription</text>
<rect x="521.2" y="183.95" width="26.4" height="6.7" fill="#f27272"/>
<line x1="517.3" y1="187.3" x2="519.8" y2="187.3" stroke="#333" stroke-width="0.8"/>
<text x="514.8" y="191.2" font-size="8.2" text-anchor="end" fill="#1a1a1a" textLength="56.82" lengthAdjust="spacingAndGlyphs" stroke="#1a1a1a" stroke-width="0.25">Protein ubiquitination</text>
<rect x="521.2" y="191.42" width="24.6" height="6.7" fill="#f27272"/>
<line x1="517.3" y1="194.77" x2="519.8" y2="194.77" stroke="#333" stroke-width="0.8"/>
<text x="514.8" y="198.67" font-size="8.2" text-anchor="end" fill="#1a1a1a" textLength="32.46" lengthAdjust="spacingAndGlyphs" stroke="#1a1a1a" stroke-width="0.25">Cell division</text>
<rect x="521.2" y="198.9" width="22.3" height="6.7" fill="#f27272"/>
<line x1="517.3" y1="202.25" x2="519.8" y2="202.25" stroke="#333" stroke-width="0.8"/>
<text x="514.8" y="206.15" font-size="8.2" text-anchor="end" fill="#1a1a1a" textLength="44.98" lengthAdjust="spacingAndGlyphs" stroke="#1a1a1a" stroke-width="0.25">Protein transport</text>
<rect x="521.2" y="206.38" width="20.8" height="6.7" fill="#f27272"/>
<line x1="517.3" y1="209.73" x2="519.8" y2="209.73" stroke="#333" stroke-width="0.8"/>
<text x="514.8" y="213.63" font-size="8.2" text-anchor="end" fill="#1a1a1a" textLength="26.03" lengthAdjust="spacingAndGlyphs" stroke="#1a1a1a" stroke-width="0.25">Cell cycle</text>
<rect x="521.2" y="213.85" width="17.2" height="6.7" fill="#f27272"/>
<line x1="517.3" y1="217.2" x2="519.8" y2="217.2" stroke="#333" stroke-width="0.8"/>
<text x="514.8" y="221.1" font-size="8.2" text-anchor="end" fill="#1a1a1a" textLength="61.56" lengthAdjust="spacingAndGlyphs" stroke="#1a1a1a" stroke-width="0.25">Dna damage response</text>
<rect x="521.2" y="221.33" width="17.2" height="6.7" fill="#f27272"/>
<line x1="517.3" y1="224.68" x2="519.8" y2="224.68" stroke="#333" stroke-width="0.8"/>
<text x="514.8" y="228.58" font-size="8.2" text-anchor="end" fill="#1a1a1a" textLength="37.19" lengthAdjust="spacingAndGlyphs" stroke="#1a1a1a" stroke-width="0.25">Cell migration</text>
<rect x="521.2" y="228.8" width="13" height="6.7" fill="#f27272"/>
<line x1="517.3" y1="232.15" x2="519.8" y2="232.15" stroke="#333" stroke-width="0.8"/>
<text x="514.8" y="236.05" font-size="8.2" text-anchor="end" fill="#1a1a1a" textLength="62.9" lengthAdjust="spacingAndGlyphs" stroke="#1a1a1a" stroke-width="0.25">Chromatin organization</text>
<line x1="519.8" y1="10.5" x2="519.8" y2="237" stroke="#111" stroke-width="1.8"/>
<line x1="519.2" y1="236.6" x2="642.7" y2="236.6" stroke="#111" stroke-width="1.8"/>
<line x1="521.2" y1="236.6" x2="521.2" y2="239.5" stroke="#222" stroke-width="1"/>
<text x="522" y="252" font-size="10.3" text-anchor="middle" fill="#222" textLength="4.58" lengthAdjust="spacingAndGlyphs" stroke="#222" stroke-width="0.25">0</text>
<line x1="544.66" y1="236.6" x2="544.66" y2="239.5" stroke="#222" stroke-width="1"/>
<text x="545.46" y="252" font-size="10.3" text-anchor="middle" fill="#222" textLength="13.75" lengthAdjust="spacingAndGlyphs" stroke="#222" stroke-width="0.25">100</text>
<line x1="568.12" y1="236.6" x2="568.12" y2="239.5" stroke="#222" stroke-width="1"/>
<text x="568.92" y="252" font-size="10.3" text-anchor="middle" fill="#222" textLength="13.75" lengthAdjust="spacingAndGlyphs" stroke="#222" stroke-width="0.25">200</text>
<line x1="591.58" y1="236.6" x2="591.58" y2="239.5" stroke="#222" stroke-width="1"/>
<text x="592.38" y="252" font-size="10.3" text-anchor="middle" fill="#222" textLength="13.75" lengthAdjust="spacingAndGlyphs" stroke="#222" stroke-width="0.25">300</text>
<line x1="615.04" y1="236.6" x2="615.04" y2="239.5" stroke="#222" stroke-width="1"/>
<text x="615.84" y="252" font-size="10.3" text-anchor="middle" fill="#222" textLength="13.75" lengthAdjust="spacingAndGlyphs" stroke="#222" stroke-width="0.25">400</text>
<line x1="638.5" y1="236.6" x2="638.5" y2="239.5" stroke="#222" stroke-width="1"/>
<text x="639.3" y="252" font-size="10.3" text-anchor="middle" fill="#222" textLength="13.75" lengthAdjust="spacingAndGlyphs" stroke="#222" stroke-width="0.25">500</text>
<text x="588.5" y="264.5" font-size="10.5" text-anchor="middle" fill="#222" textLength="28.4" lengthAdjust="spacingAndGlyphs" stroke="#222" stroke-width="0.25">Number</text>
<text x="612.6" y="190" font-size="7.8" fill="#222" textLength="21.74" lengthAdjust="spacingAndGlyphs" stroke="#222" stroke-width="0.25">Groups</text>
<rect x="615.6" y="192" width="4.6" height="6" fill="#f27272"/>
<text x="623.3" y="197.5" font-size="7.6" fill="#222" textLength="8.62" lengthAdjust="spacingAndGlyphs" stroke="#222" stroke-width="0.25">BP</text>
<rect x="615.6" y="200.2" width="4.6" height="6" fill="#47d647"/>
<text x="623.3" y="205.7" font-size="7.6" fill="#222" textLength="9.33" lengthAdjust="spacingAndGlyphs" stroke="#222" stroke-width="0.25">CC</text>
<rect x="615.6" y="208.4" width="4.6" height="6" fill="#6b9cf6"/>
<text x="623.3" y="213.9" font-size="7.6" fill="#222" textLength="9.33" lengthAdjust="spacingAndGlyphs" stroke="#222" stroke-width="0.25">MF</text>
<rect x="482" y="206.3" width="35.6" height="9.2" fill="none" stroke="#e8201a" stroke-width="1.2"/>
<rect x="449.3" y="228.6" width="70" height="11.2" fill="none" stroke="#e8201a" stroke-width="1.2"/>
<text x="361.7" y="11.8" font-size="15.3" font-weight="bold" textLength="9.7" lengthAdjust="spacingAndGlyphs">B</text>
<text x="28.5" y="319.6" font-size="16.5" font-weight="bold">C</text>
<rect x="118.4" y="341.3" width="99.9" height="169.5" fill="none" stroke="#333" stroke-width="0.9"/>
<line x1="118.4" y1="351.9" x2="218.3" y2="351.9" stroke="#dcdcdc" stroke-width="0.5" stroke-dasharray="1 1.5"/>
<line x1="115.6" y1="351.9" x2="118.4" y2="351.9" stroke="#333" stroke-width="0.8"/>
<circle cx="213.4" cy="351.9" r="2.6" fill="#0d2b52"/>
<text x="112.8" y="355.8" font-size="11" text-anchor="end" fill="#1a1a1a" textLength="71.82" lengthAdjust="spacingAndGlyphs" stroke="#1a1a1a" stroke-width="0.25">Pathways in cancer</text>
<line x1="118.4" y1="368" x2="218.3" y2="368" stroke="#dcdcdc" stroke-width="0.5" stroke-dasharray="1 1.5"/>
<line x1="115.6" y1="368" x2="118.4" y2="368" stroke="#333" stroke-width="0.8"/>
<circle cx="162.2" cy="368" r="1.7" fill="#5ab0ee"/>
<text x="112.8" y="371.9" font-size="11" text-anchor="end" fill="#1a1a1a" textLength="58.47" lengthAdjust="spacingAndGlyphs" stroke="#1a1a1a" stroke-width="0.25">MAPK signaling</text>
<line x1="118.4" y1="384.4" x2="218.3" y2="384.4" stroke="#dcdcdc" stroke-width="0.5" stroke-dasharray="1 1.5"/>
<line x1="115.6" y1="384.4" x2="118.4" y2="384.4" stroke="#333" stroke-width="0.8"/>
<circle cx="138.4" cy="384.4" r="1.5" fill="#3d8fd8"/>
<text x="112.8" y="388.3" font-size="11" text-anchor="end" fill="#1a1a1a" textLength="35.44" lengthAdjust="spacingAndGlyphs" stroke="#1a1a1a" stroke-width="0.25">Cell cycle</text>
<line x1="118.4" y1="401.6" x2="218.3" y2="401.6" stroke="#dcdcdc" stroke-width="0.5" stroke-dasharray="1 1.5"/>
<line x1="115.6" y1="401.6" x2="118.4" y2="401.6" stroke="#333" stroke-width="0.8"/>
<circle cx="137.4" cy="401.6" r="1.5" fill="#1c4f8a"/>
<text x="112.8" y="405.5" font-size="11" text-anchor="end" fill="#1a1a1a" textLength="58.94" lengthAdjust="spacingAndGlyphs" stroke="#1a1a1a" stroke-width="0.25">Insulin signaling</text>
<line x1="118.4" y1="418" x2="218.3" y2="418" stroke="#dcdcdc" stroke-width="0.5" stroke-dasharray="1 1.5"/>
<line x1="115.6" y1="418" x2="118.4" y2="418" stroke="#333" stroke-width="0.8"/>
<circle cx="136.3" cy="418" r="1.45" fill="#1f5a9a"/>
<text x="112.8" y="421.9" font-size="11" text-anchor="end" fill="#1a1a1a" textLength="36.37" lengthAdjust="spacingAndGlyphs" stroke="#1a1a1a" stroke-width="0.25">Apoptosis</text>
<line x1="118.4" y1="434.5" x2="218.3" y2="434.5" stroke="#dcdcdc" stroke-width="0.5" stroke-dasharray="1 1.5"/>
<line x1="115.6" y1="434.5" x2="118.4" y2="434.5" stroke="#333" stroke-width="0.8"/>
<circle cx="134.2" cy="434.5" r="1.4" fill="#2f7cc6"/>
<text x="112.8" y="438.4" font-size="11" text-anchor="end" fill="#1a1a1a" textLength="55.24" lengthAdjust="spacingAndGlyphs" stroke="#1a1a1a" stroke-width="0.25">FoxO signaling</text>
<line x1="118.4" y1="451.4" x2="218.3" y2="451.4" stroke="#dcdcdc" stroke-width="0.5" stroke-dasharray="1 1.5"/>
<line x1="115.6" y1="451.4" x2="118.4" y2="451.4" stroke="#333" stroke-width="0.8"/>
<circle cx="129.3" cy="451.4" r="1.2" fill="#5ab0ee"/>
<text x="112.8" y="455.3" font-size="11" text-anchor="end" fill="#1a1a1a" textLength="51.09" lengthAdjust="spacingAndGlyphs" stroke="#1a1a1a" stroke-width="0.25">TNF signaling</text>
<line x1="118.4" y1="467.8" x2="218.3" y2="467.8" stroke="#dcdcdc" stroke-width="0.5" stroke-dasharray="1 1.5"/>
<line x1="115.6" y1="467.8" x2="118.4" y2="467.8" stroke="#333" stroke-width="0.8"/>
<circle cx="125.4" cy="467.8" r="1.1" fill="#1c4f8a"/>
<text x="112.8" y="471.7" font-size="11" text-anchor="end" fill="#1a1a1a" textLength="53.41" lengthAdjust="spacingAndGlyphs" stroke="#1a1a1a" stroke-width="0.25">ErbB signaling</text>
<line x1="118.4" y1="482.9" x2="218.3" y2="482.9" stroke="#dcdcdc" stroke-width="0.5" stroke-dasharray="1 1.5"/>
<line x1="115.6" y1="482.9" x2="118.4" y2="482.9" stroke="#333" stroke-width="0.8"/>
<circle cx="123.3" cy="482.9" r="1" fill="#3d8fd8"/>
<text x="112.8" y="486.8" font-size="11" text-anchor="end" fill="#1a1a1a" textLength="110.02" lengthAdjust="spacingAndGlyphs" stroke="#1a1a1a" stroke-width="0.25">Polycomb repressive complex</text>
<line x1="118.4" y1="501" x2="218.3" y2="501" stroke="#dcdcdc" stroke-width="0.5" stroke-dasharray="1 1.5"/>
<line x1="115.6" y1="501" x2="118.4" y2="501" stroke="#333" stroke-width="0.8"/>
<circle cx="122.6" cy="501" r="0.9" fill="#6cbcf2"/>
<text x="112.8" y="497.8" font-size="11" text-anchor="end" fill="#1a1a1a" textLength="80.55" lengthAdjust="spacingAndGlyphs" stroke="#1a1a1a" stroke-width="0.25">EGFR tyrosine kinase</text>
<text x="112.8" y="512.8" font-size="11" text-anchor="end" fill="#1a1a1a" textLength="69.05" lengthAdjust="spacingAndGlyphs" stroke="#1a1a1a" stroke-width="0.25">inhibitor resistance</text>
<line x1="125.4" y1="510.8" x2="125.4" y2="513.8" stroke="#333" stroke-width="0.8"/>
<text x="125.4" y="528.8" font-size="11" text-anchor="middle" fill="#1a1a1a" textLength="4.89" lengthAdjust="spacingAndGlyphs" stroke="#1a1a1a" stroke-width="0.25">1</text>
<line x1="152.97" y1="510.8" x2="152.97" y2="513.8" stroke="#333" stroke-width="0.8"/>
<text x="152.97" y="528.8" font-size="11" text-anchor="middle" fill="#1a1a1a" textLength="4.89" lengthAdjust="spacingAndGlyphs" stroke="#1a1a1a" stroke-width="0.25">2</text>
<line x1="180.54" y1="510.8" x2="180.54" y2="513.8" stroke="#333" stroke-width="0.8"/>
<text x="180.54" y="528.8" font-size="11" text-anchor="middle" fill="#1a1a1a" textLength="4.89" lengthAdjust="spacingAndGlyphs" stroke="#1a1a1a" stroke-width="0.25">3</text>
<line x1="208.11" y1="510.8" x2="208.11" y2="513.8" stroke="#333" stroke-width="0.8"/>
<text x="208.11" y="528.8" font-size="11" text-anchor="middle" fill="#1a1a1a" textLength="4.89" lengthAdjust="spacingAndGlyphs" stroke="#1a1a1a" stroke-width="0.25">4</text>
<text x="169" y="541.3" font-size="11" text-anchor="middle" fill="#1a1a1a" textLength="19.77" lengthAdjust="spacingAndGlyphs" stroke="#1a1a1a" stroke-width="0.25">Ratio</text>
<rect x="57.1" y="377.4" width="56.8" height="14.4" fill="none" stroke="#e8201a" stroke-width="1.2"/>
<text stroke="#222" stroke-width="0.25" x="48.8" y="525" font-size="8" fill="#222" textLength="33.2" lengthAdjust="spacingAndGlyphs">-Log<tspan font-size="5" dy="1.8">10</tspan><tspan dy="-1.8">(FDR)</tspan></text>
<defs><linearGradient id="cg" x1="0" x2="1"><stop offset="0" stop-color="#6cbcf2"/><stop offset="1" stop-color="#0d2b52"/></linearGradient></defs>
<rect x="56.1" y="529.9" width="18.1" height="5" fill="url(#cg)"/>
<text x="57.8" y="543.3" font-size="8.6" text-anchor="middle" fill="#222" textLength="8.8" lengthAdjust="spacingAndGlyphs" stroke="#222" stroke-width="0.25">2.4</text>
<text x="71.5" y="543.3" font-size="8.6" text-anchor="middle" fill="#222" textLength="8.9" lengthAdjust="spacingAndGlyphs" stroke="#222" stroke-width="0.25">3.6</text>
<text x="88.5" y="522.3" font-size="7.5" fill="#222" textLength="21.5" lengthAdjust="spacingAndGlyphs" stroke="#222" stroke-width="0.25">Number</text>
<circle cx="94.3" cy="528.1" r="0.8" fill="#111"/>
<text x="96.9" y="531" font-size="8.2" fill="#222" textLength="7.3" lengthAdjust="spacingAndGlyphs" stroke="#222" stroke-width="0.25">50</text>
<circle cx="94.3" cy="535.1" r="1" fill="#111"/>
<text x="96.9" y="538" font-size="8.2" fill="#222" textLength="7.3" lengthAdjust="spacingAndGlyphs" stroke="#222" stroke-width="0.25">75</text>
<circle cx="94.3" cy="543.3" r="1.25" fill="#111"/>
<text x="96.9" y="546.2" font-size="8.2" fill="#222" textLength="10.94" lengthAdjust="spacingAndGlyphs" stroke="#222" stroke-width="0.25">100</text>
<text x="239.8" y="321.9" font-size="16.2" font-weight="bold" textLength="10.5" lengthAdjust="spacingAndGlyphs">D</text>
<text x="274.3" y="339.8" font-size="12" fill="#1a1a1a" textLength="51" lengthAdjust="spacingAndGlyphs" stroke="#1a1a1a" stroke-width="0.25">shControl</text>
<text stroke="#1a1a1a" stroke-width="0.25" x="365.3" y="339.7" font-size="12" fill="#1a1a1a" textLength="44.6" lengthAdjust="spacingAndGlyphs">sh<tspan font-style="italic">HER3</tspan></text>
<text stroke="#1a1a1a" stroke-width="0.25" x="247.6" y="373.7" font-size="12" fill="#1a1a1a" text-anchor="middle" textLength="51.4" lengthAdjust="spacingAndGlyphs" transform="rotate(-90 247.6 373.7)">HCC1806</text>
<text stroke="#1a1a1a" stroke-width="0.25" x="245.6" y="440.1" font-size="12" fill="#1a1a1a" text-anchor="middle" textLength="48.2" lengthAdjust="spacingAndGlyphs" transform="rotate(-90 245.6 440.1)">MDA-231</text>
<text stroke="#1a1a1a" stroke-width="0.25" x="246.4" y="512.5" font-size="12" fill="#1a1a1a" text-anchor="middle" textLength="49.7" lengthAdjust="spacingAndGlyphs" transform="rotate(-90 246.4 512.5)">MDA-468</text>
<defs><pattern id="hat" width="2.2" height="2.2" patternUnits="userSpaceOnUse" patternTransform="rotate(45)"><rect width="2.2" height="2.2" fill="#dcdcf4"/><line x1="0" y1="0" x2="0" y2="2.2" stroke="#6a6ad8" stroke-width="0.7"/></pattern></defs>
<polygon points="252.1,403.4 252.1,403.4 252.6,403.4 253.1,403.4 253.6,403.4 254.1,403.4 254.6,403.4 255.1,403.4 255.6,403.4 256.1,403.4 256.6,403.4 257.1,403.4 257.6,403.4 258.1,403.4 258.6,403.4 259.1,403.4 259.6,403.4 260.1,403.4 260.6,403.4 261.1,403.4 261.6,403.4 262.1,403.4 262.6,403.4 263.1,403.4 263.6,403.4 264.1,403.4 264.6,403.4 265.1,403.4 265.6,403.4 266.1,403.4 266.6,403.4 267.1,403.4 267.6,403.4 268.1,403.4 268.6,403.4 269.1,403.4 269.6,403.4 270.1,403.4 270.6,403.4 271.1,403.4 271.6,403.4 272.1,403.4 272.6,403.4 273.1,403.4 273.6,403.4 274.1,403.4 274.6,403.4 275.1,403.4 275.6,403.4 276.1,403.4 276.6,403.4 277.1,403.4 277.6,403.4 278.1,403.4 278.6,403.4 279.1,403.4 279.6,403.4 280.1,403.4 280.6,403.4 281.1,403.4 281.6,403.4 282.1,403.4 282.6,403.4 283.1,403.4 283.6,403.4 284.1,403.4 284.6,403.39 285.1,403.39 285.6,403.38 286.1,403.36 286.6,403.32 286.7,403.31 287.1,403.26 287.6,403.14 288.1,402.94 288.6,402.6 289.1,402.08 289.6,401.36 290.1,400.53 290.6,399.73 291.1,399.09 291.6,398.64 292.1,398.36 292.6,398.2 293.1,398.11 293.6,398.06 294.1,398.03 294.6,398.02 295.1,398.01 295.6,398 296.1,398 296.6,398 297.1,398 297.6,398 298.1,398 298.6,398 299.1,398 299.6,398 300.1,398 300.6,398 301.1,398 301.6,398 302.1,398 302.6,398 303.1,398 303.6,398 304.1,398 304.6,398 305.1,398 305.6,398.01 306.1,398.01 306.6,398.02 307.1,398.03 307.6,398.04 308.1,398.06 308.6,398.09 309.1,398.13 309.6,398.2 310.1,398.3 310.6,398.44 311.1,398.64 311.6,398.92 312.1,399.28 312.6,399.73 313.1,400.25 313.6,400.81 314.1,401.36 314.6,401.86 315.1,402.27 315.6,402.6 316.1,402.84 316.6,403.02 317.1,403.14 317.6,403.23 318.1,403.29 318.6,403.32 319.1,403.35 319.3,403.36 319.6,403.37 320.1,403.38 320.6,403.39 321.1,403.39 321.6,403.39 322.1,403.4 322.6,403.4 323.1,403.4 323.6,403.4 324.1,403.4 324.6,403.4 325.1,403.4 325.6,403.4 326.1,403.4 326.6,403.4 327.1,403.4 327.6,403.4 328.1,403.4 328.6,403.4 329.1,403.4 329.6,403.4 330.1,403.4 330.6,403.4 331.1,403.4 331.6,403.4 332.1,403.4 332.6,403.4 333.1,403.4 333.6,403.4 334.1,403.4 334.6,403.4 335.1,403.4 335.6,403.4 335.6,403.4" fill="url(#hat)"/>
<polygon points="280.1,403.31 280.6,403.23 281.1,403.06 281.6,402.76 282.1,402.22 282.6,401.3 283.1,399.76 283.6,397.3 284.1,393.54 284.6,388.09 285.1,380.68 285.6,371.41 286.1,361.19 286.6,352.75 286.7,352 287.1,357.33 287.6,367.34 288.1,377.17 288.6,385.37 289.1,391.58 289.6,395.97 290.1,398.9 290.6,400.77 291.1,401.91 291.6,402.58 292.1,402.96 292.6,403.17 293.1,403.28 293.6,403.34" fill="#f01d10"/>
<polygon points="308.6,403.33 309.1,403.29 309.6,403.21 310.1,403.1 310.6,402.92 311.1,402.67 311.6,402.3 312.1,401.8 312.6,401.12 313.1,400.23 313.6,399.11 314.1,397.74 314.6,396.12 315.1,394.27 315.6,392.24 316.1,390.1 316.6,387.94 317.1,385.89 317.6,384.06 318.1,382.58 318.6,381.55 319.1,381.05 319.3,381 319.6,381.1 320.1,381.72 320.6,382.85 321.1,384.4 321.6,386.29 322.1,388.37 322.6,390.53 323.1,392.65 323.6,394.66 324.1,396.46 324.6,398.03 325.1,399.35 325.6,400.43 326.1,401.27 326.6,401.91 327.1,402.39 327.6,402.73 328.1,402.96 328.6,403.13 329.1,403.23 329.6,403.3 330.1,403.34" fill="#f01d10"/>
<polyline points="252.1,403.15 252.6,403.15 253.1,403.15 253.6,403.15 254.1,403.15 254.6,403.15 255.1,403.15 255.6,403.15 256.1,403.15 256.6,403.15 257.1,403.15 257.6,403.15 258.1,403.15 258.6,403.15 259.1,403.15 259.6,403.15 260.1,403.15 260.6,403.15 261.1,403.15 261.6,403.15 262.1,403.15 262.6,403.15 263.1,403.15 263.6,403.15 264.1,403.15 264.6,403.15 265.1,403.15 265.6,403.15 266.1,403.15 266.6,403.15 267.1,403.15 267.6,403.15 268.1,403.15 268.6,403.15 269.1,403.15 269.6,403.15 270.1,403.15 270.6,403.15 271.1,403.15 271.6,403.15 272.1,403.15 272.6,403.15 273.1,403.15 273.6,403.15 274.1,403.15 274.6,403.15 275.1,403.15 275.6,403.15 276.1,403.15 276.6,403.15 277.1,403.15 277.6,403.15 278.1,403.14 278.6,403.13 279.1,403.12 279.6,403.08 280.1,403.02 280.6,402.9 281.1,402.69 281.6,402.32 282.1,401.67 282.6,400.6 283.1,398.88 283.6,396.21 284.1,392.26 284.6,386.69 285.1,379.3 285.6,370.24 286.1,360.44 286.6,352.45 286.7,351.75 287.1,356.77 287.6,366.32 288.1,375.84 288.6,383.95 289.1,390.25 289.6,394.81 290.1,397.95 290.6,399.48 291.1,398.84 291.6,398.39 292.1,398.11 292.6,397.95 293.1,397.86 293.6,397.81 294.1,397.78 294.6,397.77 295.1,397.76 295.6,397.75 296.1,397.75 296.6,397.75 297.1,397.75 297.6,397.75 298.1,397.75 298.6,397.75 299.1,397.75 299.6,397.75 300.1,397.75 300.6,397.75 301.1,397.75 301.6,397.75 302.1,397.75 302.6,397.75 303.1,397.75 303.6,397.75 304.1,397.75 304.6,397.75 305.1,397.75 305.6,397.76 306.1,397.76 306.6,397.77 307.1,397.78 307.6,397.79 308.1,397.81 308.6,397.84 309.1,397.88 309.6,397.95 310.1,398.05 310.6,398.19 311.1,398.39 311.6,398.67 312.1,399.03 312.6,398.78 313.1,397.81 313.6,396.59 314.1,395.11 314.6,393.37 315.1,391.38 315.6,389.2 316.1,386.92 316.6,384.65 317.1,382.49 317.6,380.59 318.1,379.06 318.6,378 319.1,377.48 319.3,377.44 319.6,377.55 320.1,378.19 320.6,379.36 321.1,381 321.6,382.99 322.1,385.22 322.6,387.56 323.1,389.91 323.6,392.15 324.1,394.23 324.6,396.07 325.1,397.67 325.6,399 326.1,400.07 326.6,400.92 327.1,401.58 327.6,402.06 328.1,402.42 328.6,402.67 329.1,402.84 329.6,402.95 330.1,403.03 330.6,403.08 331.1,403.11 331.6,403.13 332.1,403.14 332.6,403.14 333.1,403.15 333.6,403.15 334.1,403.15 334.6,403.15 335.1,403.15 335.6,403.15" fill="none" stroke="#222" stroke-width="0.7"/>
<line x1="251.1" y1="348.5" x2="251.1" y2="403.4" stroke="#888" stroke-width="0.8"/>
<line x1="251.1" y1="403.4" x2="336" y2="403.4" stroke="#555" stroke-width="0.8"/>
<line x1="249.5" y1="348.5" x2="251.1" y2="348.5" stroke="#888" stroke-width="0.55"/>
<line x1="249.5" y1="351.2" x2="251.1" y2="351.2" stroke="#888" stroke-width="0.55"/>
<line x1="249.5" y1="353.9" x2="251.1" y2="353.9" stroke="#888" stroke-width="0.55"/>
<line x1="249.5" y1="356.6" x2="251.1" y2="356.6" stroke="#888" stroke-width="0.55"/>
<line x1="249.5" y1="359.3" x2="251.1" y2="359.3" stroke="#888" stroke-width="0.55"/>
<line x1="249.5" y1="362" x2="251.1" y2="362" stroke="#888" stroke-width="0.55"/>
<line x1="249.5" y1="364.7" x2="251.1" y2="364.7" stroke="#888" stroke-width="0.55"/>
<line x1="249.5" y1="367.4" x2="251.1" y2="367.4" stroke="#888" stroke-width="0.55"/>
<line x1="249.5" y1="370.1" x2="251.1" y2="370.1" stroke="#888" stroke-width="0.55"/>
<line x1="249.5" y1="372.8" x2="251.1" y2="372.8" stroke="#888" stroke-width="0.55"/>
<line x1="249.5" y1="375.5" x2="251.1" y2="375.5" stroke="#888" stroke-width="0.55"/>
<line x1="249.5" y1="378.2" x2="251.1" y2="378.2" stroke="#888" stroke-width="0.55"/>
<line x1="249.5" y1="380.9" x2="251.1" y2="380.9" stroke="#888" stroke-width="0.55"/>
<line x1="249.5" y1="383.6" x2="251.1" y2="383.6" stroke="#888" stroke-width="0.55"/>
<line x1="249.5" y1="386.3" x2="251.1" y2="386.3" stroke="#888" stroke-width="0.55"/>
<line x1="249.5" y1="389" x2="251.1" y2="389" stroke="#888" stroke-width="0.55"/>
<line x1="249.5" y1="391.7" x2="251.1" y2="391.7" stroke="#888" stroke-width="0.55"/>
<line x1="249.5" y1="394.4" x2="251.1" y2="394.4" stroke="#888" stroke-width="0.55"/>
<line x1="249.5" y1="397.1" x2="251.1" y2="397.1" stroke="#888" stroke-width="0.55"/>
<line x1="249.5" y1="399.8" x2="251.1" y2="399.8" stroke="#888" stroke-width="0.55"/>
<line x1="251.1" y1="403.4" x2="251.1" y2="405" stroke="#555" stroke-width="0.5"/>
<line x1="253.75" y1="403.4" x2="253.75" y2="404.3" stroke="#555" stroke-width="0.5"/>
<line x1="256.4" y1="403.4" x2="256.4" y2="404.3" stroke="#555" stroke-width="0.5"/>
<line x1="259.05" y1="403.4" x2="259.05" y2="404.3" stroke="#555" stroke-width="0.5"/>
<line x1="261.7" y1="403.4" x2="261.7" y2="405" stroke="#555" stroke-width="0.5"/>
<line x1="264.35" y1="403.4" x2="264.35" y2="404.3" stroke="#555" stroke-width="0.5"/>
<line x1="267" y1="403.4" x2="267" y2="404.3" stroke="#555" stroke-width="0.5"/>
<line x1="269.65" y1="403.4" x2="269.65" y2="404.3" stroke="#555" stroke-width="0.5"/>
<line x1="272.3" y1="403.4" x2="272.3" y2="405" stroke="#555" stroke-width="0.5"/>
<line x1="274.95" y1="403.4" x2="274.95" y2="404.3" stroke="#555" stroke-width="0.5"/>
<line x1="277.6" y1="403.4" x2="277.6" y2="404.3" stroke="#555" stroke-width="0.5"/>
<line x1="280.25" y1="403.4" x2="280.25" y2="404.3" stroke="#555" stroke-width="0.5"/>
<line x1="282.9" y1="403.4" x2="282.9" y2="405" stroke="#555" stroke-width="0.5"/>
<line x1="285.55" y1="403.4" x2="285.55" y2="404.3" stroke="#555" stroke-width="0.5"/>
<line x1="288.2" y1="403.4" x2="288.2" y2="404.3" stroke="#555" stroke-width="0.5"/>
<line x1="290.85" y1="403.4" x2="290.85" y2="404.3" stroke="#555" stroke-width="0.5"/>
<line x1="293.5" y1="403.4" x2="293.5" y2="405" stroke="#555" stroke-width="0.5"/>
<line x1="296.15" y1="403.4" x2="296.15" y2="404.3" stroke="#555" stroke-width="0.5"/>
<line x1="298.8" y1="403.4" x2="298.8" y2="404.3" stroke="#555" stroke-width="0.5"/>
<line x1="301.45" y1="403.4" x2="301.45" y2="404.3" stroke="#555" stroke-width="0.5"/>
<line x1="304.1" y1="403.4" x2="304.1" y2="405" stroke="#555" stroke-width="0.5"/>
<line x1="306.75" y1="403.4" x2="306.75" y2="404.3" stroke="#555" stroke-width="0.5"/>
<line x1="309.4" y1="403.4" x2="309.4" y2="404.3" stroke="#555" stroke-width="0.5"/>
<line x1="312.05" y1="403.4" x2="312.05" y2="404.3" stroke="#555" stroke-width="0.5"/>
<line x1="314.7" y1="403.4" x2="314.7" y2="405" stroke="#555" stroke-width="0.5"/>
<line x1="317.35" y1="403.4" x2="317.35" y2="404.3" stroke="#555" stroke-width="0.5"/>
<line x1="320" y1="403.4" x2="320" y2="404.3" stroke="#555" stroke-width="0.5"/>
<line x1="322.65" y1="403.4" x2="322.65" y2="404.3" stroke="#555" stroke-width="0.5"/>
<line x1="325.3" y1="403.4" x2="325.3" y2="405" stroke="#555" stroke-width="0.5"/>
<line x1="327.95" y1="403.4" x2="327.95" y2="404.3" stroke="#555" stroke-width="0.5"/>
<line x1="330.6" y1="403.4" x2="330.6" y2="404.3" stroke="#555" stroke-width="0.5"/>
<line x1="333.25" y1="403.4" x2="333.25" y2="404.3" stroke="#555" stroke-width="0.5"/>
<line x1="335.9" y1="403.4" x2="335.9" y2="405" stroke="#555" stroke-width="0.5"/>
<path d="M286.7 403.7l1.4 2.3h-2.8z" fill="#111"/>
<path d="M319.3 403.7l1.4 2.3h-2.8z" fill="#111"/>
<text x="295.2" y="362.6" font-size="10.4" fill="#1a1a1a" textLength="30.6" lengthAdjust="spacingAndGlyphs" stroke="#1a1a1a" stroke-width="0.25">G0/G1</text>
<text x="295.2" y="375.4" font-size="10.4" fill="#1a1a1a" textLength="30.6" lengthAdjust="spacingAndGlyphs" stroke="#1a1a1a" stroke-width="0.25">34.8%</text>
<polygon points="344.8,403.5 344.8,403.5 345.3,403.5 345.8,403.5 346.3,403.5 346.8,403.5 347.3,403.5 347.8,403.5 348.3,403.5 348.8,403.5 349.3,403.5 349.8,403.5 350.3,403.5 350.8,403.5 351.3,403.5 351.8,403.5 352.3,403.5 352.8,403.5 353.3,403.5 353.8,403.5 354.3,403.5 354.8,403.5 355.3,403.5 355.8,403.5 356.3,403.5 356.8,403.5 357.3,403.5 357.8,403.5 358.3,403.5 358.8,403.5 359.3,403.5 359.8,403.5 360.3,403.5 360.8,403.5 361.3,403.5 361.8,403.5 362.3,403.5 362.8,403.5 363.3,403.5 363.8,403.5 364.3,403.5 364.8,403.5 365.3,403.5 365.8,403.5 366.3,403.5 366.8,403.5 367.3,403.5 367.8,403.5 368.3,403.5 368.8,403.5 369.3,403.5 369.8,403.5 370.3,403.5 370.8,403.5 371.3,403.5 371.8,403.5 372.3,403.5 372.8,403.5 373.3,403.5 373.8,403.5 374.3,403.5 374.6,403.5 374.8,403.5 375.3,403.5 375.8,403.49 376.3,403.49 376.8,403.48 377.3,403.46 377.8,403.42 378.3,403.36 378.8,403.26 379.3,403.12 379.8,402.93 380.3,402.73 380.8,402.55 381.3,402.41 381.8,402.32 382.3,402.27 382.8,402.24 383.3,402.22 383.8,402.21 384.3,402.21 384.8,402.2 385.3,402.2 385.8,402.2 386.3,402.2 386.8,402.2 387.3,402.2 387.8,402.2 388.3,402.2 388.8,402.2 389.3,402.2 389.8,402.21 390.3,402.21 390.8,402.22 391.3,402.23 391.8,402.24 392.3,402.26 392.8,402.28 393.3,402.32 393.8,402.38 394.3,402.45 394.8,402.55 395.3,402.67 395.8,402.8 396.3,402.93 396.8,403.06 397.3,403.17 397.8,403.26 398.3,403.33 398.8,403.39 399.3,403.42 399.8,403.45 400.3,403.46 400.8,403.48 401.3,403.48 401.8,403.49 402.3,403.49 402.7,403.5 402.8,403.5 403.3,403.5 403.8,403.5 404.3,403.5 404.8,403.5 405.3,403.5 405.8,403.5 406.3,403.5 406.8,403.5 407.3,403.5 407.8,403.5 408.3,403.5 408.8,403.5 409.3,403.5 409.8,403.5 410.3,403.5 410.8,403.5 411.3,403.5 411.8,403.5 412.3,403.5 412.8,403.5 413.3,403.5 413.8,403.5 414.3,403.5 414.8,403.5 415.3,403.5 415.8,403.5 416.3,403.5 416.8,403.5 417.3,403.5 417.8,403.5 418.3,403.5 418.8,403.5 419.3,403.5 419.8,403.5 420.3,403.5 420.8,403.5 421.3,403.5 421.8,403.5 422.3,403.5 422.8,403.5 423.3,403.5 423.8,403.5 424.3,403.5 424.8,403.5 425.3,403.5 425.8,403.5 426.3,403.5 426.8,403.5 426.8,403.5" fill="url(#hat)"/>
<polygon points="367.8,403.45 368.3,403.4 368.8,403.29 369.3,403.08 369.8,402.7 370.3,402.01 370.8,400.82 371.3,398.83 371.8,395.66 372.3,390.87 372.8,384.02 373.3,374.98 373.8,364.23 374.3,353.7 374.6,349.8 374.8,352 375.3,362.01 375.8,372.93 376.3,382.39 376.8,389.67 377.3,394.85 377.8,398.31 378.3,400.5 378.8,401.82 379.3,402.59 379.8,403.02 380.3,403.26 380.8,403.38 381.3,403.44" fill="#f01d10"/>
<polygon points="392.8,403.43 393.3,403.39 393.8,403.31 394.3,403.2 394.8,403.04 395.3,402.8 395.8,402.47 396.3,402.03 396.8,401.45 397.3,400.71 397.8,399.82 398.3,398.76 398.8,397.57 399.3,396.28 399.8,394.94 400.3,393.61 400.8,392.4 401.3,391.36 401.8,390.58 402.3,390.12 402.7,390 402.8,390.01 403.3,390.26 403.8,390.86 404.3,391.75 404.8,392.87 405.3,394.14 405.8,395.47 406.3,396.8 406.8,398.06 407.3,399.2 407.8,400.19 408.3,401.03 408.8,401.7 409.3,402.22 409.8,402.62 410.3,402.91 410.8,403.11 411.3,403.25 411.8,403.35 412.3,403.41 412.8,403.45" fill="#f01d10"/>
<polyline points="344.8,403.25 345.3,403.25 345.8,403.25 346.3,403.25 346.8,403.25 347.3,403.25 347.8,403.25 348.3,403.25 348.8,403.25 349.3,403.25 349.8,403.25 350.3,403.25 350.8,403.25 351.3,403.25 351.8,403.25 352.3,403.25 352.8,403.25 353.3,403.25 353.8,403.25 354.3,403.25 354.8,403.25 355.3,403.25 355.8,403.25 356.3,403.25 356.8,403.25 357.3,403.25 357.8,403.25 358.3,403.25 358.8,403.25 359.3,403.25 359.8,403.25 360.3,403.25 360.8,403.25 361.3,403.25 361.8,403.25 362.3,403.25 362.8,403.25 363.3,403.25 363.8,403.25 364.3,403.25 364.8,403.25 365.3,403.25 365.8,403.25 366.3,403.24 366.8,403.23 367.3,403.21 367.8,403.17 368.3,403.1 368.8,402.95 369.3,402.69 369.8,402.22 370.3,401.4 370.8,400.04 371.3,397.85 371.8,394.46 372.3,389.47 372.8,382.56 373.3,373.63 373.8,363.24 374.3,353.23 374.6,349.55 374.8,351.63 375.3,361.11 375.8,371.63 376.3,380.93 376.8,388.25 377.3,393.6 377.8,397.28 378.3,399.68 378.8,401.18 379.3,402.09 379.8,402.62 380.3,402.48 380.8,402.3 381.3,402.16 381.8,402.07 382.3,402.02 382.8,401.99 383.3,401.97 383.8,401.96 384.3,401.96 384.8,401.95 385.3,401.95 385.8,401.95 386.3,401.95 386.8,401.95 387.3,401.95 387.8,401.95 388.3,401.95 388.8,401.95 389.3,401.95 389.8,401.96 390.3,401.96 390.8,401.97 391.3,401.98 391.8,401.99 392.3,402.01 392.8,402.03 393.3,402.07 393.8,402.13 394.3,402.2 394.8,402.3 395.3,402.03 395.8,401.67 396.3,401.18 396.8,400.56 397.3,399.78 397.8,398.84 398.3,397.76 398.8,396.55 399.3,395.27 399.8,393.95 400.3,392.67 400.8,391.51 401.3,390.52 401.8,389.79 402.3,389.36 402.7,389.25 402.8,389.26 403.3,389.49 403.8,390.05 404.3,390.89 404.8,391.96 405.3,393.19 405.8,394.49 406.3,395.81 406.8,397.09 407.3,398.27 407.8,399.32 408.3,400.22 408.8,400.97 409.3,401.58 409.8,402.06 410.3,402.42 410.8,402.68 411.3,402.87 411.8,403 412.3,403.09 412.8,403.15 413.3,403.19 413.8,403.22 414.3,403.23 414.8,403.24 415.3,403.24 415.8,403.25 416.3,403.25 416.8,403.25 417.3,403.25 417.8,403.25 418.3,403.25 418.8,403.25 419.3,403.25 419.8,403.25 420.3,403.25 420.8,403.25 421.3,403.25 421.8,403.25 422.3,403.25 422.8,403.25 423.3,403.25 423.8,403.25 424.3,403.25 424.8,403.25 425.3,403.25 425.8,403.25 426.3,403.25 426.8,403.25" fill="none" stroke="#222" stroke-width="0.7"/>
<line x1="343.8" y1="349.3" x2="343.8" y2="403.5" stroke="#888" stroke-width="0.8"/>
<line x1="343.8" y1="403.5" x2="427.3" y2="403.5" stroke="#555" stroke-width="0.8"/>
<line x1="342.2" y1="349.3" x2="343.8" y2="349.3" stroke="#888" stroke-width="0.55"/>
<line x1="342.2" y1="352" x2="343.8" y2="352" stroke="#888" stroke-width="0.55"/>
<line x1="342.2" y1="354.7" x2="343.8" y2="354.7" stroke="#888" stroke-width="0.55"/>
<line x1="342.2" y1="357.4" x2="343.8" y2="357.4" stroke="#888" stroke-width="0.55"/>
<line x1="342.2" y1="360.1" x2="343.8" y2="360.1" stroke="#888" stroke-width="0.55"/>
<line x1="342.2" y1="362.8" x2="343.8" y2="362.8" stroke="#888" stroke-width="0.55"/>
<line x1="342.2" y1="365.5" x2="343.8" y2="365.5" stroke="#888" stroke-width="0.55"/>
<line x1="342.2" y1="368.2" x2="343.8" y2="368.2" stroke="#888" stroke-width="0.55"/>
<line x1="342.2" y1="370.9" x2="343.8" y2="370.9" stroke="#888" stroke-width="0.55"/>
<line x1="342.2" y1="373.6" x2="343.8" y2="373.6" stroke="#888" stroke-width="0.55"/>
<line x1="342.2" y1="376.3" x2="343.8" y2="376.3" stroke="#888" stroke-width="0.55"/>
<line x1="342.2" y1="379" x2="343.8" y2="379" stroke="#888" stroke-width="0.55"/>
<line x1="342.2" y1="381.7" x2="343.8" y2="381.7" stroke="#888" stroke-width="0.55"/>
<line x1="342.2" y1="384.4" x2="343.8" y2="384.4" stroke="#888" stroke-width="0.55"/>
<line x1="342.2" y1="387.1" x2="343.8" y2="387.1" stroke="#888" stroke-width="0.55"/>
<line x1="342.2" y1="389.8" x2="343.8" y2="389.8" stroke="#888" stroke-width="0.55"/>
<line x1="342.2" y1="392.5" x2="343.8" y2="392.5" stroke="#888" stroke-width="0.55"/>
<line x1="342.2" y1="395.2" x2="343.8" y2="395.2" stroke="#888" stroke-width="0.55"/>
<line x1="342.2" y1="397.9" x2="343.8" y2="397.9" stroke="#888" stroke-width="0.55"/>
<line x1="342.2" y1="400.6" x2="343.8" y2="400.6" stroke="#888" stroke-width="0.55"/>
<line x1="343.8" y1="403.5" x2="343.8" y2="405.1" stroke="#555" stroke-width="0.5"/>
<line x1="346.45" y1="403.5" x2="346.45" y2="404.4" stroke="#555" stroke-width="0.5"/>
<line x1="349.1" y1="403.5" x2="349.1" y2="404.4" stroke="#555" stroke-width="0.5"/>
<line x1="351.75" y1="403.5" x2="351.75" y2="404.4" stroke="#555" stroke-width="0.5"/>
<line x1="354.4" y1="403.5" x2="354.4" y2="405.1" stroke="#555" stroke-width="0.5"/>
<line x1="357.05" y1="403.5" x2="357.05" y2="404.4" stroke="#555" stroke-width="0.5"/>
<line x1="359.7" y1="403.5" x2="359.7" y2="404.4" stroke="#555" stroke-width="0.5"/>
<line x1="362.35" y1="403.5" x2="362.35" y2="404.4" stroke="#555" stroke-width="0.5"/>
<line x1="365" y1="403.5" x2="365" y2="405.1" stroke="#555" stroke-width="0.5"/>
<line x1="367.65" y1="403.5" x2="367.65" y2="404.4" stroke="#555" stroke-width="0.5"/>
<line x1="370.3" y1="403.5" x2="370.3" y2="404.4" stroke="#555" stroke-width="0.5"/>
<line x1="372.95" y1="403.5" x2="372.95" y2="404.4" stroke="#555" stroke-width="0.5"/>
<line x1="375.6" y1="403.5" x2="375.6" y2="405.1" stroke="#555" stroke-width="0.5"/>
<line x1="378.25" y1="403.5" x2="378.25" y2="404.4" stroke="#555" stroke-width="0.5"/>
<line x1="380.9" y1="403.5" x2="380.9" y2="404.4" stroke="#555" stroke-width="0.5"/>
<line x1="383.55" y1="403.5" x2="383.55" y2="404.4" stroke="#555" stroke-width="0.5"/>
<line x1="386.2" y1="403.5" x2="386.2" y2="405.1" stroke="#555" stroke-width="0.5"/>
<line x1="388.85" y1="403.5" x2="388.85" y2="404.4" stroke="#555" stroke-width="0.5"/>
<line x1="391.5" y1="403.5" x2="391.5" y2="404.4" stroke="#555" stroke-width="0.5"/>
<line x1="394.15" y1="403.5" x2="394.15" y2="404.4" stroke="#555" stroke-width="0.5"/>
<line x1="396.8" y1="403.5" x2="396.8" y2="405.1" stroke="#555" stroke-width="0.5"/>
<line x1="399.45" y1="403.5" x2="399.45" y2="404.4" stroke="#555" stroke-width="0.5"/>
<line x1="402.1" y1="403.5" x2="402.1" y2="404.4" stroke="#555" stroke-width="0.5"/>
<line x1="404.75" y1="403.5" x2="404.75" y2="404.4" stroke="#555" stroke-width="0.5"/>
<line x1="407.4" y1="403.5" x2="407.4" y2="405.1" stroke="#555" stroke-width="0.5"/>
<line x1="410.05" y1="403.5" x2="410.05" y2="404.4" stroke="#555" stroke-width="0.5"/>
<line x1="412.7" y1="403.5" x2="412.7" y2="404.4" stroke="#555" stroke-width="0.5"/>
<line x1="415.35" y1="403.5" x2="415.35" y2="404.4" stroke="#555" stroke-width="0.5"/>
<line x1="418" y1="403.5" x2="418" y2="405.1" stroke="#555" stroke-width="0.5"/>
<line x1="420.65" y1="403.5" x2="420.65" y2="404.4" stroke="#555" stroke-width="0.5"/>
<line x1="423.3" y1="403.5" x2="423.3" y2="404.4" stroke="#555" stroke-width="0.5"/>
<line x1="425.95" y1="403.5" x2="425.95" y2="404.4" stroke="#555" stroke-width="0.5"/>
<path d="M374.6 403.8l1.4 2.3h-2.8z" fill="#111"/>
<path d="M402.7 403.8l1.4 2.3h-2.8z" fill="#111"/>
<text x="387.1" y="363.8" font-size="10.4" fill="#1a1a1a" textLength="30.6" lengthAdjust="spacingAndGlyphs" stroke="#1a1a1a" stroke-width="0.25">G0/G1</text>
<text x="387.1" y="376.6" font-size="10.4" fill="#1a1a1a" textLength="30.6" lengthAdjust="spacingAndGlyphs" stroke="#1a1a1a" stroke-width="0.25">56.9%</text>
<polygon points="252.9,472.6 252.9,472.6 253.4,472.6 253.9,472.6 254.4,472.6 254.9,472.6 255.4,472.6 255.9,472.6 256.4,472.6 256.9,472.6 257.4,472.6 257.9,472.6 258.4,472.6 258.9,472.6 259.4,472.6 259.9,472.6 260.4,472.6 260.9,472.6 261.4,472.6 261.9,472.6 262.4,472.6 262.9,472.6 263.4,472.6 263.9,472.6 264.4,472.6 264.9,472.6 265.4,472.6 265.9,472.6 266.4,472.6 266.9,472.6 267.4,472.6 267.9,472.6 268.4,472.6 268.9,472.6 269.4,472.6 269.9,472.6 270.4,472.6 270.9,472.6 271.4,472.6 271.9,472.6 272.4,472.6 272.9,472.6 273.4,472.6 273.9,472.6 274.4,472.6 274.9,472.6 275.4,472.6 275.9,472.6 276.4,472.6 276.9,472.6 277.4,472.6 277.9,472.6 278.4,472.6 278.9,472.6 279.4,472.6 279.9,472.6 280.4,472.6 280.9,472.6 281.4,472.6 281.9,472.6 282.4,472.6 282.9,472.6 283.4,472.6 283.9,472.6 284.4,472.6 284.9,472.6 285.4,472.6 285.9,472.6 286.4,472.6 286.7,472.59 286.9,472.59 287.4,472.59 287.9,472.58 288.4,472.56 288.9,472.52 289.4,472.46 289.9,472.36 290.4,472.22 290.9,472.04 291.4,471.85 291.9,471.69 292.4,471.58 292.9,471.5 293.4,471.46 293.9,471.43 294.4,471.42 294.9,471.41 295.4,471.4 295.9,471.4 296.4,471.4 296.9,471.4 297.4,471.4 297.9,471.4 298.4,471.4 298.9,471.4 299.4,471.4 299.9,471.4 300.4,471.4 300.9,471.4 301.4,471.4 301.9,471.4 302.4,471.4 302.9,471.4 303.4,471.4 303.9,471.4 304.4,471.4 304.9,471.4 305.4,471.4 305.9,471.4 306.4,471.4 306.9,471.4 307.4,471.4 307.9,471.41 308.4,471.41 308.9,471.42 309.4,471.43 309.9,471.44 310.4,471.46 310.9,471.48 311.4,471.52 311.9,471.58 312.4,471.65 312.9,471.74 313.4,471.85 313.9,471.98 314.4,472.1 314.9,472.22 315.4,472.32 315.9,472.4 316.4,472.46 316.9,472.5 317.4,472.53 317.9,472.56 318.4,472.57 318.5,472.57 318.9,472.58 319.4,472.59 319.9,472.59 320.4,472.59 320.9,472.6 321.4,472.6 321.9,472.6 322.4,472.6 322.9,472.6 323.4,472.6 323.9,472.6 324.4,472.6 324.9,472.6 325.4,472.6 325.9,472.6 326.4,472.6 326.9,472.6 327.4,472.6 327.9,472.6 328.4,472.6 328.9,472.6 329.4,472.6 329.9,472.6 330.4,472.6 330.9,472.6 331.4,472.6 331.9,472.6 332.4,472.6 332.9,472.6 333.4,472.6 333.9,472.6 334.4,472.6 334.9,472.6 335.4,472.6 335.9,472.6 335.9,472.6" fill="url(#hat)"/>
<polygon points="278.9,472.54 279.4,472.49 279.9,472.4 280.4,472.25 280.9,472 281.4,471.58 281.9,470.92 282.4,469.88 282.9,468.31 283.4,466.01 283.9,462.77 284.4,458.37 284.9,452.71 285.4,445.88 285.9,438.38 286.4,431.47 286.7,429 286.9,430.39 287.4,436.89 287.9,444.41 288.4,451.43 288.9,457.34 289.4,461.98 289.9,465.45 290.4,467.92 290.9,469.61 291.4,470.74 291.9,471.47 292.4,471.93 292.9,472.21 293.4,472.38 293.9,472.48 294.4,472.53" fill="#f01d10"/>
<polygon points="307.9,472.54 308.4,472.51 308.9,472.47 309.4,472.42 309.9,472.36 310.4,472.28 310.9,472.18 311.4,472.06 311.9,471.91 312.4,471.75 312.9,471.55 313.4,471.34 313.9,471.11 314.4,470.87 314.9,470.62 315.4,470.38 315.9,470.15 316.4,469.94 316.9,469.76 317.4,469.63 317.9,469.54 318.4,469.5 318.5,469.5 318.9,469.52 319.4,469.59 319.9,469.7 320.4,469.86 320.9,470.06 321.4,470.28 321.9,470.52 322.4,470.77 322.9,471.01 323.4,471.25 323.9,471.47 324.4,471.67 324.9,471.85 325.4,472 325.9,472.13 326.4,472.24 326.9,472.33 327.4,472.4 327.9,472.45 328.4,472.5 328.9,472.53 329.4,472.55" fill="#f01d10"/>
<polyline points="252.9,472.35 253.4,472.35 253.9,472.35 254.4,472.35 254.9,472.35 255.4,472.35 255.9,472.35 256.4,472.35 256.9,472.35 257.4,472.35 257.9,472.35 258.4,472.35 258.9,472.35 259.4,472.35 259.9,472.35 260.4,472.35 260.9,472.35 261.4,472.35 261.9,472.35 262.4,472.35 262.9,472.35 263.4,472.35 263.9,472.35 264.4,472.35 264.9,472.35 265.4,472.35 265.9,472.35 266.4,472.35 266.9,472.35 267.4,472.35 267.9,472.35 268.4,472.35 268.9,472.35 269.4,472.35 269.9,472.35 270.4,472.35 270.9,472.35 271.4,472.35 271.9,472.35 272.4,472.35 272.9,472.35 273.4,472.35 273.9,472.35 274.4,472.34 274.9,472.34 275.4,472.33 275.9,472.31 276.4,472.29 276.9,472.26 277.4,472.2 277.9,472.12 278.4,472 278.9,471.82 279.4,471.55 279.9,471.15 280.4,470.59 280.9,469.8 281.4,468.71 281.9,467.22 282.4,465.24 282.9,462.67 283.4,459.38 283.9,455.32 284.4,450.45 284.9,444.85 285.4,438.73 285.9,432.57 286.4,427.28 286.7,425.45 286.9,426.47 287.4,431.4 287.9,437.49 288.4,443.66 288.9,449.39 289.4,454.41 289.9,458.63 290.4,462.07 290.9,464.78 291.4,466.87 291.9,468.45 292.4,469.61 292.9,470.45 293.4,471.06 293.9,471.18 294.4,471.17 294.9,471.16 295.4,471.15 295.9,471.15 296.4,471.15 296.9,471.15 297.4,471.15 297.9,471.15 298.4,471.15 298.9,471.15 299.4,471.15 299.9,471.15 300.4,471.15 300.9,471.15 301.4,471.15 301.9,471.15 302.4,471.15 302.9,471.15 303.4,471.15 303.9,471.15 304.4,471.15 304.9,471.15 305.4,471.15 305.9,471.15 306.4,471.15 306.9,471.15 307.4,471.15 307.9,471.16 308.4,471.16 308.9,471.17 309.4,471.18 309.9,471.19 310.4,471.03 310.9,470.77 311.4,470.45 311.9,470.1 312.4,469.69 312.9,469.24 313.4,468.75 313.9,468.24 314.4,467.71 314.9,467.17 315.4,466.64 315.9,466.14 316.4,465.69 316.9,465.3 317.4,465.01 317.9,464.82 318.4,464.74 318.5,464.74 318.9,464.78 319.4,464.94 319.9,465.2 320.4,465.56 320.9,466 321.4,466.51 321.9,467.05 322.4,467.62 322.9,468.2 323.4,468.76 323.9,469.29 324.4,469.79 324.9,470.24 325.4,470.63 325.9,470.98 326.4,471.27 326.9,471.51 327.4,471.71 327.9,471.87 328.4,471.99 328.9,472.09 329.4,472.16 329.9,472.22 330.4,472.26 330.9,472.29 331.4,472.31 331.9,472.32 332.4,472.33 332.9,472.34 333.4,472.34 333.9,472.35 334.4,472.35 334.9,472.35 335.4,472.35 335.9,472.35" fill="none" stroke="#222" stroke-width="0.7"/>
<line x1="251.9" y1="416.9" x2="251.9" y2="472.6" stroke="#888" stroke-width="0.8"/>
<line x1="251.9" y1="472.6" x2="336" y2="472.6" stroke="#555" stroke-width="0.8"/>
<line x1="250.3" y1="416.9" x2="251.9" y2="416.9" stroke="#888" stroke-width="0.55"/>
<line x1="250.3" y1="419.6" x2="251.9" y2="419.6" stroke="#888" stroke-width="0.55"/>
<line x1="250.3" y1="422.3" x2="251.9" y2="422.3" stroke="#888" stroke-width="0.55"/>
<line x1="250.3" y1="425" x2="251.9" y2="425" stroke="#888" stroke-width="0.55"/>
<line x1="250.3" y1="427.7" x2="251.9" y2="427.7" stroke="#888" stroke-width="0.55"/>
<line x1="250.3" y1="430.4" x2="251.9" y2="430.4" stroke="#888" stroke-width="0.55"/>
<line x1="250.3" y1="433.1" x2="251.9" y2="433.1" stroke="#888" stroke-width="0.55"/>
<line x1="250.3" y1="435.8" x2="251.9" y2="435.8" stroke="#888" stroke-width="0.55"/>
<line x1="250.3" y1="438.5" x2="251.9" y2="438.5" stroke="#888" stroke-width="0.55"/>
<line x1="250.3" y1="441.2" x2="251.9" y2="441.2" stroke="#888" stroke-width="0.55"/>
<line x1="250.3" y1="443.9" x2="251.9" y2="443.9" stroke="#888" stroke-width="0.55"/>
<line x1="250.3" y1="446.6" x2="251.9" y2="446.6" stroke="#888" stroke-width="0.55"/>
<line x1="250.3" y1="449.3" x2="251.9" y2="449.3" stroke="#888" stroke-width="0.55"/>
<line x1="250.3" y1="452" x2="251.9" y2="452" stroke="#888" stroke-width="0.55"/>
<line x1="250.3" y1="454.7" x2="251.9" y2="454.7" stroke="#888" stroke-width="0.55"/>
<line x1="250.3" y1="457.4" x2="251.9" y2="457.4" stroke="#888" stroke-width="0.55"/>
<line x1="250.3" y1="460.1" x2="251.9" y2="460.1" stroke="#888" stroke-width="0.55"/>
<line x1="250.3" y1="462.8" x2="251.9" y2="462.8" stroke="#888" stroke-width="0.55"/>
<line x1="250.3" y1="465.5" x2="251.9" y2="465.5" stroke="#888" stroke-width="0.55"/>
<line x1="250.3" y1="468.2" x2="251.9" y2="468.2" stroke="#888" stroke-width="0.55"/>
<line x1="250.3" y1="470.9" x2="251.9" y2="470.9" stroke="#888" stroke-width="0.55"/>
<line x1="251.9" y1="472.6" x2="251.9" y2="474.2" stroke="#555" stroke-width="0.5"/>
<line x1="254.55" y1="472.6" x2="254.55" y2="473.5" stroke="#555" stroke-width="0.5"/>
<line x1="257.2" y1="472.6" x2="257.2" y2="473.5" stroke="#555" stroke-width="0.5"/>
<line x1="259.85" y1="472.6" x2="259.85" y2="473.5" stroke="#555" stroke-width="0.5"/>
<line x1="262.5" y1="472.6" x2="262.5" y2="474.2" stroke="#555" stroke-width="0.5"/>
<line x1="265.15" y1="472.6" x2="265.15" y2="473.5" stroke="#555" stroke-width="0.5"/>
<line x1="267.8" y1="472.6" x2="267.8" y2="473.5" stroke="#555" stroke-width="0.5"/>
<line x1="270.45" y1="472.6" x2="270.45" y2="473.5" stroke="#555" stroke-width="0.5"/>
<line x1="273.1" y1="472.6" x2="273.1" y2="474.2" stroke="#555" stroke-width="0.5"/>
<line x1="275.75" y1="472.6" x2="275.75" y2="473.5" stroke="#555" stroke-width="0.5"/>
<line x1="278.4" y1="472.6" x2="278.4" y2="473.5" stroke="#555" stroke-width="0.5"/>
<line x1="281.05" y1="472.6" x2="281.05" y2="473.5" stroke="#555" stroke-width="0.5"/>
<line x1="283.7" y1="472.6" x2="283.7" y2="474.2" stroke="#555" stroke-width="0.5"/>
<line x1="286.35" y1="472.6" x2="286.35" y2="473.5" stroke="#555" stroke-width="0.5"/>
<line x1="289" y1="472.6" x2="289" y2="473.5" stroke="#555" stroke-width="0.5"/>
<line x1="291.65" y1="472.6" x2="291.65" y2="473.5" stroke="#555" stroke-width="0.5"/>
<line x1="294.3" y1="472.6" x2="294.3" y2="474.2" stroke="#555" stroke-width="0.5"/>
<line x1="296.95" y1="472.6" x2="296.95" y2="473.5" stroke="#555" stroke-width="0.5"/>
<line x1="299.6" y1="472.6" x2="299.6" y2="473.5" stroke="#555" stroke-width="0.5"/>
<line x1="302.25" y1="472.6" x2="302.25" y2="473.5" stroke="#555" stroke-width="0.5"/>
<line x1="304.9" y1="472.6" x2="304.9" y2="474.2" stroke="#555" stroke-width="0.5"/>
<line x1="307.55" y1="472.6" x2="307.55" y2="473.5" stroke="#555" stroke-width="0.5"/>
<line x1="310.2" y1="472.6" x2="310.2" y2="473.5" stroke="#555" stroke-width="0.5"/>
<line x1="312.85" y1="472.6" x2="312.85" y2="473.5" stroke="#555" stroke-width="0.5"/>
<line x1="315.5" y1="472.6" x2="315.5" y2="474.2" stroke="#555" stroke-width="0.5"/>
<line x1="318.15" y1="472.6" x2="318.15" y2="473.5" stroke="#555" stroke-width="0.5"/>
<line x1="320.8" y1="472.6" x2="320.8" y2="473.5" stroke="#555" stroke-width="0.5"/>
<line x1="323.45" y1="472.6" x2="323.45" y2="473.5" stroke="#555" stroke-width="0.5"/>
<line x1="326.1" y1="472.6" x2="326.1" y2="474.2" stroke="#555" stroke-width="0.5"/>
<line x1="328.75" y1="472.6" x2="328.75" y2="473.5" stroke="#555" stroke-width="0.5"/>
<line x1="331.4" y1="472.6" x2="331.4" y2="473.5" stroke="#555" stroke-width="0.5"/>
<line x1="334.05" y1="472.6" x2="334.05" y2="473.5" stroke="#555" stroke-width="0.5"/>
<path d="M286.7 472.9l1.4 2.3h-2.8z" fill="#111"/>
<path d="M318.5 472.9l1.4 2.3h-2.8z" fill="#111"/>
<text x="296" y="440.1" font-size="10.4" fill="#1a1a1a" textLength="30.6" lengthAdjust="spacingAndGlyphs" stroke="#1a1a1a" stroke-width="0.25">G0/G1</text>
<text x="296" y="452.9" font-size="10.4" fill="#1a1a1a" textLength="30.6" lengthAdjust="spacingAndGlyphs" stroke="#1a1a1a" stroke-width="0.25">68.8%</text>
<polygon points="345.8,472.6 345.8,472.6 346.3,472.6 346.8,472.6 347.3,472.6 347.8,472.6 348.3,472.6 348.8,472.6 349.3,472.6 349.8,472.6 350.3,472.6 350.8,472.6 351.3,472.6 351.8,472.6 352.3,472.6 352.8,472.6 353.3,472.6 353.8,472.6 354.3,472.6 354.8,472.6 355.3,472.6 355.8,472.6 356.3,472.6 356.8,472.6 357.3,472.6 357.8,472.6 358.3,472.6 358.8,472.6 359.3,472.6 359.8,472.6 360.3,472.6 360.8,472.6 361.3,472.6 361.8,472.6 362.3,472.6 362.8,472.6 363.3,472.6 363.8,472.6 364.3,472.6 364.8,472.6 365.3,472.6 365.8,472.6 366.3,472.6 366.8,472.6 367.3,472.6 367.8,472.6 368.3,472.6 368.8,472.6 369.3,472.6 369.8,472.6 370.3,472.6 370.8,472.6 371.3,472.6 371.8,472.6 372.3,472.6 372.8,472.6 373.3,472.6 373.8,472.6 374.3,472.6 374.8,472.6 375.3,472.6 375.8,472.6 376.3,472.6 376.8,472.6 377.3,472.6 377.8,472.6 378.3,472.6 378.8,472.6 379.3,472.6 379.8,472.6 380.1,472.6 380.3,472.6 380.8,472.59 381.3,472.59 381.8,472.58 382.3,472.57 382.8,472.54 383.3,472.49 383.8,472.42 384.3,472.31 384.8,472.16 385.3,472.01 385.8,471.87 386.3,471.76 386.8,471.7 387.3,471.65 387.8,471.63 388.3,471.62 388.8,471.61 389.3,471.6 389.8,471.6 390.3,471.6 390.8,471.6 391.3,471.6 391.8,471.6 392.3,471.6 392.8,471.6 393.3,471.6 393.8,471.6 394.3,471.6 394.8,471.6 395.3,471.6 395.8,471.6 396.3,471.6 396.8,471.6 397.3,471.6 397.8,471.6 398.3,471.6 398.8,471.6 399.3,471.6 399.8,471.6 400.3,471.6 400.8,471.6 401.3,471.6 401.8,471.61 402.3,471.61 402.8,471.61 403.3,471.62 403.8,471.63 404.3,471.64 404.8,471.66 405.3,471.7 405.8,471.74 406.3,471.8 406.8,471.87 407.3,471.96 407.8,472.06 408.3,472.16 408.8,472.26 409.3,472.35 409.8,472.42 410.3,472.47 410.8,472.51 411.3,472.54 411.8,472.56 412.3,472.57 412.8,472.58 413.3,472.59 413.8,472.59 414.3,472.59 414.8,472.6 415.3,472.6 415.8,472.6 416.3,472.6 416.8,472.6 417.3,472.6 417.8,472.6 418.3,472.6 418.8,472.6 419.3,472.6 419.8,472.6 420.3,472.6 420.8,472.6 421.3,472.6 421.8,472.6 422.3,472.6 422.8,472.6 423.3,472.6 423.8,472.6 424.3,472.6 424.8,472.6 425.3,472.6 425.8,472.6 426.3,472.6 426.8,472.6 427.3,472.6 427.8,472.6 428.3,472.6 428.3,472.6" fill="url(#hat)"/>
<polygon points="372.3,472.54 372.8,472.49 373.3,472.4 373.8,472.25 374.3,471.99 374.8,471.57 375.3,470.9 375.8,469.85 376.3,468.26 376.8,465.94 377.3,462.65 377.8,458.21 378.3,452.48 378.8,445.57 379.3,437.98 379.8,431 380.1,428.5 380.3,429.91 380.8,436.48 381.3,444.08 381.8,451.18 382.3,457.16 382.8,461.86 383.3,465.36 383.8,467.86 384.3,469.58 384.8,470.72 385.3,471.46 385.8,471.92 386.3,472.21 386.8,472.37 387.3,472.47 387.8,472.53" fill="#f01d10"/>
<polygon points="403.3,472.55 403.8,472.52 404.3,472.48 404.8,472.42 405.3,472.34 405.8,472.22 406.3,472.08 406.8,471.89 407.3,471.65 407.8,471.36 408.3,471.01 408.8,470.61 409.3,470.16 409.8,469.67 410.3,469.16 410.8,468.65 411.3,468.16 411.8,467.71 412.3,467.33 412.8,467.04 413.3,466.86 413.8,466.8 414.3,466.86 414.8,467.04 415.3,467.33 415.8,467.71 416.3,468.16 416.8,468.65 417.3,469.16 417.8,469.67 418.3,470.16 418.8,470.61 419.3,471.01 419.8,471.36 420.3,471.65 420.8,471.89 421.3,472.08 421.8,472.22 422.3,472.34 422.8,472.42 423.3,472.48 423.8,472.52 424.3,472.55" fill="#a8e4a0"/>
<polygon points="403.8,472.53 404.3,472.49 404.8,472.44 405.3,472.37 405.8,472.27 406.3,472.15 406.8,472 407.3,471.83 407.8,471.63 408.3,471.42 408.8,471.21 409.3,471 409.8,470.83 410.3,470.69 410.8,470.6 411.3,470.57 411.8,470.6 412.3,470.69 412.8,470.83 413.3,471 413.8,471.21 414.3,471.42 414.8,471.63 415.3,471.83 415.8,472 416.3,472.15 416.8,472.27 417.3,472.37 417.8,472.44 418.3,472.49 418.8,472.53" fill="#f01d10"/>
<polyline points="345.8,472.35 346.3,472.35 346.8,472.35 347.3,472.35 347.8,472.35 348.3,472.35 348.8,472.35 349.3,472.35 349.8,472.35 350.3,472.35 350.8,472.35 351.3,472.35 351.8,472.35 352.3,472.35 352.8,472.35 353.3,472.35 353.8,472.35 354.3,472.35 354.8,472.35 355.3,472.35 355.8,472.35 356.3,472.35 356.8,472.35 357.3,472.35 357.8,472.35 358.3,472.35 358.8,472.35 359.3,472.35 359.8,472.35 360.3,472.35 360.8,472.35 361.3,472.35 361.8,472.35 362.3,472.35 362.8,472.35 363.3,472.35 363.8,472.35 364.3,472.35 364.8,472.35 365.3,472.35 365.8,472.35 366.3,472.35 366.8,472.35 367.3,472.35 367.8,472.34 368.3,472.34 368.8,472.33 369.3,472.31 369.8,472.29 370.3,472.26 370.8,472.2 371.3,472.12 371.8,472 372.3,471.82 372.8,471.55 373.3,471.15 373.8,470.59 374.3,469.8 374.8,468.71 375.3,467.22 375.8,465.24 376.3,462.67 376.8,459.38 377.3,455.32 377.8,450.45 378.3,444.85 378.8,438.73 379.3,432.57 379.8,427.28 380.1,425.45 380.3,426.47 380.8,431.4 381.3,437.49 381.8,443.66 382.3,449.39 382.8,454.41 383.3,458.63 383.8,462.07 384.3,464.78 384.8,466.87 385.3,468.45 385.8,469.61 386.3,470.45 386.8,471.06 387.3,471.4 387.8,471.38 388.3,471.37 388.8,471.36 389.3,471.35 389.8,471.35 390.3,471.35 390.8,471.35 391.3,471.35 391.8,471.35 392.3,471.35 392.8,471.35 393.3,471.35 393.8,471.35 394.3,471.35 394.8,471.35 395.3,471.35 395.8,471.35 396.3,471.35 396.8,471.35 397.3,471.35 397.8,471.35 398.3,471.35 398.8,471.35 399.3,471.35 399.8,471.35 400.3,471.35 400.8,471.35 401.3,471.35 401.8,471.36 402.3,471.36 402.8,471.36 403.3,471.37 403.8,471.38 404.3,471.39 404.8,471.41 405.3,471.45 405.8,471.49 406.3,471.38 406.8,471.16 407.3,470.9 407.8,470.59 408.3,470.23 408.8,469.81 409.3,469.34 409.8,468.84 410.3,468.32 410.8,467.8 411.3,467.3 411.8,466.85 412.3,466.47 412.8,466.19 413.3,466.01 413.8,465.95 414.3,466.01 414.8,466.19 415.3,466.48 415.8,466.86 416.3,467.32 416.8,467.83 417.3,468.36 417.8,468.9 418.3,469.42 418.8,469.91 419.3,470.36 419.8,470.75 420.3,471.1 420.8,471.38 421.3,471.62 421.8,471.81 422.3,471.96 422.8,472.07 423.3,472.15 423.8,472.21 424.3,472.26 424.8,472.29 425.3,472.31 425.8,472.33 426.3,472.33 426.8,472.34 427.3,472.34 427.8,472.35 428.3,472.35" fill="none" stroke="#222" stroke-width="0.7"/>
<line x1="344.8" y1="419" x2="344.8" y2="472.6" stroke="#888" stroke-width="0.8"/>
<line x1="344.8" y1="472.6" x2="428.8" y2="472.6" stroke="#555" stroke-width="0.8"/>
<line x1="343.2" y1="419" x2="344.8" y2="419" stroke="#888" stroke-width="0.55"/>
<line x1="343.2" y1="421.7" x2="344.8" y2="421.7" stroke="#888" stroke-width="0.55"/>
<line x1="343.2" y1="424.4" x2="344.8" y2="424.4" stroke="#888" stroke-width="0.55"/>
<line x1="343.2" y1="427.1" x2="344.8" y2="427.1" stroke="#888" stroke-width="0.55"/>
<line x1="343.2" y1="429.8" x2="344.8" y2="429.8" stroke="#888" stroke-width="0.55"/>
<line x1="343.2" y1="432.5" x2="344.8" y2="432.5" stroke="#888" stroke-width="0.55"/>
<line x1="343.2" y1="435.2" x2="344.8" y2="435.2" stroke="#888" stroke-width="0.55"/>
<line x1="343.2" y1="437.9" x2="344.8" y2="437.9" stroke="#888" stroke-width="0.55"/>
<line x1="343.2" y1="440.6" x2="344.8" y2="440.6" stroke="#888" stroke-width="0.55"/>
<line x1="343.2" y1="443.3" x2="344.8" y2="443.3" stroke="#888" stroke-width="0.55"/>
<line x1="343.2" y1="446" x2="344.8" y2="446" stroke="#888" stroke-width="0.55"/>
<line x1="343.2" y1="448.7" x2="344.8" y2="448.7" stroke="#888" stroke-width="0.55"/>
<line x1="343.2" y1="451.4" x2="344.8" y2="451.4" stroke="#888" stroke-width="0.55"/>
<line x1="343.2" y1="454.1" x2="344.8" y2="454.1" stroke="#888" stroke-width="0.55"/>
<line x1="343.2" y1="456.8" x2="344.8" y2="456.8" stroke="#888" stroke-width="0.55"/>
<line x1="343.2" y1="459.5" x2="344.8" y2="459.5" stroke="#888" stroke-width="0.55"/>
<line x1="343.2" y1="462.2" x2="344.8" y2="462.2" stroke="#888" stroke-width="0.55"/>
<line x1="343.2" y1="464.9" x2="344.8" y2="464.9" stroke="#888" stroke-width="0.55"/>
<line x1="343.2" y1="467.6" x2="344.8" y2="467.6" stroke="#888" stroke-width="0.55"/>
<line x1="343.2" y1="470.3" x2="344.8" y2="470.3" stroke="#888" stroke-width="0.55"/>
<line x1="344.8" y1="472.6" x2="344.8" y2="474.2" stroke="#555" stroke-width="0.5"/>
<line x1="347.45" y1="472.6" x2="347.45" y2="473.5" stroke="#555" stroke-width="0.5"/>
<line x1="350.1" y1="472.6" x2="350.1" y2="473.5" stroke="#555" stroke-width="0.5"/>
<line x1="352.75" y1="472.6" x2="352.75" y2="473.5" stroke="#555" stroke-width="0.5"/>
<line x1="355.4" y1="472.6" x2="355.4" y2="474.2" stroke="#555" stroke-width="0.5"/>
<line x1="358.05" y1="472.6" x2="358.05" y2="473.5" stroke="#555" stroke-width="0.5"/>
<line x1="360.7" y1="472.6" x2="360.7" y2="473.5" stroke="#555" stroke-width="0.5"/>
<line x1="363.35" y1="472.6" x2="363.35" y2="473.5" stroke="#555" stroke-width="0.5"/>
<line x1="366" y1="472.6" x2="366" y2="474.2" stroke="#555" stroke-width="0.5"/>
<line x1="368.65" y1="472.6" x2="368.65" y2="473.5" stroke="#555" stroke-width="0.5"/>
<line x1="371.3" y1="472.6" x2="371.3" y2="473.5" stroke="#555" stroke-width="0.5"/>
<line x1="373.95" y1="472.6" x2="373.95" y2="473.5" stroke="#555" stroke-width="0.5"/>
<line x1="376.6" y1="472.6" x2="376.6" y2="474.2" stroke="#555" stroke-width="0.5"/>
<line x1="379.25" y1="472.6" x2="379.25" y2="473.5" stroke="#555" stroke-width="0.5"/>
<line x1="381.9" y1="472.6" x2="381.9" y2="473.5" stroke="#555" stroke-width="0.5"/>
<line x1="384.55" y1="472.6" x2="384.55" y2="473.5" stroke="#555" stroke-width="0.5"/>
<line x1="387.2" y1="472.6" x2="387.2" y2="474.2" stroke="#555" stroke-width="0.5"/>
<line x1="389.85" y1="472.6" x2="389.85" y2="473.5" stroke="#555" stroke-width="0.5"/>
<line x1="392.5" y1="472.6" x2="392.5" y2="473.5" stroke="#555" stroke-width="0.5"/>
<line x1="395.15" y1="472.6" x2="395.15" y2="473.5" stroke="#555" stroke-width="0.5"/>
<line x1="397.8" y1="472.6" x2="397.8" y2="474.2" stroke="#555" stroke-width="0.5"/>
<line x1="400.45" y1="472.6" x2="400.45" y2="473.5" stroke="#555" stroke-width="0.5"/>
<line x1="403.1" y1="472.6" x2="403.1" y2="473.5" stroke="#555" stroke-width="0.5"/>
<line x1="405.75" y1="472.6" x2="405.75" y2="473.5" stroke="#555" stroke-width="0.5"/>
<line x1="408.4" y1="472.6" x2="408.4" y2="474.2" stroke="#555" stroke-width="0.5"/>
<line x1="411.05" y1="472.6" x2="411.05" y2="473.5" stroke="#555" stroke-width="0.5"/>
<line x1="413.7" y1="472.6" x2="413.7" y2="473.5" stroke="#555" stroke-width="0.5"/>
<line x1="416.35" y1="472.6" x2="416.35" y2="473.5" stroke="#555" stroke-width="0.5"/>
<line x1="419" y1="472.6" x2="419" y2="474.2" stroke="#555" stroke-width="0.5"/>
<line x1="421.65" y1="472.6" x2="421.65" y2="473.5" stroke="#555" stroke-width="0.5"/>
<line x1="424.3" y1="472.6" x2="424.3" y2="473.5" stroke="#555" stroke-width="0.5"/>
<line x1="426.95" y1="472.6" x2="426.95" y2="473.5" stroke="#555" stroke-width="0.5"/>
<path d="M380.1 472.9l1.4 2.3h-2.8z" fill="#111"/>
<path d="M413.8 472.9l1.4 2.3h-2.8z" fill="#111"/>
<text x="386.2" y="442.1" font-size="10.4" fill="#1a1a1a" textLength="30.6" lengthAdjust="spacingAndGlyphs" stroke="#1a1a1a" stroke-width="0.25">G0/G1</text>
<text x="386.2" y="454.9" font-size="10.4" fill="#1a1a1a" textLength="30.6" lengthAdjust="spacingAndGlyphs" stroke="#1a1a1a" stroke-width="0.25">80.8%</text>
<polygon points="254.5,543.9 254.5,543.9 255,543.9 255.5,543.9 256,543.9 256.5,543.9 257,543.9 257.5,543.9 258,543.9 258.5,543.9 259,543.9 259.5,543.9 260,543.9 260.5,543.9 261,543.9 261.5,543.9 262,543.9 262.5,543.9 263,543.9 263.5,543.9 264,543.9 264.5,543.9 265,543.9 265.5,543.9 266,543.9 266.5,543.9 267,543.9 267.5,543.9 268,543.9 268.5,543.9 269,543.9 269.5,543.9 270,543.9 270.5,543.9 271,543.9 271.5,543.9 272,543.9 272.5,543.9 273,543.9 273.5,543.9 274,543.9 274.5,543.9 275,543.9 275.5,543.9 276,543.9 276.5,543.9 277,543.9 277.5,543.9 278,543.9 278.5,543.9 279,543.9 279.5,543.9 280,543.9 280.5,543.9 281,543.9 281.5,543.9 282,543.9 282.5,543.9 283,543.9 283.5,543.9 284,543.9 284.5,543.9 285,543.9 285.5,543.9 286,543.9 286.5,543.9 287,543.9 287.5,543.9 288,543.9 288.5,543.9 289,543.9 289.5,543.9 290,543.89 290.4,543.89 290.5,543.88 291,543.87 291.5,543.84 292,543.8 292.5,543.71 293,543.56 293.5,543.3 294,542.9 294.5,542.33 295,541.65 295.5,540.97 296,540.4 296.5,540 297,539.74 297.5,539.59 298,539.5 298.5,539.46 299,539.43 299.5,539.42 300,539.41 300.5,539.4 301,539.4 301.5,539.4 302,539.4 302.5,539.4 303,539.4 303.5,539.4 304,539.4 304.5,539.4 305,539.4 305.5,539.4 306,539.4 306.5,539.4 307,539.4 307.5,539.4 308,539.4 308.5,539.4 309,539.4 309.5,539.4 310,539.4 310.5,539.4 311,539.4 311.5,539.4 312,539.4 312.5,539.4 313,539.41 313.5,539.41 314,539.41 314.5,539.42 315,539.43 315.5,539.45 316,539.47 316.5,539.5 317,539.56 317.5,539.63 318,539.74 318.5,539.9 319,540.11 319.5,540.4 320,540.76 320.5,541.19 321,541.65 321.5,542.11 322,542.54 322.5,542.9 323,543.19 323.5,543.4 324,543.56 324.5,543.67 325,543.74 325.4,543.79 325.5,543.8 326,543.83 326.5,543.85 327,543.87 327.5,543.88 328,543.89 328.5,543.89 329,543.89 329.5,543.9 330,543.9 330.5,543.9 331,543.9 331.5,543.9 332,543.9 332.5,543.9 333,543.9 333.5,543.9 334,543.9 334.5,543.9 335,543.9 335.5,543.9 335.5,543.9" fill="url(#hat)"/>
<polygon points="283.5,543.84 284,543.78 284.5,543.66 285,543.45 285.5,543.05 286,542.36 286.5,541.19 287,539.26 287.5,536.24 288,531.71 288.5,525.31 289,516.86 289.5,506.72 290,496.39 290.4,490.9 290.5,491.67 291,500.37 291.5,510.92 292,520.48 292.5,528.12 293,533.73 293.5,537.6 294,540.14 294.5,541.73 295,542.69 295.5,543.24 296,543.55 296.5,543.72 297,543.81" fill="#f01d10"/>
<polygon points="316,543.83 316.5,543.79 317,543.72 317.5,543.62 318,543.48 318.5,543.28 319,543.02 319.5,542.67 320,542.23 320.5,541.69 321,541.06 321.5,540.34 322,539.57 322.5,538.76 323,537.97 323.5,537.24 324,536.61 324.5,536.15 325,535.87 325.4,535.8 325.5,535.8 326,535.96 326.5,536.31 327,536.85 327.5,537.52 328,538.28 328.5,539.08 329,539.88 329.5,540.64 330,541.32 330.5,541.92 331,542.42 331.5,542.82 332,543.13 332.5,543.37 333,543.54 333.5,543.67 334,543.75 334.5,543.81 335,543.84" fill="#f01d10"/>
<polyline points="254.5,543.65 255,543.65 255.5,543.65 256,543.65 256.5,543.65 257,543.65 257.5,543.65 258,543.65 258.5,543.65 259,543.65 259.5,543.65 260,543.65 260.5,543.65 261,543.65 261.5,543.65 262,543.65 262.5,543.65 263,543.65 263.5,543.65 264,543.65 264.5,543.65 265,543.65 265.5,543.65 266,543.65 266.5,543.65 267,543.65 267.5,543.65 268,543.65 268.5,543.65 269,543.65 269.5,543.65 270,543.65 270.5,543.65 271,543.65 271.5,543.65 272,543.65 272.5,543.65 273,543.65 273.5,543.65 274,543.65 274.5,543.65 275,543.65 275.5,543.65 276,543.65 276.5,543.65 277,543.65 277.5,543.65 278,543.65 278.5,543.65 279,543.65 279.5,543.65 280,543.65 280.5,543.65 281,543.65 281.5,543.64 282,543.64 282.5,543.63 283,543.61 283.5,543.56 284,543.48 284.5,543.32 285,543.05 285.5,542.57 286,541.75 286.5,540.41 287,538.28 287.5,535.05 288,530.34 288.5,523.86 289,515.49 289.5,505.67 290,495.83 290.4,490.65 290.5,491.38 291,499.61 291.5,509.72 292,519.05 292.5,526.68 293,532.42 293.5,536.5 294,539.25 294.5,541.02 295,541.4 295.5,540.72 296,540.15 296.5,539.75 297,539.49 297.5,539.34 298,539.25 298.5,539.21 299,539.18 299.5,539.17 300,539.16 300.5,539.15 301,539.15 301.5,539.15 302,539.15 302.5,539.15 303,539.15 303.5,539.15 304,539.15 304.5,539.15 305,539.15 305.5,539.15 306,539.15 306.5,539.15 307,539.15 307.5,539.15 308,539.15 308.5,539.15 309,539.15 309.5,539.15 310,539.15 310.5,539.15 311,539.15 311.5,539.15 312,539.15 312.5,539.15 313,539.16 313.5,539.16 314,539.16 314.5,539.17 315,539.18 315.5,539.2 316,539.22 316.5,539.25 317,539.31 317.5,539.38 318,539.49 318.5,539.65 319,539.86 319.5,540.15 320,539.8 320.5,539.09 321,538.27 321.5,537.36 322,536.36 322.5,535.32 323,534.3 323.5,533.36 324,532.55 324.5,531.95 325,531.6 325.4,531.52 325.5,531.52 326,531.74 326.5,532.23 327,532.96 327.5,533.89 328,534.95 328.5,536.08 329,537.22 329.5,538.32 330,539.34 330.5,540.25 331,541.03 331.5,541.68 332,542.21 332.5,542.62 333,542.93 333.5,543.16 334,543.32 334.5,543.44 335,543.52 335.5,543.57" fill="none" stroke="#222" stroke-width="0.7"/>
<line x1="253.5" y1="489" x2="253.5" y2="543.9" stroke="#888" stroke-width="0.8"/>
<line x1="253.5" y1="543.9" x2="335.9" y2="543.9" stroke="#555" stroke-width="0.8"/>
<line x1="251.9" y1="489" x2="253.5" y2="489" stroke="#888" stroke-width="0.55"/>
<line x1="251.9" y1="491.7" x2="253.5" y2="491.7" stroke="#888" stroke-width="0.55"/>
<line x1="251.9" y1="494.4" x2="253.5" y2="494.4" stroke="#888" stroke-width="0.55"/>
<line x1="251.9" y1="497.1" x2="253.5" y2="497.1" stroke="#888" stroke-width="0.55"/>
<line x1="251.9" y1="499.8" x2="253.5" y2="499.8" stroke="#888" stroke-width="0.55"/>
<line x1="251.9" y1="502.5" x2="253.5" y2="502.5" stroke="#888" stroke-width="0.55"/>
<line x1="251.9" y1="505.2" x2="253.5" y2="505.2" stroke="#888" stroke-width="0.55"/>
<line x1="251.9" y1="507.9" x2="253.5" y2="507.9" stroke="#888" stroke-width="0.55"/>
<line x1="251.9" y1="510.6" x2="253.5" y2="510.6" stroke="#888" stroke-width="0.55"/>
<line x1="251.9" y1="513.3" x2="253.5" y2="513.3" stroke="#888" stroke-width="0.55"/>
<line x1="251.9" y1="516" x2="253.5" y2="516" stroke="#888" stroke-width="0.55"/>
<line x1="251.9" y1="518.7" x2="253.5" y2="518.7" stroke="#888" stroke-width="0.55"/>
<line x1="251.9" y1="521.4" x2="253.5" y2="521.4" stroke="#888" stroke-width="0.55"/>
<line x1="251.9" y1="524.1" x2="253.5" y2="524.1" stroke="#888" stroke-width="0.55"/>
<line x1="251.9" y1="526.8" x2="253.5" y2="526.8" stroke="#888" stroke-width="0.55"/>
<line x1="251.9" y1="529.5" x2="253.5" y2="529.5" stroke="#888" stroke-width="0.55"/>
<line x1="251.9" y1="532.2" x2="253.5" y2="532.2" stroke="#888" stroke-width="0.55"/>
<line x1="251.9" y1="534.9" x2="253.5" y2="534.9" stroke="#888" stroke-width="0.55"/>
<line x1="251.9" y1="537.6" x2="253.5" y2="537.6" stroke="#888" stroke-width="0.55"/>
<line x1="251.9" y1="540.3" x2="253.5" y2="540.3" stroke="#888" stroke-width="0.55"/>
<line x1="253.5" y1="543.9" x2="253.5" y2="545.5" stroke="#555" stroke-width="0.5"/>
<line x1="256.15" y1="543.9" x2="256.15" y2="544.8" stroke="#555" stroke-width="0.5"/>
<line x1="258.8" y1="543.9" x2="258.8" y2="544.8" stroke="#555" stroke-width="0.5"/>
<line x1="261.45" y1="543.9" x2="261.45" y2="544.8" stroke="#555" stroke-width="0.5"/>
<line x1="264.1" y1="543.9" x2="264.1" y2="545.5" stroke="#555" stroke-width="0.5"/>
<line x1="266.75" y1="543.9" x2="266.75" y2="544.8" stroke="#555" stroke-width="0.5"/>
<line x1="269.4" y1="543.9" x2="269.4" y2="544.8" stroke="#555" stroke-width="0.5"/>
<line x1="272.05" y1="543.9" x2="272.05" y2="544.8" stroke="#555" stroke-width="0.5"/>
<line x1="274.7" y1="543.9" x2="274.7" y2="545.5" stroke="#555" stroke-width="0.5"/>
<line x1="277.35" y1="543.9" x2="277.35" y2="544.8" stroke="#555" stroke-width="0.5"/>
<line x1="280" y1="543.9" x2="280" y2="544.8" stroke="#555" stroke-width="0.5"/>
<line x1="282.65" y1="543.9" x2="282.65" y2="544.8" stroke="#555" stroke-width="0.5"/>
<line x1="285.3" y1="543.9" x2="285.3" y2="545.5" stroke="#555" stroke-width="0.5"/>
<line x1="287.95" y1="543.9" x2="287.95" y2="544.8" stroke="#555" stroke-width="0.5"/>
<line x1="290.6" y1="543.9" x2="290.6" y2="544.8" stroke="#555" stroke-width="0.5"/>
<line x1="293.25" y1="543.9" x2="293.25" y2="544.8" stroke="#555" stroke-width="0.5"/>
<line x1="295.9" y1="543.9" x2="295.9" y2="545.5" stroke="#555" stroke-width="0.5"/>
<line x1="298.55" y1="543.9" x2="298.55" y2="544.8" stroke="#555" stroke-width="0.5"/>
<line x1="301.2" y1="543.9" x2="301.2" y2="544.8" stroke="#555" stroke-width="0.5"/>
<line x1="303.85" y1="543.9" x2="303.85" y2="544.8" stroke="#555" stroke-width="0.5"/>
<line x1="306.5" y1="543.9" x2="306.5" y2="545.5" stroke="#555" stroke-width="0.5"/>
<line x1="309.15" y1="543.9" x2="309.15" y2="544.8" stroke="#555" stroke-width="0.5"/>
<line x1="311.8" y1="543.9" x2="311.8" y2="544.8" stroke="#555" stroke-width="0.5"/>
<line x1="314.45" y1="543.9" x2="314.45" y2="544.8" stroke="#555" stroke-width="0.5"/>
<line x1="317.1" y1="543.9" x2="317.1" y2="545.5" stroke="#555" stroke-width="0.5"/>
<line x1="319.75" y1="543.9" x2="319.75" y2="544.8" stroke="#555" stroke-width="0.5"/>
<line x1="322.4" y1="543.9" x2="322.4" y2="544.8" stroke="#555" stroke-width="0.5"/>
<line x1="325.05" y1="543.9" x2="325.05" y2="544.8" stroke="#555" stroke-width="0.5"/>
<line x1="327.7" y1="543.9" x2="327.7" y2="545.5" stroke="#555" stroke-width="0.5"/>
<line x1="330.35" y1="543.9" x2="330.35" y2="544.8" stroke="#555" stroke-width="0.5"/>
<line x1="333" y1="543.9" x2="333" y2="544.8" stroke="#555" stroke-width="0.5"/>
<line x1="335.65" y1="543.9" x2="335.65" y2="544.8" stroke="#555" stroke-width="0.5"/>
<path d="M290.4 544.2l1.4 2.3h-2.8z" fill="#111"/>
<path d="M325.4 544.2l1.4 2.3h-2.8z" fill="#111"/>
<text x="295.2" y="505" font-size="10.4" fill="#1a1a1a" textLength="30.6" lengthAdjust="spacingAndGlyphs" stroke="#1a1a1a" stroke-width="0.25">G0/G1</text>
<text x="295.2" y="517.8" font-size="10.4" fill="#1a1a1a" textLength="30.6" lengthAdjust="spacingAndGlyphs" stroke="#1a1a1a" stroke-width="0.25">48.2%</text>
<polygon points="344.2,544.2 344.2,544.2 344.7,544.2 345.2,544.2 345.7,544.2 346.2,544.2 346.7,544.2 347.2,544.2 347.7,544.2 348.2,544.2 348.7,544.2 349.2,544.2 349.7,544.2 350.2,544.2 350.7,544.2 351.2,544.2 351.7,544.2 352.2,544.2 352.7,544.2 353.2,544.2 353.7,544.2 354.2,544.2 354.7,544.2 355.2,544.2 355.7,544.2 356.2,544.2 356.7,544.2 357.2,544.2 357.7,544.2 358.2,544.2 358.7,544.2 359.2,544.2 359.7,544.2 360.2,544.2 360.7,544.2 361.2,544.2 361.7,544.2 362.2,544.2 362.7,544.2 363.2,544.2 363.7,544.2 364.2,544.2 364.7,544.2 365.2,544.2 365.7,544.2 366.2,544.2 366.7,544.2 367.2,544.2 367.7,544.2 368.2,544.2 368.7,544.2 369.2,544.2 369.7,544.2 370.2,544.2 370.7,544.2 371.2,544.2 371.7,544.2 372.2,544.2 372.7,544.2 373.2,544.2 373.7,544.2 374.2,544.2 374.7,544.2 375.2,544.2 375.7,544.2 376.2,544.2 376.7,544.2 377.2,544.2 377.7,544.2 378.2,544.2 378.7,544.2 379.2,544.2 379.7,544.2 380.2,544.2 380.7,544.2 381.2,544.19 381.4,544.19 381.7,544.18 382.2,544.17 382.7,544.14 383.2,544.1 383.7,544.01 384.2,543.87 384.7,543.62 385.2,543.26 385.7,542.77 386.2,542.23 386.7,541.73 387.2,541.34 387.7,541.07 388.2,540.91 388.7,540.82 389.2,540.76 389.7,540.73 390.2,540.72 390.7,540.71 391.2,540.71 391.7,540.7 392.2,540.7 392.7,540.7 393.2,540.7 393.7,540.7 394.2,540.7 394.7,540.7 395.2,540.7 395.7,540.7 396.2,540.7 396.7,540.7 397.2,540.7 397.7,540.7 398.2,540.7 398.7,540.7 399.2,540.7 399.7,540.7 400.2,540.71 400.7,540.71 401.2,540.71 401.7,540.72 402.2,540.73 402.7,540.74 403.2,540.76 403.7,540.79 404.2,540.84 404.7,540.91 405.2,541.01 405.7,541.15 406.2,541.34 406.7,541.59 407.2,541.89 407.7,542.23 408.2,542.6 408.7,542.95 409.2,543.26 409.7,543.52 410.2,543.72 410.7,543.87 411.2,543.97 411.7,544.05 412.2,544.1 412.7,544.13 413.2,544.15 413.7,544.17 414.2,544.18 414.7,544.19 415.2,544.19 415.7,544.19 416.2,544.2 416.7,544.2 417.2,544.2 417.7,544.2 418.2,544.2 418.7,544.2 419.2,544.2 419.7,544.2 420.2,544.2 420.7,544.2 421.2,544.2 421.7,544.2 422.2,544.2 422.7,544.2 423.2,544.2 423.7,544.2 424.2,544.2 424.7,544.2 425.2,544.2 425.7,544.2 426.2,544.2 426.7,544.2 427.2,544.2 427.7,544.2 428.2,544.2 428.2,544.2" fill="url(#hat)"/>
<polygon points="374.7,544.12 375.2,544.04 375.7,543.89 376.2,543.61 376.7,543.12 377.2,542.25 377.7,540.81 378.2,538.47 378.7,534.88 379.2,529.61 379.7,522.35 380.2,513.08 380.7,502.53 381.2,492.99 381.4,490.9 381.7,494.61 382.2,504.67 382.7,515.07 383.2,523.97 383.7,530.82 384.2,535.72 384.7,539.03 385.2,541.15 385.7,542.46 386.2,543.24 386.7,543.68 387.2,543.93 387.7,544.06 388.2,544.13" fill="#f01d10"/>
<polygon points="407.7,544.14 408.2,544.1 408.7,544.04 409.2,543.95 409.7,543.83 410.2,543.67 410.7,543.46 411.2,543.19 411.7,542.86 412.2,542.46 412.7,542.01 413.2,541.52 413.7,541 414.2,540.49 414.7,540.01 415.2,539.6 415.7,539.27 416.2,539.07 416.7,539 417.2,539.07 417.7,539.27 418.2,539.6 418.7,540.01 419.2,540.49 419.7,541 420.2,541.52 420.7,542.01 421.2,542.46 421.7,542.86 422.2,543.19 422.7,543.46 423.2,543.67 423.7,543.83 424.2,543.95 424.7,544.04 425.2,544.1 425.7,544.14" fill="#f01d10"/>
<polyline points="344.2,543.95 344.7,543.95 345.2,543.95 345.7,543.95 346.2,543.95 346.7,543.95 347.2,543.95 347.7,543.95 348.2,543.95 348.7,543.95 349.2,543.95 349.7,543.95 350.2,543.95 350.7,543.95 351.2,543.95 351.7,543.95 352.2,543.95 352.7,543.95 353.2,543.95 353.7,543.95 354.2,543.95 354.7,543.95 355.2,543.95 355.7,543.95 356.2,543.95 356.7,543.95 357.2,543.95 357.7,543.95 358.2,543.95 358.7,543.95 359.2,543.95 359.7,543.95 360.2,543.95 360.7,543.95 361.2,543.95 361.7,543.95 362.2,543.95 362.7,543.95 363.2,543.95 363.7,543.95 364.2,543.95 364.7,543.95 365.2,543.95 365.7,543.95 366.2,543.95 366.7,543.95 367.2,543.95 367.7,543.95 368.2,543.95 368.7,543.95 369.2,543.95 369.7,543.95 370.2,543.95 370.7,543.95 371.2,543.95 371.7,543.95 372.2,543.95 372.7,543.94 373.2,543.94 373.7,543.92 374.2,543.89 374.7,543.83 375.2,543.73 375.7,543.53 376.2,543.18 376.7,542.58 377.2,541.58 377.7,539.95 378.2,537.41 378.7,533.6 379.2,528.19 379.7,520.9 380.2,511.81 380.7,501.67 381.2,492.62 381.4,490.65 381.7,494.14 382.2,503.71 382.7,513.75 383.2,522.51 383.7,529.41 384.2,534.48 384.7,538 385.2,540.34 385.7,541.82 386.2,541.98 386.7,541.48 387.2,541.09 387.7,540.82 388.2,540.66 388.7,540.57 389.2,540.51 389.7,540.48 390.2,540.47 390.7,540.46 391.2,540.46 391.7,540.45 392.2,540.45 392.7,540.45 393.2,540.45 393.7,540.45 394.2,540.45 394.7,540.45 395.2,540.45 395.7,540.45 396.2,540.45 396.7,540.45 397.2,540.45 397.7,540.45 398.2,540.45 398.7,540.45 399.2,540.45 399.7,540.45 400.2,540.46 400.7,540.46 401.2,540.46 401.7,540.47 402.2,540.48 402.7,540.49 403.2,540.51 403.7,540.54 404.2,540.59 404.7,540.66 405.2,540.76 405.7,540.9 406.2,541.09 406.7,541.34 407.2,541.64 407.7,541.98 408.2,542.35 408.7,542.7 409.2,543.01 409.7,543.05 410.2,542.84 410.7,542.54 411.2,542.15 411.7,541.66 412.2,541.09 412.7,540.45 413.2,539.76 413.7,539.04 414.2,538.34 414.7,537.69 415.2,537.14 415.7,536.71 416.2,536.44 416.7,536.35 417.2,536.44 417.7,536.71 418.2,537.14 418.7,537.7 419.2,538.35 419.7,539.05 420.2,539.77 420.7,540.47 421.2,541.12 421.7,541.71 422.2,542.21 422.7,542.64 423.2,542.98 423.7,543.26 424.2,543.46 424.7,543.62 425.2,543.73 425.7,543.8 426.2,543.86 426.7,543.89 427.2,543.92 427.7,543.93 428.2,543.94" fill="none" stroke="#222" stroke-width="0.7"/>
<line x1="343.2" y1="488.5" x2="343.2" y2="544.2" stroke="#888" stroke-width="0.8"/>
<line x1="343.2" y1="544.2" x2="428.3" y2="544.2" stroke="#555" stroke-width="0.8"/>
<line x1="341.6" y1="488.5" x2="343.2" y2="488.5" stroke="#888" stroke-width="0.55"/>
<line x1="341.6" y1="491.2" x2="343.2" y2="491.2" stroke="#888" stroke-width="0.55"/>
<line x1="341.6" y1="493.9" x2="343.2" y2="493.9" stroke="#888" stroke-width="0.55"/>
<line x1="341.6" y1="496.6" x2="343.2" y2="496.6" stroke="#888" stroke-width="0.55"/>
<line x1="341.6" y1="499.3" x2="343.2" y2="499.3" stroke="#888" stroke-width="0.55"/>
<line x1="341.6" y1="502" x2="343.2" y2="502" stroke="#888" stroke-width="0.55"/>
<line x1="341.6" y1="504.7" x2="343.2" y2="504.7" stroke="#888" stroke-width="0.55"/>
<line x1="341.6" y1="507.4" x2="343.2" y2="507.4" stroke="#888" stroke-width="0.55"/>
<line x1="341.6" y1="510.1" x2="343.2" y2="510.1" stroke="#888" stroke-width="0.55"/>
<line x1="341.6" y1="512.8" x2="343.2" y2="512.8" stroke="#888" stroke-width="0.55"/>
<line x1="341.6" y1="515.5" x2="343.2" y2="515.5" stroke="#888" stroke-width="0.55"/>
<line x1="341.6" y1="518.2" x2="343.2" y2="518.2" stroke="#888" stroke-width="0.55"/>
<line x1="341.6" y1="520.9" x2="343.2" y2="520.9" stroke="#888" stroke-width="0.55"/>
<line x1="341.6" y1="523.6" x2="343.2" y2="523.6" stroke="#888" stroke-width="0.55"/>
<line x1="341.6" y1="526.3" x2="343.2" y2="526.3" stroke="#888" stroke-width="0.55"/>
<line x1="341.6" y1="529" x2="343.2" y2="529" stroke="#888" stroke-width="0.55"/>
<line x1="341.6" y1="531.7" x2="343.2" y2="531.7" stroke="#888" stroke-width="0.55"/>
<line x1="341.6" y1="534.4" x2="343.2" y2="534.4" stroke="#888" stroke-width="0.55"/>
<line x1="341.6" y1="537.1" x2="343.2" y2="537.1" stroke="#888" stroke-width="0.55"/>
<line x1="341.6" y1="539.8" x2="343.2" y2="539.8" stroke="#888" stroke-width="0.55"/>
<line x1="341.6" y1="542.5" x2="343.2" y2="542.5" stroke="#888" stroke-width="0.55"/>
<line x1="343.2" y1="544.2" x2="343.2" y2="545.8" stroke="#555" stroke-width="0.5"/>
<line x1="345.85" y1="544.2" x2="345.85" y2="545.1" stroke="#555" stroke-width="0.5"/>
<line x1="348.5" y1="544.2" x2="348.5" y2="545.1" stroke="#555" stroke-width="0.5"/>
<line x1="351.15" y1="544.2" x2="351.15" y2="545.1" stroke="#555" stroke-width="0.5"/>
<line x1="353.8" y1="544.2" x2="353.8" y2="545.8" stroke="#555" stroke-width="0.5"/>
<line x1="356.45" y1="544.2" x2="356.45" y2="545.1" stroke="#555" stroke-width="0.5"/>
<line x1="359.1" y1="544.2" x2="359.1" y2="545.1" stroke="#555" stroke-width="0.5"/>
<line x1="361.75" y1="544.2" x2="361.75" y2="545.1" stroke="#555" stroke-width="0.5"/>
<line x1="364.4" y1="544.2" x2="364.4" y2="545.8" stroke="#555" stroke-width="0.5"/>
<line x1="367.05" y1="544.2" x2="367.05" y2="545.1" stroke="#555" stroke-width="0.5"/>
<line x1="369.7" y1="544.2" x2="369.7" y2="545.1" stroke="#555" stroke-width="0.5"/>
<line x1="372.35" y1="544.2" x2="372.35" y2="545.1" stroke="#555" stroke-width="0.5"/>
<line x1="375" y1="544.2" x2="375" y2="545.8" stroke="#555" stroke-width="0.5"/>
<line x1="377.65" y1="544.2" x2="377.65" y2="545.1" stroke="#555" stroke-width="0.5"/>
<line x1="380.3" y1="544.2" x2="380.3" y2="545.1" stroke="#555" stroke-width="0.5"/>
<line x1="382.95" y1="544.2" x2="382.95" y2="545.1" stroke="#555" stroke-width="0.5"/>
<line x1="385.6" y1="544.2" x2="385.6" y2="545.8" stroke="#555" stroke-width="0.5"/>
<line x1="388.25" y1="544.2" x2="388.25" y2="545.1" stroke="#555" stroke-width="0.5"/>
<line x1="390.9" y1="544.2" x2="390.9" y2="545.1" stroke="#555" stroke-width="0.5"/>
<line x1="393.55" y1="544.2" x2="393.55" y2="545.1" stroke="#555" stroke-width="0.5"/>
<line x1="396.2" y1="544.2" x2="396.2" y2="545.8" stroke="#555" stroke-width="0.5"/>
<line x1="398.85" y1="544.2" x2="398.85" y2="545.1" stroke="#555" stroke-width="0.5"/>
<line x1="401.5" y1="544.2" x2="401.5" y2="545.1" stroke="#555" stroke-width="0.5"/>
<line x1="404.15" y1="544.2" x2="404.15" y2="545.1" stroke="#555" stroke-width="0.5"/>
<line x1="406.8" y1="544.2" x2="406.8" y2="545.8" stroke="#555" stroke-width="0.5"/>
<line x1="409.45" y1="544.2" x2="409.45" y2="545.1" stroke="#555" stroke-width="0.5"/>
<line x1="412.1" y1="544.2" x2="412.1" y2="545.1" stroke="#555" stroke-width="0.5"/>
<line x1="414.75" y1="544.2" x2="414.75" y2="545.1" stroke="#555" stroke-width="0.5"/>
<line x1="417.4" y1="544.2" x2="417.4" y2="545.8" stroke="#555" stroke-width="0.5"/>
<line x1="420.05" y1="544.2" x2="420.05" y2="545.1" stroke="#555" stroke-width="0.5"/>
<line x1="422.7" y1="544.2" x2="422.7" y2="545.1" stroke="#555" stroke-width="0.5"/>
<line x1="425.35" y1="544.2" x2="425.35" y2="545.1" stroke="#555" stroke-width="0.5"/>
<line x1="428" y1="544.2" x2="428" y2="545.8" stroke="#555" stroke-width="0.5"/>
<path d="M381.4 544.5l1.4 2.3h-2.8z" fill="#111"/>
<path d="M416.7 544.5l1.4 2.3h-2.8z" fill="#111"/>
<text x="387" y="504.5" font-size="10.4" fill="#1a1a1a" textLength="30.6" lengthAdjust="spacingAndGlyphs" stroke="#1a1a1a" stroke-width="0.25">G0/G1</text>
<text x="387" y="517.3" font-size="10.4" fill="#1a1a1a" textLength="30.6" lengthAdjust="spacingAndGlyphs" stroke="#1a1a1a" stroke-width="0.25">63.7%</text>
<rect x="458.3" y="344.4" width="13.6" height="17.04" fill="#a6a6a6" stroke="#222" stroke-width="0.6"/>
<rect x="458.3" y="361.44" width="13.6" height="18.06" fill="#ff1c0c" stroke="#222" stroke-width="0.6"/>
<rect x="458.3" y="379.51" width="13.6" height="18.49" fill="#6aa3dc" stroke="#222" stroke-width="0.6"/>
<rect x="478.6" y="344.4" width="14.2" height="15.81" fill="#a6a6a6" stroke="#222" stroke-width="0.6"/>
<rect x="478.6" y="360.21" width="14.2" height="7.45" fill="#ff1c0c" stroke="#222" stroke-width="0.6"/>
<rect x="478.6" y="367.66" width="14.2" height="30.34" fill="#6aa3dc" stroke="#222" stroke-width="0.6"/>
<path d="M455 399 V345.2 M457.6 398 V345.2 M455 345.2 Q456.3 343.4 457.6 345.2" stroke="#000" stroke-width="1.7" fill="none"/>
<line x1="455" y1="384.6" x2="458.3" y2="384.6" stroke="#000" stroke-width="1.3"/>
<line x1="455" y1="371.2" x2="458.3" y2="371.2" stroke="#000" stroke-width="1.3"/>
<line x1="455" y1="357.8" x2="458.3" y2="357.8" stroke="#000" stroke-width="1.3"/>
<line x1="454.3" y1="399" x2="496.2" y2="399" stroke="#000" stroke-width="2"/>
<line x1="455" y1="399" x2="455" y2="402.2" stroke="#000" stroke-width="1.5"/>
<line x1="475.4" y1="399" x2="475.4" y2="402.2" stroke="#000" stroke-width="1.5"/>
<line x1="495.5" y1="399" x2="495.5" y2="402.2" stroke="#000" stroke-width="1.5"/>
<text x="444.3" y="401.7" font-size="10.5" text-anchor="end" fill="#1a1a1a" textLength="5.26" lengthAdjust="spacingAndGlyphs" stroke="#1a1a1a" stroke-width="0.25">0</text>
<text x="444.3" y="388.3" font-size="10.5" text-anchor="end" fill="#1a1a1a" textLength="10.51" lengthAdjust="spacingAndGlyphs" stroke="#1a1a1a" stroke-width="0.25">25</text>
<text x="444.3" y="374.9" font-size="10.5" text-anchor="end" fill="#1a1a1a" textLength="10.51" lengthAdjust="spacingAndGlyphs" stroke="#1a1a1a" stroke-width="0.25">50</text>
<text x="444.3" y="361.5" font-size="10.5" text-anchor="end" fill="#1a1a1a" textLength="10.51" lengthAdjust="spacingAndGlyphs" stroke="#1a1a1a" stroke-width="0.25">75</text>
<text x="444.3" y="348.1" font-size="10.5" text-anchor="end" fill="#1a1a1a" textLength="15.77" lengthAdjust="spacingAndGlyphs" stroke="#1a1a1a" stroke-width="0.25">100</text>
<rect x="458.3" y="414.3" width="13.6" height="4.32" fill="#a6a6a6" stroke="#222" stroke-width="0.6"/>
<rect x="458.3" y="418.62" width="13.6" height="12.42" fill="#ff1c0c" stroke="#222" stroke-width="0.6"/>
<rect x="458.3" y="431.04" width="13.6" height="37.26" fill="#6aa3dc" stroke="#222" stroke-width="0.6"/>
<rect x="478.6" y="414.3" width="14.2" height="4.32" fill="#a6a6a6" stroke="#222" stroke-width="0.6"/>
<rect x="478.6" y="418.62" width="14.2" height="5.94" fill="#ff1c0c" stroke="#222" stroke-width="0.6"/>
<rect x="478.6" y="424.56" width="14.2" height="43.74" fill="#6aa3dc" stroke="#222" stroke-width="0.6"/>
<path d="M455 469.3 V415.1 M457.6 468.3 V415.1 M455 415.1 Q456.3 413.3 457.6 415.1" stroke="#000" stroke-width="1.7" fill="none"/>
<line x1="455" y1="454.8" x2="458.3" y2="454.8" stroke="#000" stroke-width="1.3"/>
<line x1="455" y1="441.3" x2="458.3" y2="441.3" stroke="#000" stroke-width="1.3"/>
<line x1="455" y1="427.8" x2="458.3" y2="427.8" stroke="#000" stroke-width="1.3"/>
<line x1="454.3" y1="469.3" x2="496.2" y2="469.3" stroke="#000" stroke-width="2"/>
<line x1="455" y1="469.3" x2="455" y2="472.5" stroke="#000" stroke-width="1.5"/>
<line x1="475.4" y1="469.3" x2="475.4" y2="472.5" stroke="#000" stroke-width="1.5"/>
<line x1="495.5" y1="469.3" x2="495.5" y2="472.5" stroke="#000" stroke-width="1.5"/>
<text x="444.3" y="472" font-size="10.5" text-anchor="end" fill="#1a1a1a" textLength="5.26" lengthAdjust="spacingAndGlyphs" stroke="#1a1a1a" stroke-width="0.25">0</text>
<text x="444.3" y="458.5" font-size="10.5" text-anchor="end" fill="#1a1a1a" textLength="10.51" lengthAdjust="spacingAndGlyphs" stroke="#1a1a1a" stroke-width="0.25">25</text>
<text x="444.3" y="445" font-size="10.5" text-anchor="end" fill="#1a1a1a" textLength="10.51" lengthAdjust="spacingAndGlyphs" stroke="#1a1a1a" stroke-width="0.25">50</text>
<text x="444.3" y="431.5" font-size="10.5" text-anchor="end" fill="#1a1a1a" textLength="10.51" lengthAdjust="spacingAndGlyphs" stroke="#1a1a1a" stroke-width="0.25">75</text>
<text x="444.3" y="418" font-size="10.5" text-anchor="end" fill="#1a1a1a" textLength="15.77" lengthAdjust="spacingAndGlyphs" stroke="#1a1a1a" stroke-width="0.25">100</text>
<rect x="458.3" y="482.3" width="13.6" height="8.54" fill="#a6a6a6" stroke="#222" stroke-width="0.6"/>
<rect x="458.3" y="490.84" width="13.6" height="19.22" fill="#ff1c0c" stroke="#222" stroke-width="0.6"/>
<rect x="458.3" y="510.07" width="13.6" height="25.63" fill="#6aa3dc" stroke="#222" stroke-width="0.6"/>
<rect x="478.6" y="482.3" width="14.2" height="6.41" fill="#a6a6a6" stroke="#222" stroke-width="0.6"/>
<rect x="478.6" y="488.71" width="14.2" height="12.82" fill="#ff1c0c" stroke="#222" stroke-width="0.6"/>
<rect x="478.6" y="501.52" width="14.2" height="34.18" fill="#6aa3dc" stroke="#222" stroke-width="0.6"/>
<path d="M455 536.7 V483.1 M457.6 535.7 V483.1 M455 483.1 Q456.3 481.3 457.6 483.1" stroke="#000" stroke-width="1.7" fill="none"/>
<line x1="455" y1="522.35" x2="458.3" y2="522.35" stroke="#000" stroke-width="1.3"/>
<line x1="455" y1="509" x2="458.3" y2="509" stroke="#000" stroke-width="1.3"/>
<line x1="455" y1="495.65" x2="458.3" y2="495.65" stroke="#000" stroke-width="1.3"/>
<line x1="454.3" y1="536.7" x2="496.2" y2="536.7" stroke="#000" stroke-width="2"/>
<line x1="455" y1="536.7" x2="455" y2="539.9" stroke="#000" stroke-width="1.5"/>
<line x1="475.4" y1="536.7" x2="475.4" y2="539.9" stroke="#000" stroke-width="1.5"/>
<line x1="495.5" y1="536.7" x2="495.5" y2="539.9" stroke="#000" stroke-width="1.5"/>
<text x="444.3" y="539.4" font-size="10.5" text-anchor="end" fill="#1a1a1a" textLength="5.26" lengthAdjust="spacingAndGlyphs" stroke="#1a1a1a" stroke-width="0.25">0</text>
<text x="444.3" y="526.05" font-size="10.5" text-anchor="end" fill="#1a1a1a" textLength="10.51" lengthAdjust="spacingAndGlyphs" stroke="#1a1a1a" stroke-width="0.25">25</text>
<text x="444.3" y="512.7" font-size="10.5" text-anchor="end" fill="#1a1a1a" textLength="10.51" lengthAdjust="spacingAndGlyphs" stroke="#1a1a1a" stroke-width="0.25">50</text>
<text x="444.3" y="499.35" font-size="10.5" text-anchor="end" fill="#1a1a1a" textLength="10.51" lengthAdjust="spacingAndGlyphs" stroke="#1a1a1a" stroke-width="0.25">75</text>
<text x="444.3" y="486" font-size="10.5" text-anchor="end" fill="#1a1a1a" textLength="15.77" lengthAdjust="spacingAndGlyphs" stroke="#1a1a1a" stroke-width="0.25">100</text>
<rect x="434.9" y="330.7" width="4.7" height="5.7" fill="#a6a6a6" stroke="#444" stroke-width="0.5"/>
<text x="442.3" y="336.6" font-size="8" fill="#1a1a1a" textLength="17.2" lengthAdjust="spacingAndGlyphs" stroke="#1a1a1a" stroke-width="0.25">G2/M</text>
<rect x="460.6" y="330.7" width="4.7" height="5.7" fill="#ff1c0c"/>
<text x="467.2" y="336.6" font-size="8" fill="#1a1a1a" textLength="4.2" lengthAdjust="spacingAndGlyphs" stroke="#1a1a1a" stroke-width="0.25">S</text>
<rect x="471.1" y="330.7" width="4.7" height="5.7" fill="#6aa3dc" stroke="#444" stroke-width="0.5"/>
<text x="480.8" y="336.6" font-size="8" fill="#1a1a1a" textLength="20.7" lengthAdjust="spacingAndGlyphs" stroke="#1a1a1a" stroke-width="0.25">G0/G1</text>
<text stroke="#1a1a1a" stroke-width="0.25" x="467" y="541" font-size="12" fill="#1a1a1a" text-anchor="end" textLength="51" lengthAdjust="spacingAndGlyphs" transform="rotate(-46 467 541)">shControl</text>
<text stroke="#1a1a1a" stroke-width="0.25" x="493" y="545" font-size="12" fill="#1a1a1a" text-anchor="end" textLength="44.6" lengthAdjust="spacingAndGlyphs" transform="rotate(-46 493 545)">sh<tspan font-style="italic">HER3</tspan></text>
<text x="521.2" y="320.3" font-size="15.5" font-weight="bold" textLength="9.8" lengthAdjust="spacingAndGlyphs">E</text>
<text stroke="#1a1a1a" stroke-width="0.25" x="543.5" y="338.4" font-size="12" fill="#1a1a1a" textLength="52.7" lengthAdjust="spacingAndGlyphs" transform="rotate(-37 543.5 338.4)">HCC1806</text>
<text stroke="#1a1a1a" stroke-width="0.25" x="575.5" y="338.8" font-size="12" fill="#1a1a1a" textLength="46.7" lengthAdjust="spacingAndGlyphs" transform="rotate(-37 575.5 338.8)">MDA231</text>
<text stroke="#1a1a1a" stroke-width="0.25" x="606.5" y="338.4" font-size="12" fill="#1a1a1a" textLength="46.7" lengthAdjust="spacingAndGlyphs" transform="rotate(-37 606.5 338.4)">MDA468</text>
<line x1="530.8" y1="342.5" x2="555.6" y2="342.5" stroke="#1a1a1a" stroke-width="1"/>
<line x1="563.4" y1="342.5" x2="587.9" y2="342.5" stroke="#1a1a1a" stroke-width="1"/>
<line x1="599.5" y1="342.5" x2="624" y2="342.5" stroke="#1a1a1a" stroke-width="1"/>
<line x1="533.9" y1="352.3" x2="537.1" y2="352.3" stroke="#222" stroke-width="1"/>
<line x1="549.7" y1="352.3" x2="555.3" y2="352.3" stroke="#222" stroke-width="1"/>
<line x1="552.5" y1="349.5" x2="552.5" y2="355.1" stroke="#222" stroke-width="1"/>
<line x1="568.4" y1="352.3" x2="571.6" y2="352.3" stroke="#222" stroke-width="1"/>
<line x1="584.7" y1="352.3" x2="590.3" y2="352.3" stroke="#222" stroke-width="1"/>
<line x1="587.5" y1="349.5" x2="587.5" y2="355.1" stroke="#222" stroke-width="1"/>
<line x1="603.1" y1="352.3" x2="606.3" y2="352.3" stroke="#222" stroke-width="1"/>
<line x1="618.9" y1="352.3" x2="624.5" y2="352.3" stroke="#222" stroke-width="1"/>
<line x1="621.7" y1="349.5" x2="621.7" y2="355.1" stroke="#222" stroke-width="1"/>
<text stroke="#1a1a1a" stroke-width="0.25" x="633.2" y="355.6" font-size="12" fill="#1a1a1a" textLength="46.2" lengthAdjust="spacingAndGlyphs">sh<tspan font-style="italic">HER3</tspan></text>
<defs><filter id="bl" x="-20%" y="-50%" width="140%" height="200%"><feGaussianBlur stdDeviation="0.55"/></filter></defs>
<rect x="526.3" y="359.9" width="104.6" height="18.4" fill="#e3e3e3" stroke="#2a2a2a" stroke-width="1"/>
<rect x="530" y="369.9" width="13.3" height="2.2" rx="2.71" ry="1.1" fill="#0a0a0a" opacity="0.9" filter="url(#bl)"/>
<rect x="564.5" y="370.4" width="14" height="1.2" rx="2.86" ry="0.6" fill="#0a0a0a" opacity="0.07" filter="url(#bl)"/>
<rect x="599.5" y="368.7" width="15" height="1.6" rx="3.08" ry="0.8" fill="#0a0a0a" opacity="0.35" filter="url(#bl)"/>
<rect x="526.3" y="380.6" width="104.6" height="17.3" fill="#e3e3e3" stroke="#2a2a2a" stroke-width="1"/>
<rect x="530.9" y="386.7" width="13.3" height="6.2" rx="2.71" ry="3.1" fill="#0a0a0a" opacity="1" filter="url(#bl)"/>
<rect x="564.7" y="388.2" width="12.8" height="3.6" rx="2.6" ry="1.8" fill="#0a0a0a" opacity="0.95" filter="url(#bl)"/>
<rect x="597.8" y="386.6" width="13.8" height="6.4" rx="2.82" ry="3.2" fill="#0a0a0a" opacity="1" filter="url(#bl)"/>
<rect x="615" y="388.6" width="13.2" height="3.2" rx="2.68" ry="1.6" fill="#0a0a0a" opacity="0.9" filter="url(#bl)"/>
<rect x="526.3" y="400.2" width="104.6" height="18.2" fill="#e3e3e3" stroke="#2a2a2a" stroke-width="1"/>
<rect x="527.4" y="411" width="14.1" height="2.6" rx="2.88" ry="1.3" fill="#0a0a0a" opacity="0.95" filter="url(#bl)"/>
<rect x="544.5" y="411.7" width="14" height="1.6" rx="2.86" ry="0.8" fill="#0a0a0a" opacity="0.2" filter="url(#bl)"/>
<rect x="561.5" y="411.1" width="14.2" height="2.4" rx="2.9" ry="1.2" fill="#0a0a0a" opacity="0.75" filter="url(#bl)"/>
<rect x="577.5" y="411.9" width="15" height="1.2" rx="3.08" ry="0.6" fill="#0a0a0a" opacity="0.08" filter="url(#bl)"/>
<rect x="593.1" y="405.6" width="19.4" height="8.8" rx="4.05" ry="4.4" fill="#0a0a0a" opacity="1" filter="url(#bl)"/>
<rect x="610" y="406" width="18.2" height="8.4" rx="3.78" ry="4.2" fill="#0a0a0a" opacity="1" filter="url(#bl)"/>
<rect x="526.3" y="420.1" width="104.6" height="18.6" fill="#e3e3e3" stroke="#2a2a2a" stroke-width="1"/>
<rect x="527" y="427.2" width="14.5" height="2" rx="2.97" ry="1" fill="#0a0a0a" opacity="0.9" filter="url(#bl)"/>
<rect x="543.5" y="427.45" width="15" height="1.9" rx="3.08" ry="0.95" fill="#0a0a0a" opacity="0.85" filter="url(#bl)"/>
<rect x="560.2" y="426.6" width="17" height="3.6" rx="3.52" ry="1.8" fill="#0a0a0a" opacity="0.95" filter="url(#bl)"/>
<rect x="577.5" y="427.1" width="16" height="3" rx="3.3" ry="1.5" fill="#0a0a0a" opacity="0.9" filter="url(#bl)"/>
<rect x="594.5" y="427.1" width="16" height="3" rx="3.3" ry="1.5" fill="#0a0a0a" opacity="0.9" filter="url(#bl)"/>
<rect x="611.5" y="427.1" width="17" height="3" rx="3.52" ry="1.5" fill="#0a0a0a" opacity="0.9" filter="url(#bl)"/>
<rect x="526.3" y="440.3" width="104.6" height="22.1" fill="#e3e3e3" stroke="#2a2a2a" stroke-width="1"/>
<rect x="527" y="449" width="15.5" height="3.2" rx="3.19" ry="1.6" fill="#0a0a0a" opacity="1" filter="url(#bl)"/>
<rect x="544.5" y="449.7" width="14" height="2.2" rx="2.86" ry="1.1" fill="#0a0a0a" opacity="0.9" filter="url(#bl)"/>
<rect x="560" y="446.7" width="17.5" height="7.6" rx="3.63" ry="3.8" fill="#0a0a0a" opacity="1" filter="url(#bl)"/>
<rect x="577.5" y="448.1" width="16" height="5.8" rx="3.3" ry="2.9" fill="#0a0a0a" opacity="1" filter="url(#bl)"/>
<rect x="593.5" y="446.2" width="18" height="8.6" rx="3.74" ry="4.3" fill="#0a0a0a" opacity="1" filter="url(#bl)"/>
<rect x="611" y="446.3" width="17.5" height="8.4" rx="3.63" ry="4.2" fill="#0a0a0a" opacity="1" filter="url(#bl)"/>
<rect x="526.5" y="456.1" width="16" height="2.6" rx="3.3" ry="1.3" fill="#0a0a0a" opacity="0.95" filter="url(#bl)"/>
<rect x="544.5" y="456.9" width="14" height="1.4" rx="2.86" ry="0.7" fill="#0a0a0a" opacity="0.3" filter="url(#bl)"/>
<rect x="560.5" y="457.2" width="16" height="1.2" rx="3.3" ry="0.6" fill="#0a0a0a" opacity="0.1" filter="url(#bl)"/>
<rect x="596.5" y="456.5" width="15" height="2.2" rx="3.08" ry="1.1" fill="#0a0a0a" opacity="0.45" filter="url(#bl)"/>
<rect x="612.5" y="456.6" width="15" height="2" rx="3.08" ry="1" fill="#0a0a0a" opacity="0.4" filter="url(#bl)"/>
<rect x="526.3" y="463.9" width="104.6" height="18.5" fill="#e3e3e3" stroke="#2a2a2a" stroke-width="1"/>
<rect x="528.5" y="471.3" width="13" height="1.4" rx="2.64" ry="0.7" fill="#0a0a0a" opacity="0.1" filter="url(#bl)"/>
<rect x="561.5" y="470.3" width="16" height="3" rx="3.3" ry="1.5" fill="#0a0a0a" opacity="0.95" filter="url(#bl)"/>
<rect x="579.5" y="470.8" width="12" height="2.4" rx="2.42" ry="1.2" fill="#0a0a0a" opacity="0.55" filter="url(#bl)"/>
<rect x="594.5" y="470.1" width="17" height="3.4" rx="3.52" ry="1.7" fill="#0a0a0a" opacity="1" filter="url(#bl)"/>
<rect x="612.5" y="470.1" width="16" height="3" rx="3.3" ry="1.5" fill="#0a0a0a" opacity="0.95" filter="url(#bl)"/>
<rect x="526.3" y="484.1" width="104.6" height="17.5" fill="#e3e3e3" stroke="#2a2a2a" stroke-width="1"/>
<rect x="529.5" y="491.1" width="12" height="1.4" rx="2.42" ry="0.7" fill="#0a0a0a" opacity="0.15" filter="url(#bl)"/>
<rect x="546" y="490.35" width="13.5" height="2.5" rx="2.75" ry="1.25" fill="#0a0a0a" opacity="0.9" filter="url(#bl)"/>
<rect x="561.5" y="490.1" width="16" height="3.4" rx="3.3" ry="1.7" fill="#0a0a0a" opacity="0.95" filter="url(#bl)"/>
<rect x="578.5" y="489.8" width="16" height="4" rx="3.3" ry="2" fill="#0a0a0a" opacity="1" filter="url(#bl)"/>
<rect x="595.5" y="490.1" width="16" height="3" rx="3.3" ry="1.5" fill="#0a0a0a" opacity="0.95" filter="url(#bl)"/>
<rect x="612" y="489" width="17.5" height="4.4" rx="3.63" ry="2.2" fill="#0a0a0a" opacity="1" filter="url(#bl)"/>
<rect x="546.5" y="499.2" width="12" height="1.2" rx="2.42" ry="0.6" fill="#0a0a0a" opacity="0.15" filter="url(#bl)"/>
<rect x="525.9" y="503.6" width="105.4" height="18.7" fill="#e3e3e3" stroke="#2a2a2a" stroke-width="1.5"/>
<rect x="526.3" y="524.6" width="104.6" height="20.1" fill="#e3e3e3" stroke="#2a2a2a" stroke-width="1"/>
<rect x="526.5" y="533.1" width="16" height="2.4" rx="3.3" ry="1.2" fill="#0a0a0a" opacity="0.95" filter="url(#bl)"/>
<rect x="543.5" y="532.9" width="17" height="2.6" rx="3.52" ry="1.3" fill="#0a0a0a" opacity="0.95" filter="url(#bl)"/>
<rect x="561.5" y="533" width="17" height="2.8" rx="3.52" ry="1.4" fill="#0a0a0a" opacity="0.95" filter="url(#bl)"/>
<rect x="579.5" y="532.9" width="16" height="2.6" rx="3.3" ry="1.3" fill="#0a0a0a" opacity="0.95" filter="url(#bl)"/>
<rect x="596.5" y="532.5" width="16" height="2.6" rx="3.3" ry="1.3" fill="#0a0a0a" opacity="0.95" filter="url(#bl)"/>
<rect x="613.5" y="531.8" width="17" height="2.8" rx="3.52" ry="1.4" fill="#0a0a0a" opacity="0.95" filter="url(#bl)"/>
<rect x="526.3" y="378.9" width="104.6" height="1.1" fill="#c8c8c8"/>
<path d="M529 513.6 Q536 511.6 543 513.6" stroke="#0a0a0a" stroke-width="2.6" fill="none" stroke-linecap="round" opacity="0.38" filter="url(#bl)"/>
<path d="M546 513.4 Q553 511.4 560 513.4" stroke="#0a0a0a" stroke-width="2.6" fill="none" stroke-linecap="round" opacity="0.42" filter="url(#bl)"/>
<path d="M600 513.6 Q605.5 512.4 611 513.6" stroke="#0a0a0a" stroke-width="1.4" fill="none" stroke-linecap="round" opacity="0.12" filter="url(#bl)"/>
<path d="M563.5 516.5 Q564.5 509.5 571 509 Q578 508.8 579.5 514.5 L579.5 516.3 Q571 515.5 563.5 516.5Z" fill="#0a0a0a" filter="url(#bl)"/>
<path d="M581.5 515 Q582.5 509.8 589 509.6 Q595.5 509.8 596.5 514 L596.5 515 Q589 514 581.5 515Z" fill="#0a0a0a" opacity="0.95" filter="url(#bl)"/>
<path d="M614 514 Q620 512.5 624 511.2 Q628 510.2 630 511.5" stroke="#0a0a0a" stroke-width="2.6" fill="none" stroke-linecap="round" opacity="0.6" filter="url(#bl)"/>
<rect x="526.3" y="398.2" width="104.6" height="1.8" fill="#8a8a8a"/>
<text x="635.4" y="370.4" font-size="12" fill="#1a1a1a" textLength="42.5" lengthAdjust="spacingAndGlyphs" stroke="#1a1a1a" stroke-width="0.25">p-HER3</text>
<text x="635.4" y="393.6" font-size="12" fill="#1a1a1a" textLength="31.5" lengthAdjust="spacingAndGlyphs" stroke="#1a1a1a" stroke-width="0.25">HER3</text>
<text x="635.4" y="413.6" font-size="12" fill="#1a1a1a" textLength="27.5" lengthAdjust="spacingAndGlyphs" stroke="#1a1a1a" stroke-width="0.25">p-Akt</text>
<text x="635.4" y="434" font-size="12" fill="#1a1a1a" textLength="17.5" lengthAdjust="spacingAndGlyphs" stroke="#1a1a1a" stroke-width="0.25">Akt</text>
<text x="635" y="455.7" font-size="12" fill="#1a1a1a" textLength="27.9" lengthAdjust="spacingAndGlyphs" stroke="#1a1a1a" stroke-width="0.25">E2F1</text>
<text x="634.3" y="476.1" font-size="12" fill="#1a1a1a" textLength="50" lengthAdjust="spacingAndGlyphs" stroke="#1a1a1a" stroke-width="0.25">Cyclin D1</text>
<text stroke="#1a1a1a" stroke-width="0.25" x="636.4" y="495" font-size="12" fill="#1a1a1a">p27<tspan font-size="8" dy="-4.6">Kip1</tspan></text>
<text stroke="#1a1a1a" stroke-width="0.25" x="636" y="514.3" font-size="12" fill="#1a1a1a">p21<tspan font-size="8" dy="-4.6">Waf1</tspan></text>
<text x="635.4" y="536.4" font-size="12" fill="#1a1a1a" textLength="39.6" lengthAdjust="spacingAndGlyphs" stroke="#1a1a1a" stroke-width="0.25">β-actin</text>
<text x="15.3" y="627" font-size="15.5" font-weight="bold" textLength="8.8" lengthAdjust="spacingAndGlyphs">F</text>
<text x="78.3" y="619.8" font-size="12" fill="#1a1a1a" textLength="51.5" lengthAdjust="spacingAndGlyphs" stroke="#1a1a1a" stroke-width="0.25">shControl</text>
<text stroke="#1a1a1a" stroke-width="0.25" x="146.2" y="619.8" font-size="12" fill="#1a1a1a" textLength="44.6" lengthAdjust="spacingAndGlyphs">sh<tspan font-style="italic">HER3</tspan></text>
<rect x="74.2" y="622.9" width="20.87" height="10.69" fill="#f83838"/>
<rect x="95.02" y="622.9" width="20.87" height="10.69" fill="#f08088"/>
<rect x="115.84" y="622.9" width="20.87" height="10.69" fill="#f09098"/>
<rect x="136.66" y="622.9" width="20.87" height="10.69" fill="#a0a8f8"/>
<rect x="157.48" y="622.9" width="20.87" height="10.69" fill="#b8b8f8"/>
<rect x="178.3" y="622.9" width="20.87" height="10.69" fill="#0000f0"/>
<text x="200.2" y="632.3" font-size="10.6" fill="#1a1a1a" textLength="37.85" lengthAdjust="spacingAndGlyphs" stroke="#1a1a1a" stroke-width="0.25">SCMH1</text>
<rect x="74.2" y="633.54" width="20.87" height="10.69" fill="#f07880"/>
<rect x="95.02" y="633.54" width="20.87" height="10.69" fill="#f83838"/>
<rect x="115.84" y="633.54" width="20.87" height="10.69" fill="#f07078"/>
<rect x="136.66" y="633.54" width="20.87" height="10.69" fill="#3820f0"/>
<rect x="157.48" y="633.54" width="20.87" height="10.69" fill="#9090f8"/>
<rect x="178.3" y="633.54" width="20.87" height="10.69" fill="#7070f0"/>
<text x="200.2" y="643.09" font-size="10.6" fill="#1a1a1a" textLength="36.05" lengthAdjust="spacingAndGlyphs" stroke="#1a1a1a" stroke-width="0.25">SUDS3</text>
<rect x="74.2" y="644.18" width="20.87" height="10.69" fill="#f05860"/>
<rect x="95.02" y="644.18" width="20.87" height="10.69" fill="#f05058"/>
<rect x="115.84" y="644.18" width="20.87" height="10.69" fill="#f07078"/>
<rect x="136.66" y="644.18" width="20.87" height="10.69" fill="#7070f0"/>
<rect x="157.48" y="644.18" width="20.87" height="10.69" fill="#8080f0"/>
<rect x="178.3" y="644.18" width="20.87" height="10.69" fill="#5048f0"/>
<text x="200.2" y="653.88" font-size="10.6" fill="#1a1a1a" textLength="42.67" lengthAdjust="spacingAndGlyphs" stroke="#1a1a1a" stroke-width="0.25">PRKAA1</text>
<rect x="74.2" y="654.82" width="20.87" height="10.69" fill="#f83840"/>
<rect x="95.02" y="654.82" width="20.87" height="10.69" fill="#f8c8c8"/>
<rect x="115.84" y="654.82" width="20.87" height="10.69" fill="#f05050"/>
<rect x="136.66" y="654.82" width="20.87" height="10.69" fill="#0000f0"/>
<rect x="157.48" y="654.82" width="20.87" height="10.69" fill="#9898f8"/>
<rect x="178.3" y="654.82" width="20.87" height="10.69" fill="#b0b0f8"/>
<text x="200.2" y="664.67" font-size="10.6" fill="#1a1a1a" textLength="34.26" lengthAdjust="spacingAndGlyphs" stroke="#1a1a1a" stroke-width="0.25">BCL7B</text>
<rect x="74.2" y="665.46" width="20.87" height="10.69" fill="#f83838"/>
<rect x="95.02" y="665.46" width="20.87" height="10.69" fill="#f8e0e0"/>
<rect x="115.84" y="665.46" width="20.87" height="10.69" fill="#f83838"/>
<rect x="136.66" y="665.46" width="20.87" height="10.69" fill="#5858f8"/>
<rect x="157.48" y="665.46" width="20.87" height="10.69" fill="#b8b8f8"/>
<rect x="178.3" y="665.46" width="20.87" height="10.69" fill="#4848f0"/>
<text x="200.2" y="675.46" font-size="10.6" fill="#1a1a1a" textLength="27.64" lengthAdjust="spacingAndGlyphs" stroke="#1a1a1a" stroke-width="0.25">PHF8</text>
<rect x="74.2" y="676.1" width="20.87" height="10.69" fill="#f06068"/>
<rect x="95.02" y="676.1" width="20.87" height="10.69" fill="#f08890"/>
<rect x="115.84" y="676.1" width="20.87" height="10.69" fill="#f83838"/>
<rect x="136.66" y="676.1" width="20.87" height="10.69" fill="#7070f8"/>
<rect x="157.48" y="676.1" width="20.87" height="10.69" fill="#7070f0"/>
<rect x="178.3" y="676.1" width="20.87" height="10.69" fill="#5858f0"/>
<text x="200.2" y="686.25" font-size="10.6" fill="#1a1a1a" textLength="28.24" lengthAdjust="spacingAndGlyphs" stroke="#1a1a1a" stroke-width="0.25">CBX5</text>
<rect x="74.2" y="686.74" width="20.87" height="10.69" fill="#f04850"/>
<rect x="95.02" y="686.74" width="20.87" height="10.69" fill="#f0a0a8"/>
<rect x="115.84" y="686.74" width="20.87" height="10.69" fill="#f83838"/>
<rect x="136.66" y="686.74" width="20.87" height="10.69" fill="#6868f0"/>
<rect x="157.48" y="686.74" width="20.87" height="10.69" fill="#6868f0"/>
<rect x="178.3" y="686.74" width="20.87" height="10.69" fill="#6060f0"/>
<text x="200.2" y="697.04" font-size="10.6" fill="#1a1a1a" textLength="46.87" lengthAdjust="spacingAndGlyphs" stroke="#1a1a1a" stroke-width="0.25">L3MBTL2</text>
<rect x="74.2" y="697.38" width="20.87" height="10.69" fill="#f06870"/>
<rect x="95.02" y="697.38" width="20.87" height="10.69" fill="#f06870"/>
<rect x="115.84" y="697.38" width="20.87" height="10.69" fill="#f05058"/>
<rect x="136.66" y="697.38" width="20.87" height="10.69" fill="#6060f0"/>
<rect x="157.48" y="697.38" width="20.87" height="10.69" fill="#7878f0"/>
<rect x="178.3" y="697.38" width="20.87" height="10.69" fill="#6060f0"/>
<text x="200.2" y="707.83" font-size="10.6" fill="#1a1a1a" textLength="36.05" lengthAdjust="spacingAndGlyphs" stroke="#1a1a1a" stroke-width="0.25">PCGF6</text>
<rect x="74.2" y="708.02" width="20.87" height="10.69" fill="#f83840"/>
<rect x="95.02" y="708.02" width="20.87" height="10.69" fill="#f0a0a8"/>
<rect x="115.84" y="708.02" width="20.87" height="10.69" fill="#f05050"/>
<rect x="136.66" y="708.02" width="20.87" height="10.69" fill="#5050f0"/>
<rect x="157.48" y="708.02" width="20.87" height="10.69" fill="#8080f0"/>
<rect x="178.3" y="708.02" width="20.87" height="10.69" fill="#6060f0"/>
<text x="200.2" y="718.62" font-size="10.6" fill="#1a1a1a" textLength="30.03" lengthAdjust="spacingAndGlyphs" stroke="#1a1a1a" stroke-width="0.25">TGM2</text>
<rect x="74.2" y="718.66" width="20.87" height="10.69" fill="#f06068"/>
<rect x="95.02" y="718.66" width="20.87" height="10.69" fill="#f09098"/>
<rect x="115.84" y="718.66" width="20.87" height="10.69" fill="#f83838"/>
<rect x="136.66" y="718.66" width="20.87" height="10.69" fill="#6868f0"/>
<rect x="157.48" y="718.66" width="20.87" height="10.69" fill="#9090f8"/>
<rect x="178.3" y="718.66" width="20.87" height="10.69" fill="#4040f0"/>
<text x="200.2" y="729.41" font-size="10.6" fill="#1a1a1a" textLength="31.25" lengthAdjust="spacingAndGlyphs" stroke="#1a1a1a" stroke-width="0.25">SPIN1</text>
<rect x="74.2" y="730.5" width="20.87" height="10.81" fill="#7878f0"/>
<rect x="95.02" y="730.5" width="20.87" height="10.81" fill="#5048f0"/>
<rect x="115.84" y="730.5" width="20.87" height="10.81" fill="#b8b8f8"/>
<rect x="136.66" y="730.5" width="20.87" height="10.81" fill="#f0b0b8"/>
<rect x="157.48" y="730.5" width="20.87" height="10.81" fill="#f82828"/>
<rect x="178.3" y="730.5" width="20.87" height="10.81" fill="#f09098"/>
<text x="200.2" y="740.4" font-size="10.6" fill="#1a1a1a" textLength="28.24" lengthAdjust="spacingAndGlyphs" stroke="#1a1a1a" stroke-width="0.25">EPC2</text>
<rect x="74.2" y="741.26" width="20.87" height="10.81" fill="#e8e8f8"/>
<rect x="95.02" y="741.26" width="20.87" height="10.81" fill="#1000f8"/>
<rect x="115.84" y="741.26" width="20.87" height="10.81" fill="#b0b0f8"/>
<rect x="136.66" y="741.26" width="20.87" height="10.81" fill="#f07880"/>
<rect x="157.48" y="741.26" width="20.87" height="10.81" fill="#f05058"/>
<rect x="178.3" y="741.26" width="20.87" height="10.81" fill="#f8d0d8"/>
<text x="200.2" y="751.14" font-size="10.6" fill="#1a1a1a" textLength="28.84" lengthAdjust="spacingAndGlyphs" stroke="#1a1a1a" stroke-width="0.25">BRD3</text>
<rect x="74.2" y="752.02" width="20.87" height="10.81" fill="#a0a0f8"/>
<rect x="95.02" y="752.02" width="20.87" height="10.81" fill="#3818f0"/>
<rect x="115.84" y="752.02" width="20.87" height="10.81" fill="#9898f8"/>
<rect x="136.66" y="752.02" width="20.87" height="10.81" fill="#f07880"/>
<rect x="157.48" y="752.02" width="20.87" height="10.81" fill="#f04850"/>
<rect x="178.3" y="752.02" width="20.87" height="10.81" fill="#f09098"/>
<text x="200.2" y="761.88" font-size="10.6" fill="#1a1a1a" textLength="33.84" lengthAdjust="spacingAndGlyphs" stroke="#1a1a1a" stroke-width="0.25">GATA3</text>
<rect x="74.2" y="762.78" width="20.87" height="10.81" fill="#9898f8"/>
<rect x="95.02" y="762.78" width="20.87" height="10.81" fill="#4038f0"/>
<rect x="115.84" y="762.78" width="20.87" height="10.81" fill="#9090f8"/>
<rect x="136.66" y="762.78" width="20.87" height="10.81" fill="#f05860"/>
<rect x="157.48" y="762.78" width="20.87" height="10.81" fill="#f06068"/>
<rect x="178.3" y="762.78" width="20.87" height="10.81" fill="#f08088"/>
<text x="200.2" y="772.62" font-size="10.6" fill="#1a1a1a" textLength="37.25" lengthAdjust="spacingAndGlyphs" stroke="#1a1a1a" stroke-width="0.25">CREBB</text>
<rect x="74.2" y="773.54" width="20.87" height="10.81" fill="#a0a0f8"/>
<rect x="95.02" y="773.54" width="20.87" height="10.81" fill="#4840f0"/>
<rect x="115.84" y="773.54" width="20.87" height="10.81" fill="#8080f0"/>
<rect x="136.66" y="773.54" width="20.87" height="10.81" fill="#f05058"/>
<rect x="157.48" y="773.54" width="20.87" height="10.81" fill="#f07078"/>
<rect x="178.3" y="773.54" width="20.87" height="10.81" fill="#f07880"/>
<text x="200.2" y="783.36" font-size="10.6" fill="#1a1a1a" textLength="34.25" lengthAdjust="spacingAndGlyphs" stroke="#1a1a1a" stroke-width="0.25">BAZ2A</text>
<rect x="74.2" y="784.3" width="20.87" height="10.81" fill="#8888f8"/>
<rect x="95.02" y="784.3" width="20.87" height="10.81" fill="#ececf8"/>
<rect x="115.84" y="784.3" width="20.87" height="10.81" fill="#1000f8"/>
<rect x="136.66" y="784.3" width="20.87" height="10.81" fill="#f07078"/>
<rect x="157.48" y="784.3" width="20.87" height="10.81" fill="#f0a0a8"/>
<rect x="178.3" y="784.3" width="20.87" height="10.81" fill="#f06870"/>
<text x="200.2" y="794.1" font-size="10.6" fill="#1a1a1a" textLength="36.64" lengthAdjust="spacingAndGlyphs" stroke="#1a1a1a" stroke-width="0.25">KMT5C</text>
<rect x="74.2" y="795.06" width="20.87" height="10.81" fill="#6868f0"/>
<rect x="95.02" y="795.06" width="20.87" height="10.81" fill="#e8e8f8"/>
<rect x="115.84" y="795.06" width="20.87" height="10.81" fill="#2010f0"/>
<rect x="136.66" y="795.06" width="20.87" height="10.81" fill="#f09098"/>
<rect x="157.48" y="795.06" width="20.87" height="10.81" fill="#f05860"/>
<rect x="178.3" y="795.06" width="20.87" height="10.81" fill="#f07880"/>
<text x="200.2" y="804.84" font-size="10.6" fill="#1a1a1a" textLength="48.68" lengthAdjust="spacingAndGlyphs" stroke="#1a1a1a" stroke-width="0.25">RPS6KA5</text>
<rect x="74.2" y="805.82" width="20.87" height="10.81" fill="#7070f0"/>
<rect x="95.02" y="805.82" width="20.87" height="10.81" fill="#7878f0"/>
<rect x="115.84" y="805.82" width="20.87" height="10.81" fill="#8888f8"/>
<rect x="136.66" y="805.82" width="20.87" height="10.81" fill="#f83838"/>
<rect x="157.48" y="805.82" width="20.87" height="10.81" fill="#f0b0b8"/>
<rect x="178.3" y="805.82" width="20.87" height="10.81" fill="#f06870"/>
<text x="200.2" y="815.58" font-size="10.6" fill="#1a1a1a" textLength="40.86" lengthAdjust="spacingAndGlyphs" stroke="#1a1a1a" stroke-width="0.25">PHF21A</text>
<rect x="74.2" y="816.58" width="20.87" height="10.81" fill="#7878f0"/>
<rect x="95.02" y="816.58" width="20.87" height="10.81" fill="#6868f0"/>
<rect x="115.84" y="816.58" width="20.87" height="10.81" fill="#8888f8"/>
<rect x="136.66" y="816.58" width="20.87" height="10.81" fill="#f04048"/>
<rect x="157.48" y="816.58" width="20.87" height="10.81" fill="#f07078"/>
<rect x="178.3" y="816.58" width="20.87" height="10.81" fill="#f0b0b8"/>
<text x="200.2" y="826.32" font-size="10.6" fill="#1a1a1a" textLength="32.46" lengthAdjust="spacingAndGlyphs" stroke="#1a1a1a" stroke-width="0.25">EP400</text>
<rect x="74.2" y="827.34" width="20.87" height="10.81" fill="#7878f0"/>
<rect x="95.02" y="827.34" width="20.87" height="10.81" fill="#7070f0"/>
<rect x="115.84" y="827.34" width="20.87" height="10.81" fill="#a0a0f8"/>
<rect x="136.66" y="827.34" width="20.87" height="10.81" fill="#f83838"/>
<rect x="157.48" y="827.34" width="20.87" height="10.81" fill="#f07880"/>
<rect x="178.3" y="827.34" width="20.87" height="10.81" fill="#f0b0b8"/>
<text x="200.2" y="837.06" font-size="10.6" fill="#1a1a1a" textLength="28.84" lengthAdjust="spacingAndGlyphs" stroke="#1a1a1a" stroke-width="0.25">BRD4</text>
<line x1="74.2" y1="633.54" x2="199.12" y2="633.54" stroke="#9a9aa8" stroke-width="0.3" opacity="0.6"/>
<line x1="74.2" y1="644.18" x2="199.12" y2="644.18" stroke="#9a9aa8" stroke-width="0.3" opacity="0.6"/>
<line x1="74.2" y1="654.82" x2="199.12" y2="654.82" stroke="#9a9aa8" stroke-width="0.3" opacity="0.6"/>
<line x1="74.2" y1="665.46" x2="199.12" y2="665.46" stroke="#9a9aa8" stroke-width="0.3" opacity="0.6"/>
<line x1="74.2" y1="676.1" x2="199.12" y2="676.1" stroke="#9a9aa8" stroke-width="0.3" opacity="0.6"/>
<line x1="74.2" y1="686.74" x2="199.12" y2="686.74" stroke="#9a9aa8" stroke-width="0.3" opacity="0.6"/>
<line x1="74.2" y1="697.38" x2="199.12" y2="697.38" stroke="#9a9aa8" stroke-width="0.3" opacity="0.6"/>
<line x1="74.2" y1="708.02" x2="199.12" y2="708.02" stroke="#9a9aa8" stroke-width="0.3" opacity="0.6"/>
<line x1="74.2" y1="718.66" x2="199.12" y2="718.66" stroke="#9a9aa8" stroke-width="0.3" opacity="0.6"/>
<line x1="74.2" y1="741.26" x2="199.12" y2="741.26" stroke="#9a9aa8" stroke-width="0.3" opacity="0.6"/>
<line x1="74.2" y1="752.02" x2="199.12" y2="752.02" stroke="#9a9aa8" stroke-width="0.3" opacity="0.6"/>
<line x1="74.2" y1="762.78" x2="199.12" y2="762.78" stroke="#9a9aa8" stroke-width="0.3" opacity="0.6"/>
<line x1="74.2" y1="773.54" x2="199.12" y2="773.54" stroke="#9a9aa8" stroke-width="0.3" opacity="0.6"/>
<line x1="74.2" y1="784.3" x2="199.12" y2="784.3" stroke="#9a9aa8" stroke-width="0.3" opacity="0.6"/>
<line x1="74.2" y1="795.06" x2="199.12" y2="795.06" stroke="#9a9aa8" stroke-width="0.3" opacity="0.6"/>
<line x1="74.2" y1="805.82" x2="199.12" y2="805.82" stroke="#9a9aa8" stroke-width="0.3" opacity="0.6"/>
<line x1="74.2" y1="816.58" x2="199.12" y2="816.58" stroke="#9a9aa8" stroke-width="0.3" opacity="0.6"/>
<line x1="74.2" y1="827.34" x2="199.12" y2="827.34" stroke="#9a9aa8" stroke-width="0.3" opacity="0.6"/>
<line x1="95.02" y1="622.9" x2="95.02" y2="729.3" stroke="#9a9aa8" stroke-width="0.3" opacity="0.6"/>
<line x1="95.02" y1="730.5" x2="95.02" y2="838.1" stroke="#9a9aa8" stroke-width="0.3" opacity="0.6"/>
<line x1="115.84" y1="622.9" x2="115.84" y2="729.3" stroke="#9a9aa8" stroke-width="0.3" opacity="0.6"/>
<line x1="115.84" y1="730.5" x2="115.84" y2="838.1" stroke="#9a9aa8" stroke-width="0.3" opacity="0.6"/>
<line x1="136.66" y1="622.9" x2="136.66" y2="729.3" stroke="#9a9aa8" stroke-width="0.3" opacity="0.6"/>
<line x1="136.66" y1="730.5" x2="136.66" y2="838.1" stroke="#9a9aa8" stroke-width="0.3" opacity="0.6"/>
<line x1="157.48" y1="622.9" x2="157.48" y2="729.3" stroke="#9a9aa8" stroke-width="0.3" opacity="0.6"/>
<line x1="157.48" y1="730.5" x2="157.48" y2="838.1" stroke="#9a9aa8" stroke-width="0.3" opacity="0.6"/>
<line x1="178.3" y1="622.9" x2="178.3" y2="729.3" stroke="#9a9aa8" stroke-width="0.3" opacity="0.6"/>
<line x1="178.3" y1="730.5" x2="178.3" y2="838.1" stroke="#9a9aa8" stroke-width="0.3" opacity="0.6"/>
<rect x="74.2" y="729.3" width="124.92" height="1.2" fill="#fff"/>
<rect x="197.4" y="666.8" width="36.9" height="9" fill="none" stroke="#e8201a" stroke-width="1.2"/>
<defs><linearGradient id="fg" x1="0" y1="0" x2="0" y2="1"><stop offset="0" stop-color="#f01818"/><stop offset="0.5" stop-color="#ffffff"/><stop offset="1" stop-color="#1010f0"/></linearGradient></defs>
<rect x="44.6" y="624.7" width="5.4" height="77.7" fill="url(#fg)"/>
<text x="52.1" y="631" font-size="5.8" fill="#444" textLength="7.66" lengthAdjust="spacingAndGlyphs" stroke="#444" stroke-width="0.25">1.5</text>
<text x="52.1" y="642.7" font-size="5.8" fill="#444" textLength="3.06" lengthAdjust="spacingAndGlyphs" stroke="#444" stroke-width="0.25">1</text>
<text x="52.1" y="654.1" font-size="5.8" fill="#444" textLength="7.66" lengthAdjust="spacingAndGlyphs" stroke="#444" stroke-width="0.25">0.5</text>
<text x="52.1" y="665.9" font-size="5.8" fill="#444" textLength="3.06" lengthAdjust="spacingAndGlyphs" stroke="#444" stroke-width="0.25">0</text>
<text x="52.1" y="677" font-size="5.8" fill="#444" textLength="10.88" lengthAdjust="spacingAndGlyphs" stroke="#444" stroke-width="0.25">−0.5</text>
<text x="52.1" y="688.7" font-size="5.8" fill="#444" textLength="6.28" lengthAdjust="spacingAndGlyphs" stroke="#444" stroke-width="0.25">−1</text>
<text x="52.1" y="700.6" font-size="5.8" fill="#444" textLength="10.88" lengthAdjust="spacingAndGlyphs" stroke="#444" stroke-width="0.25">−1.5</text>
<path d="M64 628.6H74 M66.4 644.3V672.1 M70.3 638.6V649.3 M70.3 638.6H74 M66.4 660.4H74 M71.1 702.9V724.3H74 M71.1 702.9H74 M69.1 735.7H74 M69.4 746.3V765 M69.4 746.3H74 M69.4 765H74 M72.9 768.6V777 M72.9 773H74 M67.4 795.7V820 M67.4 795.7H74 M71.4 805.7V831.4 M71.4 805.7H74 M71.4 831.4H74 M67.4 820H71.4" stroke="#555" stroke-width="0.6" fill="none"/>
<path d="M69.3 671.4V697.9 M69.3 684H74" stroke="#ccc" stroke-width="0.6" fill="none"/>
<text x="293.2" y="622.7" font-size="15.5" font-weight="bold" textLength="12.2" lengthAdjust="spacingAndGlyphs">G</text>
<path d="M388.2 688.76h0M405.81 670.6h0M404.02 678.95h0M380.96 686.4h0M383.79 690.05h0M380.74 697.76h0M395.32 681.55h0M387 676.65h0M397.67 688.56h0M363.2 681.86h0M408.56 687.24h0M386.46 690.4h0M396.79 678.89h0M385.93 685.37h0M382.71 681.36h0M393.9 688.46h0M398.7 689.21h0M385.05 698.76h0M385.71 693.91h0M396.86 690.02h0M376.18 698.04h0M367.62 688.1h0M392.99 688.15h0M378.83 701.28h0M362.23 674.22h0M376.93 693.67h0M381.53 695.4h0M371.89 680.39h0M367.91 681.98h0M388.23 692.86h0M399.67 692.07h0M384.65 692.76h0M377.86 679.57h0M392.86 685.7h0M397.28 688.02h0M383.76 686.15h0M394.98 674.45h0M401.6 690.96h0M384.99 688.32h0M376.93 697.53h0M392.36 668.33h0M391.03 671.18h0M402.35 674.26h0M370.68 690.4h0M378.95 682.59h0M376.61 702.68h0M364.7 689.11h0M389.42 693.85h0M394.76 692.34h0M377.93 692.48h0M406.16 682.41h0M398.67 677.9h0M396.08 677.71h0M393.08 681.6h0M400.44 688.13h0M370.05 684.86h0M395.9 683.54h0M395.75 674.41h0M364.26 697.64h0M392.36 703.12h0M384.42 689.13h0M398.13 666.93h0M381.91 683.14h0M387.5 686.31h0M392.3 677.43h0M376.1 684.46h0M395.7 679.49h0M386.35 688.87h0M394.29 682.59h0M380.81 685.32h0M402.18 685.54h0M395.79 690.61h0M385.38 684.53h0M396.14 675.8h0M404.48 675.83h0M411.55 675.01h0M366.84 686.93h0M399.48 663.52h0M393.92 681.39h0M386.5 677.87h0M374.37 674.67h0M404.45 680.03h0M370.98 687.51h0M395.28 675.5h0M405.04 668.34h0M366.49 688.37h0M383.72 683.4h0M370.35 688.91h0M390.99 692.51h0M407.87 671.6h0M414.63 679.45h0M364.12 703.33h0M380.1 687.95h0M397.09 694.55h0M408.73 686.33h0M393.34 683.23h0M377.83 694h0M391.69 676.24h0M387.52 695.26h0M385.04 683.71h0M377.99 683.52h0M392.89 673.16h0M391.84 677.23h0M386.51 683.51h0M384.8 685.05h0M370.67 689.81h0M381.28 678.52h0M403.78 685.15h0M385.21 681.82h0M368.61 690.6h0M405.48 678.36h0M394.79 684.77h0M415.76 662.24h0M388.58 689.22h0M381.61 684.66h0M368.51 688.02h0M405.34 675.8h0M421.89 672.47h0M376.84 684.73h0M379.15 680.18h0M395.67 693.28h0M376.71 687.69h0M384.15 694.46h0M383.1 684.4h0M390.3 692.45h0M402.29 687.66h0M388.04 685.14h0M399.96 671.67h0M382.17 682.22h0M392.1 681.53h0M359.33 682.52h0M368.48 696.62h0M398.32 696.7h0M379.9 689.88h0M395.45 684.68h0M394.95 674.15h0M405.32 664.99h0M398.53 691.27h0M401.26 663.7h0M386.26 674.15h0M378.47 681.36h0M378.02 684.8h0M381.26 669.42h0M372.73 688.24h0M380.47 690.07h0M386.51 684.13h0M391.09 693.54h0M383.24 682.66h0M362.18 692.41h0M386.78 682.71h0M390.74 681.44h0M402.16 688.38h0M395.42 673.44h0M379.19 694.23h0M378.13 681.1h0M414.46 688.84h0M397.8 679.46h0M412.08 684.03h0M416.04 676.89h0M376.87 692.28h0M392.86 698.79h0M393.83 691h0M395.18 682.3h0M394.95 678.44h0M390.43 694.41h0M390.06 699.13h0M367.78 696.27h0M385.55 686.85h0M377.81 691.9h0M389.42 690.03h0M381.53 680.44h0M395.96 675.76h0M398.63 676.62h0M391.85 690.28h0M391.95 683.11h0M388.98 685.81h0M381.79 696.43h0M385.56 679.14h0M381.16 685.92h0M392.9 686.81h0M387.93 674.73h0M395.47 677.32h0M370.09 683.47h0M399.54 673.15h0M377.61 682.43h0M377.99 696.31h0M385.12 688.22h0M380.26 679.71h0M391.61 689.16h0M380.12 686.56h0M373.53 685.78h0M376.51 677.63h0M405.18 670.95h0M388.33 678.29h0M372.23 690.25h0M387.86 678.3h0M367.07 686.6h0M411.52 679.55h0M367.49 680.65h0M394.11 679.59h0M394.97 688.18h0M368.48 681.03h0M391.73 685.52h0M401 677.05h0M393.96 693.87h0M391.21 684h0M400.36 688.08h0M389.88 691.08h0M392.22 697.07h0M386.06 670.15h0M396.14 683.61h0M375.24 686.48h0M398.27 674.17h0M381.03 687.47h0M373.25 685.08h0M392.6 693.09h0M410.24 677.39h0M400.52 684.3h0M380.89 683.12h0M397.02 681.05h0M381.71 696.2h0M386.1 698.31h0M388.93 691.65h0M356.95 687.88h0M390.29 681.14h0M374.06 685.65h0M378.48 701.54h0M368.15 709.04h0M367.59 694.63h0M375.21 690.54h0M398.72 686.14h0M409.88 676.4h0M387.41 686.13h0M402.25 689.31h0M384.24 691.99h0M362.34 690.65h0M389.74 683.8h0M393.67 683.78h0M382.05 670.4h0M391.76 685.63h0M395.35 681.97h0M376.27 694.95h0M368.12 692.65h0M384.8 681.95h0M384.94 681.62h0M383.06 687.23h0M400.86 678.56h0M410.67 678.33h0M382.21 699.62h0M397.03 705.47h0M400.25 665.24h0M397.22 676.48h0M401.66 681.55h0M382.57 698.52h0M397.58 691.23h0M414.65 668.11h0M398.42 701.67h0M379.51 689.38h0M395.82 676.59h0M404.52 679.37h0M392.65 678.24h0M380.26 687.81h0M408.25 662.51h0M371.14 696.58h0M394.43 692.69h0M387.53 683h0M371.88 679.06h0M403.95 680.93h0M392.37 676.25h0M372.24 692.78h0M395.74 691.09h0M382.01 676.55h0M362.46 680.6h0M378.59 676.53h0M391.25 687.03h0M396.19 690.76h0M389.94 692.53h0M388.34 686.3h0M393.99 679.1h0M384.94 682.04h0M403.38 690.8h0M389.72 682.97h0M391.65 683.71h0M394.93 682.32h0M373.7 688.81h0M378.32 688.83h0M408.06 675.25h0M392.2 682.79h0M383.99 684.3h0M392.28 688.53h0M381.35 683.81h0M391.45 684.74h0M378.9 702.16h0M391.41 680.49h0M366.78 692.37h0M405.43 673.61h0M380.93 687.85h0M366.73 691.19h0M384.77 684.19h0M382.82 686.29h0M389.77 687.49h0M372.53 701.6h0M393.03 670.47h0M435.89 683.09h0M370.75 691.84h0M392.23 679.07h0M383.62 683.31h0M390.3 680.19h0M363.67 685.92h0M372.45 680.08h0M393.85 681.15h0M387.23 664.53h0M409.47 686.2h0M378.38 685.79h0M390.06 686.8h0M426.45 678.34h0M377.57 685.58h0M375.73 677.82h0M387.28 690.01h0M387.15 690.05h0M398.96 676.76h0M389.47 680.58h0M377.69 673.78h0M390.55 676.88h0M422.81 673.86h0M404.64 682.67h0M350.78 693.28h0M385.86 686.62h0M376.12 697.62h0M396.01 682.6h0M385.44 686.73h0M413.43 679.63h0M400.12 684.59h0M399.58 669.79h0M390.22 679.31h0M387.21 678.42h0M392.27 687.95h0M404.96 687.47h0M394.85 684.97h0M383.08 684.41h0M404.69 682.77h0M390.3 685.52h0M386.71 678.38h0M377.23 685.59h0M380.22 693.83h0M379.29 690.16h0M350.64 699.47h0M401.26 679.98h0M395.27 691.09h0M384.9 686.9h0M401.64 676.27h0M393.56 683.12h0M392.68 690h0M354.86 698.05h0M384.65 684.83h0M394.82 679.58h0M409.13 673.24h0M412.2 679.34h0M406.69 689.08h0M372.31 678.98h0M358.54 690.61h0M395.33 679.98h0M388.11 682.63h0M400.54 688.76h0M386.07 687.58h0M390.66 682.28h0M367.81 682.95h0M393.7 682.86h0M381.83 708.46h0M392.4 685.33h0M393.85 680.76h0M386.19 676.18h0M391.95 678.74h0M387.56 667.38h0M397.83 672.13h0M394.41 673.59h0M380.47 680.18h0M379.93 696.72h0M410.92 672.69h0M386.39 681.02h0M400.92 685.05h0M392.97 679.34h0M380.25 683.94h0M377.79 690.83h0M389.34 685.32h0M391.16 685.82h0M395.91 681.07h0M370.91 692.39h0M379.84 683.16h0M386.48 698.73h0M409.02 681.16h0M356.38 705.17h0M393.58 686.72h0M380.57 683.16h0M393.48 683.19h0M381.21 687.41h0M392.59 683.1h0M408.54 668.24h0M392.45 691.42h0M393.5 677.08h0M392.7 694.21h0M377.77 690.85h0M394.96 681.79h0M384.98 691.63h0M376.96 686.33h0M387.23 679.88h0M384.72 694.1h0M397.76 682.74h0M387.18 687.69h0M380.71 700.44h0M407.09 681.01h0M400.88 686.98h0M404.62 670.92h0M395.82 688.89h0M386.29 673.29h0M382.18 690.13h0M384.03 672.21h0M400.34 677.7h0M389.23 681.28h0M368.04 684.49h0M387.23 678.66h0M368.93 680.04h0M389.95 672.08h0M371.75 691.61h0M370.95 698.2h0M389.32 703.29h0M386.71 687.89h0M365.66 685.44h0M397.69 679.55h0M416.49 676.36h0M368.06 692.63h0M411.93 682.91h0M378.61 689.33h0M381.18 683.9h0M385.37 697.96h0M368.54 684.89h0M405.01 690.53h0M394.29 684.24h0M377.76 692.03h0M384.06 688.47h0M367.6 697.67h0M383.12 694.27h0M400.19 683.19h0M364.95 698.66h0M381.95 669.13h0M389.7 687.32h0M401.67 685.81h0M405.67 683.99h0M381.67 694.11h0M377.91 704.88h0M393.73 685.13h0M382.92 684.03h0M383.63 696.63h0M402.1 681.04h0M410.2 687.44h0M391.28 684.24h0M385.19 683.08h0M395.34 679.47h0M362.66 688.59h0M387.5 689.96h0M373.65 682.51h0M419.5 679.58h0M397.31 679.9h0M389.62 679.47h0M385.16 687.77h0M354.33 702.96h0M397.22 678.07h0M409.4 687.01h0M378.06 693.82h0M396.83 690.28h0M397.35 676.43h0M367.17 691.61h0M400.18 697.46h0M405.75 674.93h0M390.78 669.53h0M386.91 672.48h0M398.22 686.14h0M367.27 689.89h0M388.98 681.03h0M401.75 674.89h0M371.24 689.13h0M400.93 689.13h0M382.19 681.12h0M360.09 688.03h0M386.34 694.71h0M374.83 691.01h0M391.99 681.92h0M372.17 689.15h0M401.7 677.52h0M377.93 681.98h0M392.48 679.87h0M379.85 687.89h0M383.45 695.62h0M403.58 676.37h0M390.61 674.32h0M382.5 672.44h0M371.11 689.66h0M403.16 681.08h0M397.48 672.16h0M383.41 675.99h0M390.98 681.7h0M374.06 683.62h0M374.26 693.96h0M376.77 683.8h0M392.44 689.54h0M391.68 684.94h0M377.84 688.5h0M397.55 685.65h0M398.17 697.07h0M390.04 690.19h0M401.54 678.93h0M383.93 686.43h0M386.24 688.16h0M394.03 680.27h0M387.29 680.25h0M398.29 676.18h0M371.1 695.14h0M406.69 679.75h0M377.36 690.13h0M385.56 691.77h0M369.44 700.45h0M395.72 683.55h0M404.67 686.61h0M401.98 666h0M398.82 682.72h0M367.05 692.13h0M377.35 690.59h0M381.6 673.43h0M375.32 694.97h0M402.66 682.13h0M390.2 689.77h0M387.42 685.96h0M394.22 683.51h0M375.1 680.64h0M375.67 698.22h0M376.03 688.29h0M394.36 671.83h0M392.28 687.37h0M395.43 684.19h0M402.07 687.41h0M369.71 708.29h0M380.3 687.73h0M389.71 676.19h0M369.82 693.1h0M380.67 699.91h0M401.22 679.51h0M402.4 680.51h0M402.05 674.11h0M388.32 678.43h0M384.93 687.66h0M402.09 678.33h0M382.79 699.01h0M392.24 675.94h0M405.36 678.97h0M382.86 678.66h0M379.63 679.68h0M387.62 687.06h0M395.7 683.92h0M394.16 689.45h0M389.82 699.01h0M395.14 683.95h0M366.49 689.62h0M376.33 695.72h0M389.91 679.4h0M375.4 687.62h0M369.92 686.58h0M371.7 694.73h0M375.54 700.71h0M385.37 680.15h0M374.16 684.34h0M390.87 684.94h0M410.28 681.92h0M385.78 687.48h0M404.68 681.42h0M391.58 687.56h0M372.86 703.17h0M384.34 680.39h0M374.7 699.04h0M397.95 684.61h0M372.42 691.27h0M405.32 678.44h0M395.43 694.31h0M360.87 683.69h0M398.17 677.57h0M408.38 674.03h0M377.24 678.87h0M400.84 687.09h0M363.85 713.48h0M391.1 681.72h0M365.67 681.63h0M394.15 675.04h0M363.99 695.1h0M352.76 694.97h0M393.01 681.51h0M418.15 689.52h0M379.83 691.76h0M398.78 686.46h0M389.22 673.37h0M383.45 690.67h0M395.92 671.65h0M409.57 678.96h0M371.33 701.13h0M395.24 667.26h0M392.33 690.52h0M368.82 685.61h0M409.2 667.1h0M413.65 681.7h0M375.08 696.95h0M410.84 671.35h0M388.49 684.22h0M385.58 694.11h0M407.72 687.14h0M390.77 686.82h0M392.04 676.93h0M407.91 681.49h0M404.86 675.68h0M399.61 670.05h0M369.13 680.92h0M366.85 680.35h0M402.71 672.18h0M375.43 699.52h0M389.72 675.73h0M373.47 686.39h0M385.3 686.41h0M370.75 697.08h0M409.41 690.27h0M374.21 696.34h0M386.12 685.47h0M385.24 693.83h0M403.77 686.34h0M368.88 694.29h0M387.3 680.3h0M384.96 687.71h0M394.79 684.02h0M394.02 673.85h0M381.58 688.8h0M390.93 679.8h0M382.77 693.67h0M393.97 680.89h0M386.38 684.4h0M379.03 685.98h0M387.38 688.27h0M392.58 690.85h0M417.85 678.92h0M381.22 689.93h0M391.82 676.5h0M407.19 673.27h0M360.13 700.76h0M364.58 686.67h0M371.95 692.5h0M386.23 682.05h0M420.17 679.58h0M392.95 693.86h0M403.8 673.41h0M384.79 682.48h0M355.01 702.3h0M357 706.46h0M401.28 685.02h0M390.2 692.55h0M370.49 692.07h0M402.59 676.53h0M367.3 680.01h0M402.82 683.35h0M407.03 670h0M377.58 679.4h0M373.02 691.89h0M398.96 693.62h0M373.19 682.77h0M399.2 677.51h0M371.86 672.54h0M398.48 671.91h0M388.99 679.02h0M381.99 674.5h0M375.84 695.44h0M390.9 682.64h0M362.6 693.53h0M384.08 673.55h0M382.48 682.28h0M396.76 703.99h0M371.08 679.65h0M410.51 685.12h0M383.6 680.46h0M372.62 692.25h0M406.16 678.15h0M409.84 674.4h0M385.25 684.1h0M375.9 694.7h0M387.96 674.87h0M378.57 684.45h0M383.6 686.01h0M408.45 674.25h0M392.95 687.15h0M389.68 670.96h0M392.34 681.95h0M386.97 682.39h0M398.93 679.31h0M399.43 688.06h0M382.83 694.35h0M389.14 682.85h0M419.82 673.67h0M393.35 673.76h0M385.28 682.23h0M414.98 685.12h0M387.87 681h0M373.16 682.82h0M396.71 675.27h0M375.79 685.6h0M381.14 695.13h0M392.08 675.39h0M386.06 690.36h0M377.6 683.42h0M380.42 697.8h0M379.86 681.47h0M403.24 686.12h0M378.16 679.68h0M380.14 674.35h0M414.83 669.24h0M380.39 694.96h0M407.54 686.1h0M405.23 686.2h0M385.72 680.63h0M368.88 687.38h0M393.76 682.03h0M396.68 680.18h0M400.6 677.22h0M388.7 679.91h0M403.75 668.56h0M406.22 680.21h0M373.73 687.09h0M406.74 692.76h0M390.06 693.49h0M380.23 691.69h0M383.51 694.28h0M412.69 676.54h0M400.82 673.95h0M363.97 694.25h0M388.85 687.93h0M385.89 688.92h0M385.41 684.52h0M380.93 690.49h0M368.39 687.01h0M399.19 679.64h0M375.26 685.76h0M382.83 680.78h0M379.74 686.77h0M378.07 686.43h0M397.62 669.8h0M392.84 683.81h0M378.79 681.64h0M375.19 687.85h0M381.51 689.78h0M400.59 684.65h0M389.42 690.21h0M390.84 683.97h0M383.38 690.31h0M384.32 688.79h0M390.62 675.52h0M363.25 692.4h0M409.17 671.11h0M377.28 685.83h0M393.53 712.65h0M367.91 696.4h0M381.09 683.18h0M424.37 698.92h0M392.91 691.24h0M395.97 688.62h0M382.57 699.62h0M393.42 684.34h0M358.28 691.83h0M363.68 709.07h0M385.94 690.08h0M392.74 685.77h0M371.33 686.51h0M375.2 704.67h0M372.15 690.81h0M375.17 679.35h0M357.54 693.66h0M353.49 681.68h0M376.98 680.21h0M348.16 696.97h0M361.35 688.21h0M366.88 700.13h0M360.03 683.08h0M382.47 697.6h0M370.55 703.35h0M376.88 696.77h0M360.69 697.35h0M365.34 691.64h0M387.14 690.59h0M384.52 711.02h0M370.1 704.58h0M384.5 691.89h0M381.42 690.36h0M380.91 695.3h0M405.86 663.34h0M371.13 682.31h0M385.39 697.28h0M385.41 687.17h0M373.99 679.51h0M357.79 691.69h0M390.06 718.14h0M382.58 695.02h0M378.87 695.58h0M378.39 669.46h0M378.34 719.23h0M362.39 676.77h0M383.01 698.11h0M346.54 684.45h0M377.43 699.78h0M351.83 693.9h0M371.71 681.89h0M390.26 695.01h0M373.28 682.83h0M369.43 697.06h0M386.69 701.17h0M373.05 698.76h0M370.62 702.32h0M370.86 697.51h0M403.99 678.91h0M389.23 710.65h0M386.03 716.79h0M356.95 696.19h0M388.4 674.82h0M355.13 682.81h0M385.94 679.34h0M358.18 680.24h0M411.54 705.05h0M348.27 694.41h0M398.8 729.25h0M391.48 703.52h0M346.65 688.25h0M373.34 715.38h0M402.64 721.69h0M397.27 712.13h0M348.66 693.08h0M368.46 681.16h0M357.08 663.34h0M359.67 677.82h0M366.32 714.75h0M409.51 724.82h0M379.79 693.81h0M373.54 682.38h0M371.64 715.94h0M389.05 702.17h0M389.48 701.24h0M361.47 695.14h0M402.97 697.79h0M358.61 689.04h0M372.63 682.22h0M385.28 694.56h0M407.2 686.02h0M371.42 670.41h0M382.41 708.2h0M400.09 708.51h0M388.28 688.96h0M397.04 672.09h0M395.49 693.21h0M381.95 681.57h0M388.4 699.13h0M393.38 683.75h0M376.95 703.08h0M405.23 686.74h0M342.89 690.22h0M361.42 690.2h0M402.55 677.86h0M384.86 681.7h0M366.23 702.58h0M384.01 683.94h0M396.34 716.32h0M367.72 682.58h0M390.8 660.47h0M375.32 688.26h0M375.47 688.52h0M376.24 694.06h0M396.78 684.39h0M357.98 700.44h0M371.06 686.34h0M388.98 698.12h0M356.25 700.01h0M349.96 693.1h0M387.35 695.39h0M377.49 716.38h0M374.9 668.55h0M379.94 692.82h0M360.55 715.83h0M428.13 681.04h0M360.34 694.9h0M369.89 691.98h0M352.74 685.67h0M370.23 705.76h0M404.01 731.45h0M377.79 695.78h0M387.81 691.49h0M369.05 681.96h0M409 704.02h0M380.31 697.87h0M355.75 689.52h0M390.86 698.49h0M371.03 697.66h0M388.02 691.33h0M379.88 707.02h0M382.04 674.66h0M379.84 706.1h0M361.71 694.08h0M351.33 698.67h0M394.43 703.42h0M375.1 687.83h0M382.42 681.87h0M369.39 676.3h0M342.26 687.26h0M355.24 700.18h0M401.72 683.75h0M363.79 712.69h0M370.79 693.96h0M351.92 688.04h0M368.26 687.52h0M370.95 709.06h0M373.58 713.42h0M376.14 673.82h0M366.43 701.09h0M367.42 715.35h0M377.17 710.26h0M383.02 694.57h0M374.93 679.96h0M407.71 694.82h0M380.97 679.75h0M380.19 691.99h0M365.97 688.93h0M395.24 682.52h0M359.57 699.6h0M349.22 691.19h0M360.4 699.79h0M388.13 702.93h0M357.45 686.73h0M399.86 705.27h0M376.95 693.99h0M350.97 704.93h0M373.35 696.15h0M408.36 701.66h0M362.37 681.35h0M354.55 694.1h0M386.24 694.15h0M400.05 674.48h0M395 731.49h0M371.61 709.24h0M380.58 729.65h0M382.97 695.42h0M397.74 689.87h0M414.7 687.32h0M375.44 692.06h0M399.92 706.38h0M371.34 673.49h0M387.56 691.67h0M361.09 698.79h0M364.03 709.6h0M384.54 690.29h0M361.72 701.75h0M392.75 701.25h0M367.74 693.04h0M378.67 692.92h0M375.86 705.96h0M371.52 679.97h0M379.6 708.27h0M396.09 709.72h0M431.33 691.87h0M356.67 694.15h0M382.54 694.88h0M374.26 700.93h0M361.43 695.25h0M382.3 702.86h0M362.03 716.48h0M375.96 686.59h0M398.88 708.53h0M342.16 698.7h0M381.63 686.67h0M385.09 695.54h0M360.67 661.46h0M386.43 713.4h0M383.43 705.24h0M371.25 694.76h0M398.4 678.86h0M354.58 699h0M388.51 713.84h0M373.26 681.56h0M358.94 707.46h0M374.23 698.4h0M371.24 684.87h0M391.56 704.32h0M351.31 701.6h0M373.93 689.83h0M369.39 698.51h0M404.68 692.37h0M357.86 707.84h0M395.72 697.47h0M346.75 709.67h0M383.27 715.52h0M374.91 673.98h0M383.84 690.31h0M365.03 684.52h0M343.3 708.16h0M350.35 696.38h0M400.04 698.61h0M380.9 713.85h0M362.14 689.18h0M392.81 705.09h0M364.18 698.58h0M364.28 715.07h0M356.02 683.59h0M397.59 686.52h0M411.23 691.13h0M360.31 707.45h0M382.1 702.8h0M394.06 680.72h0M413.84 699.52h0M335.31 692.7h0M379.47 694.28h0M388.23 710.08h0M351.25 676.93h0M384.07 720.93h0M380.4 693.24h0M389.54 697.15h0M366.81 716.34h0M384.21 691.89h0M366.41 689.53h0M387.47 695.4h0M379.68 706.43h0M370.36 690.41h0M352.29 682.07h0M405.58 693.28h0M396.2 674.43h0M392.21 685.27h0M365.35 686.4h0M370.81 678.61h0M405.96 704.34h0M389.86 702.58h0M362.09 689.57h0M377.72 689.53h0M379.38 677.11h0M373.45 681.67h0M360.52 693.83h0M398.77 693.28h0M387.21 699.46h0M373.54 700.57h0M349.62 701.64h0M366.84 684.63h0M376.93 701.86h0M392.12 700.39h0M370.61 693.93h0M396.33 702.34h0M379.51 698.76h0M364.13 723.24h0M328.52 691.16h0M356.68 699.65h0M351.2 693.38h0M374.51 691.14h0M382.94 718.98h0M401.35 665.53h0M376.97 693.57h0M357.05 693.22h0M418.13 717.73h0M382.64 687.42h0M372.65 689.94h0M372.68 699.51h0M353.74 691.77h0M388.33 678.68h0M383.78 698.86h0M404.93 705.9h0M396.48 677.79h0M392.43 691.08h0M399.23 696.58h0M372.41 665.46h0M369.65 692.28h0M376.52 696.44h0M355.73 690.92h0M374.93 699.29h0M371.7 691.57h0M389.09 692.4h0M377.22 702.51h0M344.29 697.56h0M378.03 690.44h0M402.15 689.55h0M345.61 687.06h0M364.34 684.54h0M377.86 691.28h0M354.51 687.94h0M368.04 699.21h0M378.58 697.68h0M354.67 681.47h0M382.76 719.29h0M384.77 689.91h0M364.82 742.44h0M380.63 734.2h0M385.54 729.06h0M394.78 727.15h0M386.6 734.81h0M366.49 722.12h0M376.96 717.21h0M359.36 713.39h0M382.12 729.35h0M378.07 713.32h0M367.54 714.38h0M373.03 725.59h0M371.46 746.21h0M367.26 726.15h0M388.54 730.5h0M407.94 723.72h0M383.14 740.82h0M385.69 712.22h0M375.93 737.82h0M370.39 711.96h0M398.06 740.59h0M370.22 732.62h0M378.5 724.55h0M372.9 741.25h0M380.62 735.44h0M373.66 725.33h0M380.65 721.73h0M360.43 715.23h0M373.1 729.69h0M389.1 713.41h0M362.96 740.37h0M366.94 727.42h0M389.1 721.54h0M378.59 748.25h0M385.81 720.37h0M349.87 719.1h0M375.77 729.26h0M360.32 714.96h0M359.05 723.84h0M378.66 737.01h0M387.06 719.59h0M357.9 730.99h0M362.12 724.49h0M367.81 712.41h0M372.79 723.96h0M359.68 720.76h0M398.76 719.22h0M380.55 743.6h0M370.22 750.05h0M368.49 748.54h0M399.45 733.14h0M398.54 713.3h0M368.79 733.88h0M377.9 714.96h0M387.83 739.93h0M361.18 745.92h0M367.69 735.44h0M388.81 718.11h0M366.51 713.23h0M369.35 730.22h0M359.36 736.49h0M365.75 720.36h0M381.52 734.7h0M365.04 739.58h0M359.75 721.6h0M367.13 748.25h0M393.33 720.78h0M375.9 713.76h0M367.83 747.47h0M375.62 720.58h0M378.78 750.61h0M375.25 746.59h0M354.17 739.95h0M377.17 711.97h0M371.56 749.44h0M385.27 766.1h0M364.99 760.6h0M387.15 772.52h0M372.88 760.53h0M361.68 771.89h0M389.73 761.79h0M380.88 763.16h0M375.93 758.44h0M387.51 759.86h0M387.62 755.59h0M387.71 769.21h0M384 753.37h0M362.46 753.14h0M361.83 769.97h0M379.23 767.54h0M368.55 766.2h0M381.67 762.91h0M378.9 761.66h0M367.76 759.22h0M366.86 764.31h0M369.13 768.88h0M375.43 757.08h0M383.65 764.85h0M389.74 755.97h0M368.35 759.59h0M372.12 764.7h0M391.73 755.76h0M385.62 757.95h0M379.5 765.81h0M355.6 772.45h0M368 766.06h0M378.8 759.09h0M371.87 764.21h0M395.77 752.22h0M378.17 761.23h0M379.95 761.62h0M367.14 760.37h0M367.65 768.08h0M371.15 763.52h0M371.52 766.75h0M380.79 773.44h0M379.52 758.37h0M386.61 765.45h0M364.78 763.52h0M379.28 771.64h0M379.55 766.32h0M392.05 758.1h0M375.3 762.21h0M380.35 765.9h0M369.75 753.63h0M381.25 763.15h0M381.01 764.89h0M371.49 755.94h0M373.25 773.18h0M377.02 759.49h0M382.7 769.47h0M366.66 767.51h0M385.53 766.89h0M374.24 762.02h0M394.94 762.15h0M390.88 760.98h0M373.57 761.54h0M371.51 754.4h0M400.13 752.67h0M383.17 758.55h0M382.59 758.26h0M373.4 765.04h0M376.12 769.37h0M384.8 759.25h0M383.04 762.58h0M369.65 757.66h0M388.87 773.71h0M380.19 746.75h0M368.51 770.4h0M386.57 762.57h0M375.71 756.85h0M384.6 771.07h0M334.58 706.82h0M324.29 703.59h0M335.55 701.49h0M345.2 724.76h0M331.11 688.25h0M326.94 696.57h0M329.29 697.13h0M355.43 695.03h0M349.9 693.03h0M325.74 668.39h0M332.88 693.84h0M331.71 686.04h0M325.2 702.2h0M355.04 691.78h0M332.45 699.74h0M343.78 697.77h0M336.28 706.76h0M323.46 705.71h0M322.08 690.54h0M349.11 687.08h0M346.37 690.47h0M340.8 703.97h0M327.86 692.19h0M334.56 726.19h0M341.4 684.7h0M329.45 696.4h0M344.26 692.71h0M355.06 682.05h0M327.88 700.95h0M358.82 684.48h0M341.43 701.15h0M360.73 689.41h0M360.33 700.74h0M323.2 692.26h0M348.58 678.58h0M330.57 703.62h0M346.08 703.14h0M357.12 699.75h0M339.4 692.25h0M347.4 663.07h0M348.01 702.71h0M328.29 720.14h0M338.06 703.59h0M332.54 714.66h0M340.41 702.46h0M351.9 695.58h0M326.54 707.2h0M343.3 703.89h0M341.29 718.03h0M336.39 693.6h0M355.15 704.67h0M334.97 682.81h0M353.43 683.22h0M323.48 706.09h0M338.62 700.14h0M405.41 685.23h0M432.44 685.97h0M404.92 664.34h0M415.15 681.84h0M409.53 680.59h0M415.17 667.23h0M405.94 661.24h0M414.95 695.33h0M422.3 681.44h0M418.25 679.55h0M433.23 679.92h0M404.67 675.42h0M428.72 670.19h0M431.08 667.15h0M435.46 682.69h0M415.49 670.23h0M435.99 686.69h0M421.83 707.59h0M418.42 693.86h0M419.95 676.97h0M416.25 670.94h0M426.98 703.12h0M420.86 698.31h0M434.25 679.5h0M418.44 714.91h0M402.33 673.22h0M406.37 668.17h0M416.26 710.64h0M418.54 670.94h0M431.75 681.08h0M423.14 664.01h0M406.86 676.02h0M412 681.51h0M313.82 693.46h0M316.96 700.06h0M323 689.5h0M325.41 688.18h0M324.2 707.98h0M330.24 680.26h0M335.08 696.1h0M337.49 704.02h0M339.91 711.94h0M314.54 754.18h0M333.87 762.1h0M337.49 764.74h0M343.53 762.76h0M348.36 770.02h0M350.78 762.76h0M348.36 774.64h0M339.91 738.34h0M344.74 731.74h0M351.99 742.3h0M347.16 714.58h0M332.66 684.22h0M326.62 682.9h0M342.32 681.58h0M442.59 671.02h0M438.96 661.78h0M431.72 677.62h0M426.88 698.74h0M424.47 711.94h0M429.3 692.14h0M419.64 700.06h0M393.06 759.46h0M390.64 768.7h0M395.48 770.02h0M388.23 773.98h0" stroke="#000" stroke-width="1.4" stroke-linecap="round" fill="none"/>
<rect x="308.6" y="657.1" width="136.4" height="121.4" fill="none" stroke="#666" stroke-width="0.8"/>
<line x1="309.5" y1="778.3" x2="309.5" y2="781" stroke="#666" stroke-width="0.7"/>
<text x="308.5" y="792" font-size="11.2" text-anchor="middle" fill="#1a1a1a" textLength="5.92" lengthAdjust="spacingAndGlyphs" stroke="#1a1a1a" stroke-width="0.25">1</text>
<line x1="335.94" y1="778.3" x2="335.94" y2="781" stroke="#666" stroke-width="0.7"/>
<text x="331.2" y="792" font-size="11.2" text-anchor="middle" fill="#1a1a1a" textLength="5.92" lengthAdjust="spacingAndGlyphs" stroke="#1a1a1a" stroke-width="0.25">2</text>
<line x1="362.38" y1="778.3" x2="362.38" y2="781" stroke="#666" stroke-width="0.7"/>
<text x="355.3" y="792" font-size="11.2" text-anchor="middle" fill="#1a1a1a" textLength="5.92" lengthAdjust="spacingAndGlyphs" stroke="#1a1a1a" stroke-width="0.25">3</text>
<line x1="388.82" y1="778.3" x2="388.82" y2="781" stroke="#666" stroke-width="0.7"/>
<text x="379.1" y="792" font-size="11.2" text-anchor="middle" fill="#1a1a1a" textLength="5.92" lengthAdjust="spacingAndGlyphs" stroke="#1a1a1a" stroke-width="0.25">4</text>
<line x1="415.26" y1="778.3" x2="415.26" y2="781" stroke="#666" stroke-width="0.7"/>
<text x="406" y="792" font-size="11.2" text-anchor="middle" fill="#1a1a1a" textLength="5.92" lengthAdjust="spacingAndGlyphs" stroke="#1a1a1a" stroke-width="0.25">5</text>
<line x1="441.7" y1="778.3" x2="441.7" y2="781" stroke="#666" stroke-width="0.7"/>
<text x="429.3" y="792" font-size="11.2" text-anchor="middle" fill="#1a1a1a" textLength="5.92" lengthAdjust="spacingAndGlyphs" stroke="#1a1a1a" stroke-width="0.25">6</text>
<line x1="305.8" y1="775.3" x2="308.6" y2="775.3" stroke="#666" stroke-width="0.7"/>
<text stroke="#1a1a1a" stroke-width="0.25" x="304.3" y="775.3" font-size="11.2" fill="#1a1a1a" text-anchor="middle" transform="rotate(-90 304.3 775.3)">0</text>
<line x1="305.8" y1="748.9" x2="308.6" y2="748.9" stroke="#666" stroke-width="0.7"/>
<text stroke="#1a1a1a" stroke-width="0.25" x="304.3" y="749.2" font-size="11.2" fill="#1a1a1a" text-anchor="middle" transform="rotate(-90 304.3 749.2)">2</text>
<line x1="305.8" y1="722.5" x2="308.6" y2="722.5" stroke="#666" stroke-width="0.7"/>
<text stroke="#1a1a1a" stroke-width="0.25" x="304.3" y="722.5" font-size="11.2" fill="#1a1a1a" text-anchor="middle" transform="rotate(-90 304.3 722.5)">4</text>
<line x1="305.8" y1="696.1" x2="308.6" y2="696.1" stroke="#666" stroke-width="0.7"/>
<text stroke="#1a1a1a" stroke-width="0.25" x="304.3" y="696.3" font-size="11.2" fill="#1a1a1a" text-anchor="middle" transform="rotate(-90 304.3 696.3)">6</text>
<line x1="305.8" y1="669.7" x2="308.6" y2="669.7" stroke="#666" stroke-width="0.7"/>
<text stroke="#1a1a1a" stroke-width="0.25" x="304.3" y="669.7" font-size="11.2" fill="#1a1a1a" text-anchor="middle" transform="rotate(-90 304.3 669.7)">8</text>
<text x="375.4" y="652.2" font-size="12.1" text-anchor="middle" fill="#1a1a1a" textLength="59.6" lengthAdjust="spacingAndGlyphs" stroke="#1a1a1a" stroke-width="0.25">TCGA data</text>
<text x="375.6" y="805.5" font-size="12.2" text-anchor="middle" fill="#1a1a1a" textLength="91" lengthAdjust="spacingAndGlyphs" stroke="#1a1a1a" stroke-width="0.25">log2(PHF8 TPM)</text>
<text stroke="#1a1a1a" stroke-width="0.25" x="290.6" y="724.2" font-size="12.2" fill="#1a1a1a" text-anchor="middle" textLength="100" lengthAdjust="spacingAndGlyphs" transform="rotate(-90 290.6 724.2)">log2(ERBB3 TPM)</text>
<text x="316.5" y="666.2" font-size="6.2" fill="#333" textLength="55.4" lengthAdjust="spacingAndGlyphs" stroke="#333" stroke-width="0.25">p−value = 2.9e−65</text>
<text stroke="#333" stroke-width="0.25" x="316.5" y="673.2" font-size="6.2" fill="#333" textLength="25.5" lengthAdjust="spacingAndGlyphs">R<tspan font-size="4" dy="1">s</tspan><tspan dy="-1"> = 0.44</tspan></text>
<text x="383.8" y="730.5" font-size="11.8" fill="#f02020" textLength="38.1" lengthAdjust="spacingAndGlyphs" stroke="#f02020" stroke-width="0.25">R=0.44</text>
<text stroke="#2424f0" stroke-width="0.25" x="383.3" y="744.9" font-size="11.8" fill="#2424f0" textLength="49.1" lengthAdjust="spacingAndGlyphs"><tspan font-style="italic">p</tspan>&lt;0.0001</text>
<text x="479.4" y="627.1" font-size="15.5" font-weight="bold" textLength="10.1" lengthAdjust="spacingAndGlyphs">H</text>
<circle cx="531.21" cy="762.99" r="1.9" fill="#111"/>
<circle cx="532.15" cy="752" r="1.9" fill="#111"/>
<circle cx="536.85" cy="734.74" r="1.9" fill="#111"/>
<circle cx="540.94" cy="751.06" r="1.9" fill="#111"/>
<circle cx="542.82" cy="755.14" r="1.9" fill="#111"/>
<circle cx="548.47" cy="731.29" r="1.9" fill="#111"/>
<circle cx="550.98" cy="746.98" r="1.9" fill="#111"/>
<circle cx="552.23" cy="752.63" r="1.9" fill="#111"/>
<circle cx="553.18" cy="748.55" r="1.9" fill="#111"/>
<circle cx="556.32" cy="732.86" r="1.9" fill="#111"/>
<circle cx="566.36" cy="734.11" r="1.9" fill="#111"/>
<circle cx="573.58" cy="756.71" r="1.9" fill="#111"/>
<circle cx="575.46" cy="753.57" r="1.9" fill="#111"/>
<circle cx="592.41" cy="740.08" r="1.9" fill="#111"/>
<circle cx="593.04" cy="741.33" r="1.9" fill="#111"/>
<circle cx="600.26" cy="734.74" r="1.9" fill="#111"/>
<circle cx="602.45" cy="729.09" r="1.9" fill="#111"/>
<circle cx="605.59" cy="732.23" r="1.9" fill="#111"/>
<circle cx="609.36" cy="738.51" r="1.9" fill="#111"/>
<circle cx="609.99" cy="743.21" r="1.9" fill="#111"/>
<circle cx="609.99" cy="722.81" r="1.9" fill="#111"/>
<circle cx="611.24" cy="725.95" r="1.9" fill="#111"/>
<circle cx="610.62" cy="744.47" r="1.9" fill="#111"/>
<circle cx="615.95" cy="746.35" r="1.9" fill="#111"/>
<circle cx="616.89" cy="753.26" r="1.9" fill="#111"/>
<circle cx="617.52" cy="744.47" r="1.9" fill="#111"/>
<circle cx="619.09" cy="750.43" r="1.9" fill="#111"/>
<circle cx="620.03" cy="711.83" r="1.9" fill="#111"/>
<circle cx="620.03" cy="723.13" r="1.9" fill="#111"/>
<circle cx="620.66" cy="728.15" r="1.9" fill="#111"/>
<circle cx="621.91" cy="756.71" r="1.9" fill="#111"/>
<circle cx="623.8" cy="711.83" r="1.9" fill="#111"/>
<circle cx="623.17" cy="727.52" r="1.9" fill="#111"/>
<circle cx="624.43" cy="723.44" r="1.9" fill="#111"/>
<circle cx="625.05" cy="733.8" r="1.9" fill="#111"/>
<circle cx="625.68" cy="730.66" r="1.9" fill="#111"/>
<circle cx="626.94" cy="725.01" r="1.9" fill="#111"/>
<circle cx="627.56" cy="727.52" r="1.9" fill="#111"/>
<circle cx="628.51" cy="733.8" r="1.9" fill="#111"/>
<circle cx="629.13" cy="729.09" r="1.9" fill="#111"/>
<circle cx="630.08" cy="727.52" r="1.9" fill="#111"/>
<circle cx="630.7" cy="732.23" r="1.9" fill="#111"/>
<circle cx="631.33" cy="735.37" r="1.9" fill="#111"/>
<circle cx="631.96" cy="724.38" r="1.9" fill="#111"/>
<circle cx="632.59" cy="720.3" r="1.9" fill="#111"/>
<circle cx="633.21" cy="713.4" r="1.9" fill="#111"/>
<circle cx="633.84" cy="730.03" r="1.9" fill="#111"/>
<circle cx="634.47" cy="726.26" r="1.9" fill="#111"/>
<circle cx="635.1" cy="733.17" r="1.9" fill="#111"/>
<circle cx="635.73" cy="688.29" r="1.9" fill="#111"/>
<circle cx="636.35" cy="717.48" r="1.9" fill="#111"/>
<circle cx="636.98" cy="727.52" r="1.9" fill="#111"/>
<circle cx="637.61" cy="725.01" r="1.9" fill="#111"/>
<circle cx="638.24" cy="730.66" r="1.9" fill="#111"/>
<circle cx="641.37" cy="728.15" r="1.9" fill="#111"/>
<line x1="531.21" y1="752.63" x2="641.06" y2="725.95" stroke="#111" stroke-width="1.5"/>
<path d="M519.6 659.1V772.1H655.2" stroke="#111" stroke-width="1.3" fill="none"/>
<line x1="516.6" y1="772.1" x2="519.6" y2="772.1" stroke="#111" stroke-width="1.2"/>
<text x="512.5" y="776.3" font-size="11.8" text-anchor="end" fill="#1a1a1a" stroke="#1a1a1a" stroke-width="0.25">0</text>
<line x1="516.6" y1="743.2" x2="519.6" y2="743.2" stroke="#111" stroke-width="1.2"/>
<text x="512.5" y="747.4" font-size="11.8" text-anchor="end" fill="#1a1a1a" stroke="#1a1a1a" stroke-width="0.25">2</text>
<line x1="516.6" y1="714.3" x2="519.6" y2="714.3" stroke="#111" stroke-width="1.2"/>
<text x="512.5" y="718.5" font-size="11.8" text-anchor="end" fill="#1a1a1a" stroke="#1a1a1a" stroke-width="0.25">4</text>
<line x1="516.6" y1="686.1" x2="519.6" y2="686.1" stroke="#111" stroke-width="1.2"/>
<text x="512.5" y="690.3" font-size="11.8" text-anchor="end" fill="#1a1a1a" stroke="#1a1a1a" stroke-width="0.25">6</text>
<line x1="519.6" y1="772.1" x2="519.6" y2="775.3" stroke="#111" stroke-width="1.2"/>
<text x="519" y="787.8" font-size="11.8" text-anchor="middle" fill="#1a1a1a" stroke="#1a1a1a" stroke-width="0.25">-5</text>
<line x1="572.3" y1="772.1" x2="572.3" y2="775.3" stroke="#111" stroke-width="1.2"/>
<text x="567.6" y="787.8" font-size="11.8" text-anchor="middle" fill="#1a1a1a" stroke="#1a1a1a" stroke-width="0.25">0</text>
<line x1="624.6" y1="772.1" x2="624.6" y2="775.3" stroke="#111" stroke-width="1.2"/>
<text x="615.3" y="787.8" font-size="11.8" text-anchor="middle" fill="#1a1a1a" stroke="#1a1a1a" stroke-width="0.25">5</text>
<text x="584.6" y="652.5" font-size="11.8" text-anchor="middle" fill="#1a1a1a" textLength="31.4" lengthAdjust="spacingAndGlyphs" stroke="#1a1a1a" stroke-width="0.25">CCLE</text>
<text x="520.2" y="805.5" font-size="12" fill="#1a1a1a" textLength="140.6" lengthAdjust="spacingAndGlyphs" stroke="#1a1a1a" stroke-width="0.25">mRNA expression:ERBB3</text>
<text stroke="#1a1a1a" stroke-width="0.25" x="499.8" y="722.8" font-size="12" fill="#1a1a1a" text-anchor="middle" textLength="131.8" lengthAdjust="spacingAndGlyphs" transform="rotate(-90 499.8 722.8)">mRNA expression:PHF8</text>
<text x="541.6" y="683.2" font-size="11.8" fill="#f02020" textLength="53" lengthAdjust="spacingAndGlyphs" stroke="#f02020" stroke-width="0.25">R=0.5790</text>
<text stroke="#2424f0" stroke-width="0.25" x="541.6" y="697.9" font-size="11.8" fill="#2424f0" textLength="50.2" lengthAdjust="spacingAndGlyphs"><tspan font-style="italic">p</tspan>&lt;0.0001</text>
</g>
</svg></body></html>
